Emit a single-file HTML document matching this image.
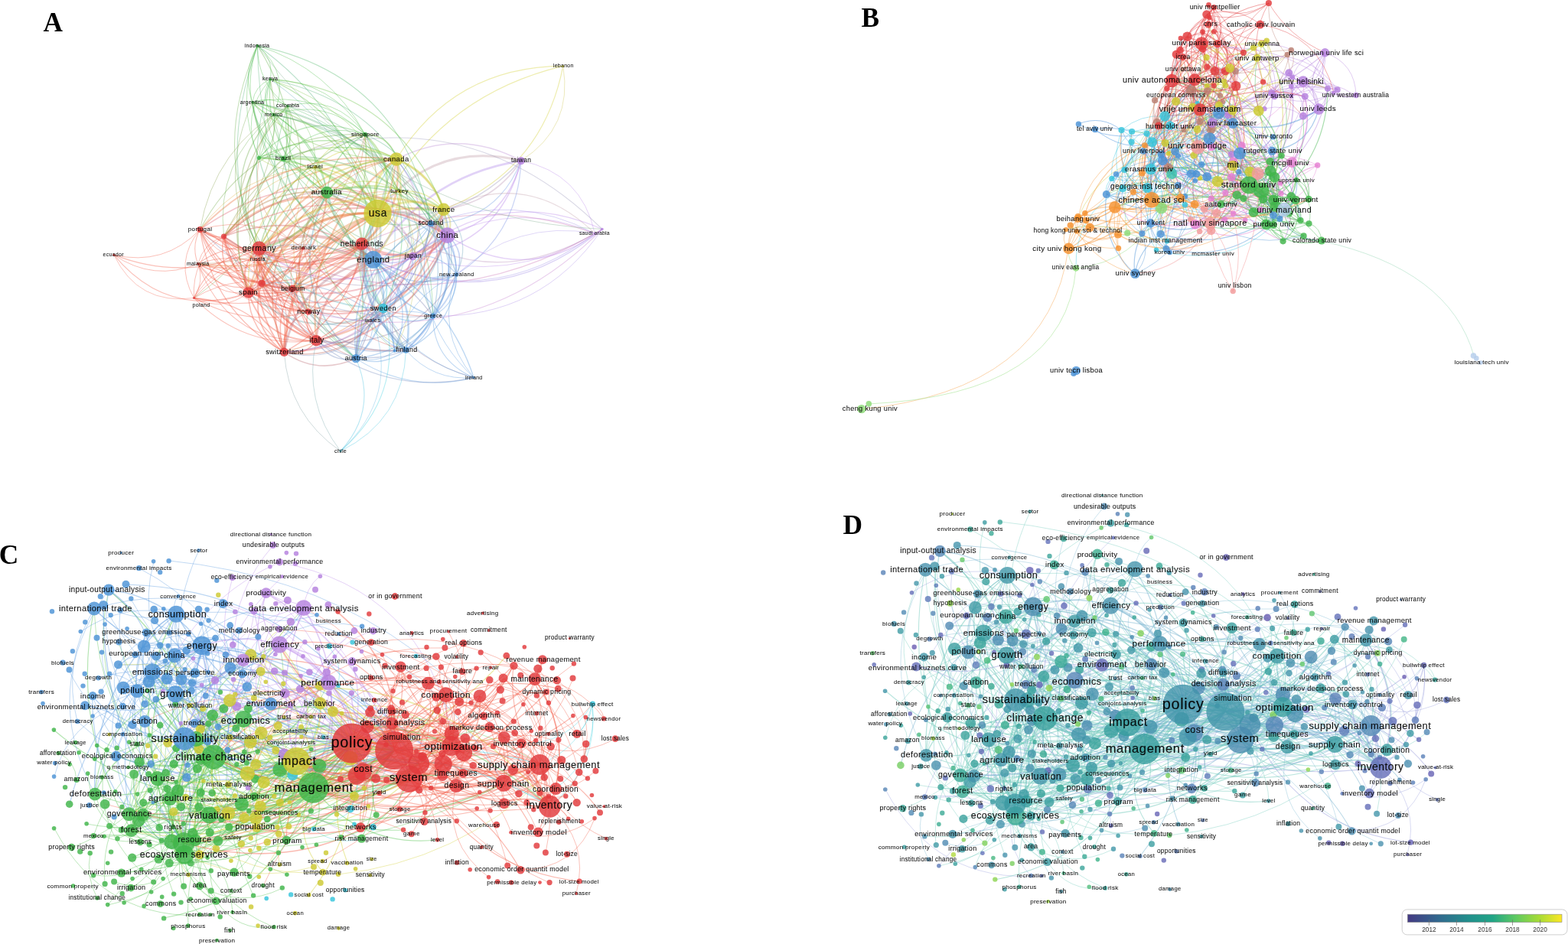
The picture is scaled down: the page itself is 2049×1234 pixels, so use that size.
<!DOCTYPE html><html><head><meta charset="utf-8"><title>Figure</title><style>html,body{margin:0;padding:0;background:#fff}body{width:2049px;height:1234px}svg{display:block}</style></head><body><svg width="2049" height="1234" viewBox="0 0 2049 1234"><rect width="2049" height="1234" fill="#fff"/><g id="pa"><g fill="none" stroke-opacity="0.38"><path d="M493.5 279Q373.6 272.9 324.6 382.5" stroke="#e6873d" stroke-width="2.9"/><path d="M338.6 324.6Q417.7 285.8 487.7 339.4" stroke="#d06968" stroke-width="3.7"/><path d="M521.9 250.3Q568.6 262.1 584.6 307.6" stroke="#cec44d" stroke-width="1.2"/><path d="M342 370.5Q360.7 408.4 402.9 407.6" stroke="#f25a45" stroke-width="1.2"/><path d="M584.6 307.6Q568.6 331.9 539.6 335" stroke="#bb88ea" stroke-width="2"/><path d="M493.5 279Q564.2 182.2 680.9 210.1" stroke="#c3a0ab" stroke-width="3"/><path d="M518 208Q529.2 277.1 472.9 318.7" stroke="#e87e3e" stroke-width="2.6"/><path d="M777.3 305.2Q622.4 250.2 472.9 318.7" stroke="#cf77ad" stroke-width="1.2"/><path d="M342 370.5Q336.1 380.6 324.6 382.5" stroke="#f25a45" stroke-width="2"/><path d="M292.5 309.1Q308.3 333.3 336.5 339.2" stroke="#f25a45" stroke-width="1"/><path d="M493.5 279Q569.7 126.1 735.8 86.4" stroke="#d2cf30" stroke-width="1.2"/><path d="M292.5 309.1Q311.6 328.6 338.6 324.6" stroke="#f25a45" stroke-width="1.3"/><path d="M411.8 218.4Q469.8 225.6 493.5 279" stroke="#d2cf30" stroke-width="2"/><path d="M584.6 307.6Q680.5 262.6 777.3 305.2" stroke="#bb88ea" stroke-width="1"/><path d="M518 208Q441.2 299.4 500.7 403" stroke="#74cf9e" stroke-width="2"/><path d="M338.4 206.4Q372.2 230.4 411.8 218.4" stroke="#a2ca39" stroke-width="1.1"/><path d="M261.4 300.1Q277.4 406.8 371.3 460.3" stroke="#f25a45" stroke-width="1.3"/><path d="M500.7 403Q532 514 444.9 589.7" stroke="#3ccfe0" stroke-width="1.1"/><path d="M477.2 175.8Q330.7 170.9 261.4 300.1" stroke="#73aa49" stroke-width="1.1"/><path d="M579.7 273.9Q575.7 287.1 562.9 292.3" stroke="#6fa4c1" stroke-width="1.6"/><path d="M402.9 407.6Q441.5 438.8 486.9 418.8" stroke="#6c93cd" stroke-width="1"/><path d="M777.3 305.2Q673.4 286.4 596.6 358.9" stroke="#a58ce8" stroke-width="0.9"/><path d="M493.5 279Q431.6 273.1 396.4 324.4" stroke="#ec7141" stroke-width="2"/><path d="M292.5 309.1Q358.2 468.8 530.5 457.7" stroke="#cb6b6d" stroke-width="1.3"/><path d="M518 208Q582.6 236.9 584.6 307.6" stroke="#cdc058" stroke-width="2.7"/><path d="M292.5 309.1Q382.1 207 518 208" stroke="#e7813e" stroke-width="1.8"/><path d="M680.9 210.1Q661.3 287 584.6 307.6" stroke="#bb88ea" stroke-width="1.6"/><path d="M500.7 403Q464.2 425.6 465.1 468.6" stroke="#56a1e0" stroke-width="2"/><path d="M292.5 309.1Q312.7 397.6 402.9 407.6" stroke="#f25a45" stroke-width="1.2"/><path d="M258.7 344.9Q298.8 452.3 413.3 445.2" stroke="#f25a45" stroke-width="1.1"/><path d="M487.7 339.4Q459.2 378.8 486.9 418.8" stroke="#5a9be0" stroke-width="1.2"/><path d="M487.7 339.4Q535.8 384.8 596.6 358.9" stroke="#5a9be0" stroke-width="1.5"/><path d="M338.4 206.4Q367.9 323.6 487.7 339.4" stroke="#52b577" stroke-width="1.4"/><path d="M487.7 339.4Q545.8 385.3 530.5 457.7" stroke="#5a9be0" stroke-width="2.4"/><path d="M777.3 305.2Q665.1 373 539.6 335" stroke="#bb88ea" stroke-width="1"/><path d="M261.4 300.1Q425.8 185.2 584.6 307.6" stroke="#e26775" stroke-width="1.6"/><path d="M342 370.5Q401.9 467.6 515.7 458.7" stroke="#768fc3" stroke-width="1.2"/><path d="M584.6 307.6Q497.6 359.2 515.7 458.7" stroke="#7496e3" stroke-width="1.4"/><path d="M579.7 273.9Q445.3 257.5 382.2 377.3" stroke="#e5883d" stroke-width="2"/><path d="M338.4 206.4Q394.1 206.9 427.4 251.6" stroke="#4fc04a" stroke-width="1.4"/><path d="M396.4 324.4Q339.8 384.2 371.3 460.3" stroke="#f25a45" stroke-width="1.2"/><path d="M579.7 273.9Q553.7 415.1 413.3 445.2" stroke="#ed6c42" stroke-width="2.4"/><path d="M493.5 279Q375.5 331.3 371.3 460.3" stroke="#ee6743" stroke-width="3.6"/><path d="M530.5 457.7Q565.6 498.3 619.1 493.6" stroke="#5a9be0" stroke-width="1"/><path d="M338.4 206.4Q291.8 291.3 324.6 382.5" stroke="#71ab49" stroke-width="1.4"/><path d="M487.7 339.4Q397 326.2 324.6 382.5" stroke="#c96c6f" stroke-width="2"/><path d="M338.4 206.4Q428.6 160.2 518 208" stroke="#5fc247" stroke-width="1.6"/><path d="M258.7 344.9Q317.7 406.4 402.9 407.6" stroke="#f25a45" stroke-width="1"/><path d="M357.4 149.9Q416.7 184 427.4 251.6" stroke="#4fc04a" stroke-width="1.4"/><path d="M539.6 335Q467.1 382.1 465.1 468.6" stroke="#a68ce8" stroke-width="1.8"/><path d="M596.6 358.9Q533.2 462 413.3 445.2" stroke="#9681a3" stroke-width="1.3"/><path d="M258.7 344.9Q290.9 388.3 342 370.5" stroke="#f25a45" stroke-width="1.1"/><path d="M596.6 358.9Q531 388.4 515.7 458.7" stroke="#5a9be0" stroke-width="1"/><path d="M518 208Q563.9 322.4 486.9 418.8" stroke="#89af9b" stroke-width="1.1"/><path d="M411.8 218.4Q387.7 379.4 530.5 457.7" stroke="#b3c25d" stroke-width="1.1"/><path d="M477.2 175.8Q476.6 226.8 521.9 250.3" stroke="#a0c93a" stroke-width="1"/><path d="M258.7 344.9Q353.9 364.6 371.3 460.3" stroke="#f25a45" stroke-width="1.1"/><path d="M579.7 273.9Q556.7 338.8 487.7 339.4" stroke="#c5c943" stroke-width="2.2"/><path d="M261.4 300.1Q287 342.6 336.5 339.2" stroke="#f25a45" stroke-width="1"/><path d="M342 370.5Q360.2 384.8 382.2 377.3" stroke="#f25a45" stroke-width="1.2"/><path d="M539.6 335Q542 381.5 500.7 403" stroke="#8da2e6" stroke-width="1.4"/><path d="M465.1 468.6Q536.7 514.7 619.1 493.6" stroke="#5a9be0" stroke-width="1.1"/><path d="M370.3 207.5Q456.5 200.9 493.5 279" stroke="#72c443" stroke-width="2.8"/><path d="M336.4 59.6Q480.4 162.6 487.7 339.4" stroke="#53b37d" stroke-width="1.2"/><path d="M411.8 218.4Q411.1 238.9 427.4 251.6" stroke="#a6ca39" stroke-width="1.3"/><path d="M584.6 307.6Q483 415.1 342 370.5" stroke="#e16878" stroke-width="2.1"/><path d="M353.2 103.7Q333 111.9 329.9 133.6" stroke="#4fc04a" stroke-width="1"/><path d="M562.9 292.3Q577.6 294.5 584.6 307.6" stroke="#6d97e2" stroke-width="2.2"/><path d="M258.7 344.9Q267.2 368.5 253.5 389.5" stroke="#f25a45" stroke-width="0.9"/><path d="M261.4 300.1Q362.6 361 472.9 318.7" stroke="#f25a45" stroke-width="1.7"/><path d="M357.4 149.9Q432.5 276.6 579.7 273.9" stroke="#77c542" stroke-width="1.3"/><path d="M353.2 103.7Q351.9 129.5 376 138.7" stroke="#4fc04a" stroke-width="0.9"/><path d="M336.4 59.6Q430.3 89.2 477.2 175.8" stroke="#4fc04a" stroke-width="1"/><path d="M370.3 207.5Q410.6 214.4 427.4 251.6" stroke="#4fc04a" stroke-width="1.4"/><path d="M261.4 300.1Q274.8 312.1 292.5 309.1" stroke="#f25a45" stroke-width="1.3"/><path d="M565.8 413.1Q558.8 443.8 530.5 457.7" stroke="#5a9be0" stroke-width="1.4"/><path d="M376 138.7Q311.2 333.2 465.1 468.6" stroke="#51ba64" stroke-width="1.1"/><path d="M376 138.7Q423 244.9 338.6 324.6" stroke="#7ba449" stroke-width="1.2"/><path d="M292.5 309.1Q321.5 364.1 382.2 377.3" stroke="#f25a45" stroke-width="1.1"/><path d="M353.2 103.7Q344.4 200.7 427.4 251.6" stroke="#4fc04a" stroke-width="1.3"/><path d="M370.3 207.5Q504.8 306.4 465.1 468.6" stroke="#51ba61" stroke-width="1.3"/><path d="M562.9 292.3Q673 250.1 777.3 305.2" stroke="#9f8ee7" stroke-width="1"/><path d="M324.6 382.5Q325.3 434.9 371.3 460.3" stroke="#f25a45" stroke-width="1.5"/><path d="M292.5 309.1Q282.8 357.1 324.6 382.5" stroke="#f25a45" stroke-width="1.6"/><path d="M472.9 318.7Q468.6 387.3 402.9 407.6" stroke="#f25a45" stroke-width="1.9"/><path d="M261.4 300.1Q226.9 342.1 253.5 389.5" stroke="#f25a45" stroke-width="1"/><path d="M735.8 86.4Q709 222.7 579.7 273.9" stroke="#d2cf30" stroke-width="1.2"/><path d="M427.4 251.6Q402.9 312.3 338.6 324.6" stroke="#64b349" stroke-width="2.6"/><path d="M353.2 103.7Q337.8 159.6 370.3 207.5" stroke="#4fc04a" stroke-width="1"/><path d="M253.5 389.5Q324.5 429 402.9 407.6" stroke="#f25a45" stroke-width="1.1"/><path d="M353.2 103.7Q286.9 323.7 465.1 468.6" stroke="#52b76f" stroke-width="1.1"/><path d="M539.6 335Q575.1 330.2 596.6 358.9" stroke="#6998e2" stroke-width="1.3"/><path d="M472.9 318.7Q486.3 324.8 487.7 339.4" stroke="#c36e75" stroke-width="2.5"/><path d="M402.9 407.6Q396.2 429.7 413.3 445.2" stroke="#f25a45" stroke-width="1.5"/><path d="M329.9 133.6Q482 160.6 562.9 292.3" stroke="#53b37e" stroke-width="1"/><path d="M539.6 335Q533.8 389.8 486.9 418.8" stroke="#6d97e2" stroke-width="1.1"/><path d="M562.9 292.3Q530.6 409.8 619.1 493.6" stroke="#5a9be0" stroke-width="1"/><path d="M382.2 377.3Q315 353.6 253.5 389.5" stroke="#f25a45" stroke-width="1"/><path d="M427.4 251.6Q556.4 281.1 565.8 413.1" stroke="#59a0cd" stroke-width="1.3"/><path d="M370.3 207.5Q607.6 122.6 786.9 299.5" stroke="#9b99bb" stroke-width="1.1"/><path d="M402.9 407.6Q453.4 440 500.7 403" stroke="#b78077" stroke-width="1.4"/><path d="M680.9 210.1Q653.1 321 539.6 335" stroke="#bb88ea" stroke-width="1.6"/><path d="M680.9 210.1Q554.6 230.5 487.7 339.4" stroke="#b08ae9" stroke-width="2.6"/><path d="M324.6 382.5Q405.6 453.3 500.7 403" stroke="#7aa7ab" stroke-width="2.2"/><path d="M565.8 413.1Q526.7 461.2 465.1 468.6" stroke="#5a9be0" stroke-width="1.5"/><path d="M338.6 324.6Q294.4 318.1 258.7 344.9" stroke="#f25a45" stroke-width="1.1"/><path d="M427.4 251.6Q367.5 373.8 465.1 468.6" stroke="#57a5b8" stroke-width="1.9"/><path d="M324.6 382.5Q354.8 395.3 382.2 377.3" stroke="#f25a45" stroke-width="1.6"/><path d="M376 138.7Q277.9 245.3 324.6 382.5" stroke="#8c9a48" stroke-width="1.3"/><path d="M336.4 59.6Q258.9 232.9 382.2 377.3" stroke="#6aaf49" stroke-width="1.1"/><path d="M338.6 324.6Q326.5 399.3 371.3 460.3" stroke="#f25a45" stroke-width="1.8"/><path d="M477.2 175.8Q465.8 308.2 336.5 339.2" stroke="#d06f46" stroke-width="1"/><path d="M500.7 403Q529.8 430 565.8 413.1" stroke="#52a9e0" stroke-width="1.2"/><path d="M472.9 318.7Q506.9 395.6 465.1 468.6" stroke="#7f8bba" stroke-width="1.6"/><path d="M329.9 133.6Q408.1 168.2 427.4 251.6" stroke="#4fc04a" stroke-width="1.2"/><path d="M562.9 292.3Q489.9 361.5 515.7 458.7" stroke="#5a9be0" stroke-width="1"/><path d="M735.8 86.4Q749.2 166.4 680.9 210.1" stroke="#cec44e" stroke-width="1"/><path d="M261.4 300.1Q334.9 279.1 396.4 324.4" stroke="#f25a45" stroke-width="1"/><path d="M427.4 251.6Q569.8 326.7 680.9 210.1" stroke="#9c98bc" stroke-width="1.5"/><path d="M253.5 389.5Q330.8 394.3 371.3 460.3" stroke="#f25a45" stroke-width="1.2"/><path d="M324.6 382.5Q345.7 446.7 413.3 445.2" stroke="#f25a45" stroke-width="2"/><path d="M530.5 457.7Q527.4 549.4 444.9 589.7" stroke="#41c6e0" stroke-width="1"/><path d="M493.5 279Q451.5 343.6 500.7 403" stroke="#54cfc3" stroke-width="2.8"/><path d="M487.7 339.4Q418.7 370 413.3 445.2" stroke="#dd635b" stroke-width="2.8"/><path d="M777.3 305.2Q642.7 408.2 487.7 339.4" stroke="#9a8ee7" stroke-width="1.1"/><path d="M486.9 418.8Q488.8 449.3 465.1 468.6" stroke="#5a9be0" stroke-width="1"/><path d="M486.9 418.8Q526.4 360.7 596.6 358.9" stroke="#5a9be0" stroke-width="0.9"/><path d="M493.5 279Q497.6 306.3 472.9 318.7" stroke="#e8803e" stroke-width="3"/><path d="M493.5 279Q478.9 234.3 518 208" stroke="#d2cf30" stroke-width="3.2"/><path d="M493.5 279Q408.9 315.7 402.9 407.6" stroke="#e6853d" stroke-width="1.8"/><path d="M584.6 307.6Q531.7 426.5 402.9 407.6" stroke="#e76467" stroke-width="2"/><path d="M411.8 218.4Q331 235.9 292.5 309.1" stroke="#dca937" stroke-width="1"/><path d="M357.4 149.9Q383 174.4 370.3 207.5" stroke="#4fc04a" stroke-width="1.1"/><path d="M786.9 299.5Q649.8 413.4 487.7 339.4" stroke="#a48de8" stroke-width="1.3"/><path d="M376 138.7Q384.5 298.2 253.5 389.5" stroke="#77a749" stroke-width="1"/><path d="M396.4 324.4Q374.4 346.8 382.2 377.3" stroke="#f25a45" stroke-width="1"/><path d="M579.7 273.9Q464.7 337.2 465.1 468.6" stroke="#86aea0" stroke-width="1.6"/><path d="M292.5 309.1Q381.8 358.7 371.3 460.3" stroke="#f25a45" stroke-width="1.1"/><path d="M680.9 210.1Q649.4 290.7 562.9 292.3" stroke="#6b98e2" stroke-width="1.2"/><path d="M336.4 59.6Q246.1 312.8 465.1 468.6" stroke="#53b47c" stroke-width="1.1"/><path d="M427.4 251.6Q471.4 270.7 472.9 318.7" stroke="#72aa49" stroke-width="2.7"/><path d="M493.5 279Q535.1 251.1 579.7 273.9" stroke="#d2cf30" stroke-width="3"/><path d="M336.4 59.6Q420.5 191.4 338.6 324.6" stroke="#64b349" stroke-width="1.2"/><path d="M370.3 207.5Q314.9 255.3 338.6 324.6" stroke="#73aa49" stroke-width="1.8"/><path d="M371.3 460.3Q377 542.7 444.9 589.7" stroke="#83a1a4" stroke-width="1"/><path d="M292.5 309.1Q265.9 317.8 258.7 344.9" stroke="#f25a45" stroke-width="1"/><path d="M786.9 299.5Q569.4 431.1 338.6 324.6" stroke="#cc7ab8" stroke-width="1.3"/><path d="M518 208Q564.9 265.4 539.6 335" stroke="#bd90d6" stroke-width="1.7"/><path d="M396.4 324.4Q422.7 432 530.5 457.7" stroke="#db645c" stroke-width="1.1"/><path d="M579.7 273.9Q528.4 339 565.8 413.1" stroke="#7daaad" stroke-width="1.5"/><path d="M396.4 324.4Q362.5 315.6 336.5 339.2" stroke="#f25a45" stroke-width="1"/><path d="M261.4 300.1Q249.6 321.8 258.7 344.9" stroke="#f25a45" stroke-width="1.1"/><path d="M427.4 251.6Q466.3 251.2 493.5 279" stroke="#78c542" stroke-width="2.8"/><path d="M292.5 309.1Q316.8 409.2 413.3 445.2" stroke="#f25a45" stroke-width="1.7"/><path d="M472.9 318.7Q486.6 455.8 619.1 493.6" stroke="#9482a5" stroke-width="1.1"/><path d="M338.6 324.6Q347 362 382.2 377.3" stroke="#f25a45" stroke-width="1.6"/><path d="M353.2 103.7Q466.9 156.5 493.5 279" stroke="#63c246" stroke-width="1.3"/><path d="M338.6 324.6Q479.3 299.2 565.8 413.1" stroke="#8489b5" stroke-width="1.5"/><path d="M338.4 206.4Q303.2 265.6 338.6 324.6" stroke="#74a949" stroke-width="1.6"/><path d="M680.9 210.1Q644.9 265.1 579.7 273.9" stroke="#c19bb8" stroke-width="1.8"/><path d="M336.4 59.6Q339.8 298 515.7 458.7" stroke="#52b674" stroke-width="1"/><path d="M258.7 344.9Q331.2 320.2 382.2 377.3" stroke="#f25a45" stroke-width="1.1"/><path d="M521.9 250.3Q400.7 263.7 342 370.5" stroke="#dab235" stroke-width="1.1"/><path d="M427.4 251.6Q353.8 288.9 342 370.5" stroke="#dd6746" stroke-width="1.8"/><path d="M148.8 333.2Q219.6 418.9 324.6 382.5" stroke="#f25a45" stroke-width="1.1"/><path d="M382.2 377.3Q345.2 375.1 336.5 339.2" stroke="#f25a45" stroke-width="1"/><path d="M411.8 218.4Q484.2 281.2 579.7 273.9" stroke="#d2cf30" stroke-width="1.4"/><path d="M579.7 273.9Q586 380.1 486.9 418.8" stroke="#6ea4c2" stroke-width="1.2"/><path d="M353.2 103.7Q519.3 219.1 486.9 418.8" stroke="#56a7b0" stroke-width="1"/><path d="M584.6 307.6Q455.5 228.6 338.6 324.6" stroke="#ea615e" stroke-width="2.1"/><path d="M477.2 175.8Q509.9 248.3 472.9 318.7" stroke="#849f48" stroke-width="1.3"/><path d="M500.7 403Q540.9 473.1 619.1 493.6" stroke="#56a1e0" stroke-width="1"/><path d="M493.5 279Q534.7 292.1 539.6 335" stroke="#bf96c6" stroke-width="2.4"/><path d="M579.7 273.9Q689.7 219.2 777.3 305.2" stroke="#c3a0aa" stroke-width="1.1"/><path d="M493.5 279Q503.4 310.5 487.7 339.4" stroke="#78a8b4" stroke-width="2.8"/><path d="M336.4 59.6Q504.6 286.7 786.9 299.5" stroke="#7aaa89" stroke-width="1"/><path d="M486.9 418.8Q515.8 428.3 515.7 458.7" stroke="#5a9be0" stroke-width="1"/><path d="M562.9 292.3Q596.8 316.9 596.6 358.9" stroke="#5a9be0" stroke-width="1.2"/><path d="M579.7 273.9Q524.5 421.9 371.3 460.3" stroke="#ea7740" stroke-width="1.4"/><path d="M539.6 335Q451.9 322.7 382.2 377.3" stroke="#df6a7f" stroke-width="1.7"/><path d="M579.7 273.9Q617.5 390.5 515.7 458.7" stroke="#6ea4c3" stroke-width="1.4"/><path d="M584.6 307.6Q564.2 374.3 500.7 403" stroke="#68b6e3" stroke-width="2.2"/><path d="M370.3 207.5Q389.9 308.3 487.7 339.4" stroke="#53b282" stroke-width="2"/><path d="M584.6 307.6Q528.9 455.1 371.3 460.3" stroke="#eb5f59" stroke-width="2.1"/><path d="M584.6 307.6Q598.7 397.5 530.5 457.7" stroke="#6b98e2" stroke-width="2.2"/><path d="M477.2 175.8Q553.7 209.3 562.9 292.3" stroke="#53b284" stroke-width="1.1"/><path d="M357.4 149.9Q468.2 169.4 493.5 279" stroke="#7dc541" stroke-width="1.4"/><path d="M518 208Q420 227.3 396.4 324.4" stroke="#ec7241" stroke-width="1.1"/><path d="M427.4 251.6Q395.7 281.1 396.4 324.4" stroke="#b58047" stroke-width="1.1"/><path d="M477.2 175.8Q431.8 342.9 258.7 344.9" stroke="#b58047" stroke-width="1"/><path d="M329.9 133.6Q414.5 116.6 477.2 175.8" stroke="#4fc04a" stroke-width="1"/><path d="M500.7 403Q455.3 475.4 371.3 460.3" stroke="#c7766a" stroke-width="1.8"/><path d="M486.9 418.8Q443.3 479.1 371.3 460.3" stroke="#7a8dbf" stroke-width="1.1"/><path d="M261.4 300.1Q387.9 425.7 565.8 413.1" stroke="#7d8cbc" stroke-width="1.2"/><path d="M329.9 133.6Q339.9 148.1 357.4 149.9" stroke="#4fc04a" stroke-width="1"/><path d="M324.6 382.5Q371.7 370.3 402.9 407.6" stroke="#f25a45" stroke-width="1.4"/><path d="M338.6 324.6Q277.5 332.7 253.5 389.5" stroke="#f25a45" stroke-width="1.2"/><path d="M486.9 418.8Q497.7 450.5 530.5 457.7" stroke="#5a9be0" stroke-width="1.1"/><path d="M584.6 307.6Q609 328.9 596.6 358.9" stroke="#7795e3" stroke-width="1.7"/><path d="M336.4 59.6Q306.7 144.3 370.3 207.5" stroke="#4fc04a" stroke-width="1.1"/><path d="M427.4 251.6Q461 205.5 518 208" stroke="#72c443" stroke-width="2"/><path d="M342 370.5Q354.9 429.6 413.3 445.2" stroke="#f25a45" stroke-width="1.7"/><path d="M292.5 309.1Q295.4 357.4 342 370.5" stroke="#f25a45" stroke-width="1.4"/><path d="M357.4 149.9Q283.1 230.3 338.6 324.6" stroke="#6fac49" stroke-width="1.4"/><path d="M530.5 457.7Q523.4 462.9 515.7 458.7" stroke="#5a9be0" stroke-width="1.1"/><path d="M411.8 218.4Q360.3 310.8 402.9 407.6" stroke="#dab235" stroke-width="1"/><path d="M477.2 175.8Q413.3 156.4 370.3 207.5" stroke="#4fc04a" stroke-width="1.1"/><path d="M342 370.5Q414.6 419.7 500.7 403" stroke="#cc7366" stroke-width="1.6"/><path d="M518 208Q394.5 214.4 338.6 324.6" stroke="#d9b535" stroke-width="2.1"/><path d="M411.8 218.4Q475.2 205.5 521.9 250.3" stroke="#d2cf30" stroke-width="1"/><path d="M579.7 273.9Q594.3 288.9 584.6 307.6" stroke="#cec44d" stroke-width="2"/><path d="M338.6 324.6Q400.8 402.7 500.7 403" stroke="#5fb8c2" stroke-width="2"/><path d="M338.4 206.4Q325.3 286.1 396.4 324.4" stroke="#c67546" stroke-width="1"/><path d="M486.9 418.8Q525.1 398.7 565.8 413.1" stroke="#5a9be0" stroke-width="1"/><path d="M253.5 389.5Q281.9 342.7 336.5 339.2" stroke="#f25a45" stroke-width="0.9"/><path d="M521.9 250.3Q567.1 355.9 515.7 458.7" stroke="#bdc64f" stroke-width="1"/><path d="M376 138.7Q362.1 213.2 427.4 251.6" stroke="#4fc04a" stroke-width="1.3"/><path d="M518 208Q537.8 281.7 487.7 339.4" stroke="#c4c944" stroke-width="2.7"/><path d="M324.6 382.5Q291.3 408.3 253.5 389.5" stroke="#f25a45" stroke-width="1"/><path d="M487.7 339.4Q509.6 394.5 565.8 413.1" stroke="#5a9be0" stroke-width="1.7"/><path d="M336.4 59.6Q358 76.6 353.2 103.7" stroke="#4fc04a" stroke-width="1"/><path d="M579.7 273.9Q572.7 313 539.6 335" stroke="#bf96c6" stroke-width="2.1"/><path d="M427.4 251.6Q369.9 322.5 402.9 407.6" stroke="#b18247" stroke-width="1.7"/><path d="M411.8 218.4Q502.3 247.5 539.6 335" stroke="#cab573" stroke-width="1.1"/><path d="M338.6 324.6Q339 407.8 413.3 445.2" stroke="#f25a45" stroke-width="2.4"/><path d="M376 138.7Q414.7 169.2 411.8 218.4" stroke="#62c246" stroke-width="0.9"/><path d="M487.7 339.4Q585.1 389.5 619.1 493.6" stroke="#5a9be0" stroke-width="1.4"/><path d="M338.6 324.6Q407.9 369.1 472.9 318.7" stroke="#f25a45" stroke-width="3.3"/><path d="M539.6 335Q456.5 343.6 402.9 407.6" stroke="#e36772" stroke-width="1.3"/><path d="M477.2 175.8Q559.9 282.1 500.7 403" stroke="#4dc25b" stroke-width="1.2"/><path d="M338.6 324.6Q435.5 399.6 539.6 335" stroke="#c381d2" stroke-width="2.2"/><path d="M477.2 175.8Q432.5 200.7 427.4 251.6" stroke="#4fc04a" stroke-width="1.5"/><path d="M472.9 318.7Q457.2 414.6 371.3 460.3" stroke="#f25a45" stroke-width="1.5"/><path d="M413.3 445.2Q431.1 475 465.1 468.6" stroke="#7a8ec0" stroke-width="1.6"/><path d="M565.8 413.1Q598.4 395.8 596.6 358.9" stroke="#5a9be0" stroke-width="1.2"/><path d="M539.6 335Q505 422.9 413.3 445.2" stroke="#ce78b2" stroke-width="1.9"/><path d="M261.4 300.1Q368.3 340.3 413.3 445.2" stroke="#f25a45" stroke-width="1.6"/><path d="M518 208Q591.3 299 565.8 413.1" stroke="#66a0ce" stroke-width="1.4"/><path d="M338.6 324.6Q341.7 388.7 402.9 407.6" stroke="#f25a45" stroke-width="1.8"/><path d="M477.2 175.8Q349.2 193.1 292.5 309.1" stroke="#8c9a48" stroke-width="1.1"/><path d="M292.5 309.1Q379.6 373.8 472.9 318.7" stroke="#f25a45" stroke-width="1.4"/><path d="M472.9 318.7Q374.4 402.2 258.7 344.9" stroke="#f25a45" stroke-width="1.2"/><path d="M518 208Q397.1 296.4 413.3 445.2" stroke="#e97c3f" stroke-width="2.4"/><path d="M427.4 251.6Q508.8 226.8 579.7 273.9" stroke="#81c640" stroke-width="2.1"/><path d="M376 138.7Q531.3 175.6 539.6 335" stroke="#74ad80" stroke-width="1.1"/><path d="M493.5 279Q626.2 391.7 777.3 305.2" stroke="#c098bf" stroke-width="1.3"/><path d="M596.6 358.9Q494.6 370.2 465.1 468.6" stroke="#5a9be0" stroke-width="1.2"/><path d="M357.4 149.9Q491.3 176.1 562.9 292.3" stroke="#52b770" stroke-width="1.1"/><path d="M493.5 279Q499.5 256.6 521.9 250.3" stroke="#d2cf30" stroke-width="1.6"/><path d="M371.3 460.3Q415.8 491.2 465.1 468.6" stroke="#be707a" stroke-width="1.6"/><path d="M329.9 133.6Q408.6 209.5 518 208" stroke="#78c542" stroke-width="1.1"/><path d="M500.7 403Q497.8 440 530.5 457.7" stroke="#53a7e0" stroke-width="1.3"/><path d="M493.5 279Q382.5 224.1 292.5 309.1" stroke="#ec6e41" stroke-width="2.9"/><path d="M565.8 413.1Q566 470.9 619.1 493.6" stroke="#5a9be0" stroke-width="1.1"/><path d="M584.6 307.6Q614.2 367.3 565.8 413.1" stroke="#6b98e2" stroke-width="1.9"/><path d="M396.4 324.4Q331.7 362.7 258.7 344.9" stroke="#f25a45" stroke-width="1"/><path d="M477.2 175.8Q550 294.6 486.9 418.8" stroke="#58a2c5" stroke-width="1"/><path d="M472.9 318.7Q461.8 369 500.7 403" stroke="#78a8ad" stroke-width="1.6"/><path d="M329.9 133.6Q360.7 166.9 338.4 206.4" stroke="#4fc04a" stroke-width="1"/><path d="M465.1 468.6Q494.4 535.7 444.9 589.7" stroke="#44c1e0" stroke-width="1.1"/><path d="M487.7 339.4Q524 412.3 465.1 468.6" stroke="#5a9be0" stroke-width="2.3"/><path d="M562.9 292.3Q550.9 371.2 486.9 418.8" stroke="#5a9be0" stroke-width="1"/><path d="M411.8 218.4Q317.6 224.1 261.4 300.1" stroke="#dcaa37" stroke-width="1"/><path d="M353.2 103.7Q312.3 150.3 338.4 206.4" stroke="#4fc04a" stroke-width="1"/><path d="M261.4 300.1Q292.7 335.1 338.6 324.6" stroke="#f25a45" stroke-width="1.4"/><path d="M493.5 279Q530.9 271.3 562.9 292.3" stroke="#89af9c" stroke-width="2"/><path d="M329.9 133.6Q357.5 275.8 487.7 339.4" stroke="#52b770" stroke-width="1.4"/><path d="M336.4 59.6Q380.9 96.9 357.4 149.9" stroke="#4fc04a" stroke-width="1"/><path d="M518 208Q501.5 333.9 382.2 377.3" stroke="#e97c3f" stroke-width="2"/><path d="M521.9 250.3Q406.2 246.8 336.5 339.2" stroke="#ed6b42" stroke-width="0.9"/><path d="M329.9 133.6Q266.4 274.7 382.2 377.3" stroke="#75a849" stroke-width="1"/><path d="M584.6 307.6Q532.8 353.6 472.9 318.7" stroke="#e96160" stroke-width="3.7"/><path d="M518 208Q600 166.3 680.9 210.1" stroke="#bd90d6" stroke-width="1.5"/><path d="M338.4 206.4Q431.4 209.7 493.5 279" stroke="#72c443" stroke-width="2.1"/><path d="M357.4 149.9Q424.9 127.5 477.2 175.8" stroke="#4fc04a" stroke-width="1"/><path d="M376 138.7Q280 191.9 261.4 300.1" stroke="#839f48" stroke-width="1"/><path d="M338.6 324.6Q245.6 370.7 148.8 333.2" stroke="#f25a45" stroke-width="1.4"/><path d="M786.9 299.5Q707.1 416.2 565.8 413.1" stroke="#ac8be8" stroke-width="1"/><path d="M562.9 292.3Q530.6 448.7 371.3 460.3" stroke="#9084a9" stroke-width="1.3"/><path d="M338.4 206.4Q489.5 189 584.6 307.6" stroke="#66b46c" stroke-width="1.7"/><path d="M427.4 251.6Q344.4 243.8 292.5 309.1" stroke="#b97e47" stroke-width="1.8"/><path d="M338.6 324.6Q323.5 348.8 342 370.5" stroke="#f25a45" stroke-width="1.8"/><path d="M329.9 133.6Q493.5 167.5 584.6 307.6" stroke="#6eb078" stroke-width="1.2"/><path d="M486.9 418.8Q522.9 518.2 444.9 589.7" stroke="#4eafe0" stroke-width="0.9"/><path d="M472.9 318.7Q410.8 369.6 336.5 339.2" stroke="#f25a45" stroke-width="1.1"/><path d="M261.4 300.1Q367.4 191.8 518 208" stroke="#eb7341" stroke-width="1.9"/><path d="M396.4 324.4Q311.1 326.5 253.5 389.5" stroke="#f25a45" stroke-width="1"/><path d="M427.4 251.6Q474.3 222.8 521.9 250.3" stroke="#b5cc36" stroke-width="1.2"/><path d="M518 208Q505.3 230.5 521.9 250.3" stroke="#d2cf30" stroke-width="1.2"/><path d="M584.6 307.6Q479.9 354.7 465.1 468.6" stroke="#7895e3" stroke-width="1.9"/><path d="M371.3 460.3Q387.5 390.1 336.5 339.2" stroke="#f25a45" stroke-width="1.1"/><path d="M427.4 251.6Q525.6 224.7 584.6 307.6" stroke="#5db95f" stroke-width="2"/><path d="M329.9 133.6Q354.2 124.8 376 138.7" stroke="#4fc04a" stroke-width="0.9"/><path d="M258.7 344.9Q277.7 388.1 324.6 382.5" stroke="#f25a45" stroke-width="1.1"/><path d="M357.4 149.9Q281.6 211.8 292.5 309.1" stroke="#69b049" stroke-width="1"/><path d="M402.9 407.6Q367.5 422.2 371.3 460.3" stroke="#f25a45" stroke-width="1.4"/><path d="M253.5 389.5Q319.5 457.1 413.3 445.2" stroke="#f25a45" stroke-width="1.2"/><path d="M376 138.7Q564.2 211.3 565.8 413.1" stroke="#51ba63" stroke-width="1"/><path d="M353.2 103.7Q377.3 222.5 292.5 309.1" stroke="#7fa249" stroke-width="1.1"/><path d="M413.3 445.2Q397.3 466.9 371.3 460.3" stroke="#f25a45" stroke-width="1.6"/><path d="M336.4 59.6Q336.1 109.3 376 138.7" stroke="#4fc04a" stroke-width="1"/><path d="M518 208Q458.7 336.1 530.5 457.7" stroke="#80aba9" stroke-width="1.6"/><path d="M493.5 279Q447.3 381.8 530.5 457.7" stroke="#6ba2c7" stroke-width="2.9"/><path d="M472.9 318.7Q412.6 324.8 382.2 377.3" stroke="#f25a45" stroke-width="1.4"/><path d="M353.2 103.7Q514.3 135.5 562.9 292.3" stroke="#53b47a" stroke-width="1.1"/><path d="M735.8 86.4Q593.3 87 518 208" stroke="#d2cf30" stroke-width="1.1"/><path d="M411.8 218.4Q422.1 280.9 472.9 318.7" stroke="#dda737" stroke-width="1.2"/><path d="M329.9 133.6Q348.5 267 472.9 318.7" stroke="#76a749" stroke-width="1"/><path d="M261.4 300.1Q301 394.8 402.9 407.6" stroke="#f25a45" stroke-width="1.3"/><path d="M292.5 309.1Q433 404.8 596.6 358.9" stroke="#9382a6" stroke-width="1.1"/><path d="M477.2 175.8Q370.5 215.4 338.6 324.6" stroke="#6dad49" stroke-width="1.6"/><path d="M465.1 468.6Q492.8 475.8 515.7 458.7" stroke="#5a9be0" stroke-width="1.1"/><path d="M342 370.5Q461.6 359.1 530.5 457.7" stroke="#7191c9" stroke-width="1.2"/><path d="M521.9 250.3Q558.6 286.8 539.6 335" stroke="#cec253" stroke-width="1"/><path d="M370.3 207.5Q441.3 307.3 562.9 292.3" stroke="#50bb5d" stroke-width="1.1"/><path d="M413.3 445.2Q395.6 524.8 444.9 589.7" stroke="#7aa7ac" stroke-width="1"/><path d="M357.4 149.9Q388.1 301.9 539.6 335" stroke="#69b370" stroke-width="1.1"/><path d="M148.8 333.2Q200.6 368.5 258.7 344.9" stroke="#f25a45" stroke-width="1"/><path d="M579.7 273.9Q619 310.2 596.6 358.9" stroke="#72a5bd" stroke-width="1.2"/><path d="M396.4 324.4Q372.9 368.8 324.6 382.5" stroke="#f25a45" stroke-width="1.2"/><path d="M493.5 279Q546.9 268.3 584.6 307.6" stroke="#c39fad" stroke-width="3.2"/><path d="M472.9 318.7Q416.7 392.4 324.6 382.5" stroke="#f25a45" stroke-width="1.9"/><path d="M338.4 206.4Q354.7 197.3 370.3 207.5" stroke="#4fc04a" stroke-width="1.1"/><path d="M477.2 175.8Q396.8 141.4 338.4 206.4" stroke="#4fc04a" stroke-width="1.1"/><path d="M427.4 251.6Q420.7 352.2 324.6 382.5" stroke="#da6946" stroke-width="2.3"/><path d="M376 138.7Q342.7 164.5 338.4 206.4" stroke="#4fc04a" stroke-width="1"/><path d="M680.9 210.1Q760.2 226.1 777.3 305.2" stroke="#bb88ea" stroke-width="1"/><path d="M261.4 300.1Q297.9 376 382.2 377.3" stroke="#f25a45" stroke-width="1.3"/><path d="M261.4 300.1Q317.2 322.7 324.6 382.5" stroke="#f25a45" stroke-width="1.3"/><path d="M382.2 377.3Q429.7 466.6 530.5 457.7" stroke="#8c86ad" stroke-width="1.5"/><path d="M396.4 324.4Q436.2 341.3 472.9 318.7" stroke="#f25a45" stroke-width="1.4"/><path d="M427.4 251.6Q439.7 307.7 487.7 339.4" stroke="#53b185" stroke-width="3.2"/><path d="M382.2 377.3Q386.3 396.7 402.9 407.6" stroke="#f25a45" stroke-width="1.3"/><path d="M336.4 59.6Q315.9 95.1 329.9 133.6" stroke="#4fc04a" stroke-width="1"/><path d="M342 370.5Q302.3 401.1 253.5 389.5" stroke="#f25a45" stroke-width="1"/><path d="M376 138.7Q387.3 174.3 370.3 207.5" stroke="#4fc04a" stroke-width="1"/><path d="M357.4 149.9Q299 256.7 342 370.5" stroke="#8b9a48" stroke-width="1"/><path d="M562.9 292.3Q605.7 386.5 530.5 457.7" stroke="#5a9be0" stroke-width="1.2"/><path d="M477.2 175.8Q509.6 176.6 518 208" stroke="#75c442" stroke-width="1.8"/><path d="M324.6 382.5Q344.6 364.7 336.5 339.2" stroke="#f25a45" stroke-width="1.1"/><path d="M579.7 273.9Q436.1 385.7 258.7 344.9" stroke="#ea7840" stroke-width="1"/><path d="M493.5 279Q412.9 299.9 382.2 377.3" stroke="#e6853d" stroke-width="2"/><path d="M413.3 445.2Q344.3 414.3 336.5 339.2" stroke="#f25a45" stroke-width="1"/><path d="M411.8 218.4Q319.6 274.6 324.6 382.5" stroke="#d5c332" stroke-width="1.3"/><path d="M472.9 318.7Q500.8 348.9 539.6 335" stroke="#c283d6" stroke-width="1.6"/><path d="M680.9 210.1Q677.3 306.3 596.6 358.9" stroke="#7c94e4" stroke-width="1.3"/><path d="M521.9 250.3Q557.3 246.1 579.7 273.9" stroke="#d2cf30" stroke-width="1.3"/><path d="M565.8 413.1Q550.4 446.4 515.7 458.7" stroke="#5a9be0" stroke-width="1.1"/><path d="M562.9 292.3Q539 337.7 487.7 339.4" stroke="#5a9be0" stroke-width="1.5"/><path d="M329.9 133.6Q451.6 161.4 493.5 279" stroke="#68c345" stroke-width="1.5"/><path d="M336.4 59.6Q307.2 133.5 338.4 206.4" stroke="#4fc04a" stroke-width="1"/><path d="M261.4 300.1Q277.7 362.8 342 370.5" stroke="#f25a45" stroke-width="1.3"/><path d="M258.7 344.9Q299.8 371.2 336.5 339.2" stroke="#f25a45" stroke-width="0.9"/><path d="M329.9 133.6Q333.5 179.6 370.3 207.5" stroke="#4fc04a" stroke-width="1.1"/><path d="M338.6 324.6Q367.6 340.8 396.4 324.4" stroke="#f25a45" stroke-width="1.3"/><path d="M342 370.5Q323.9 426.1 371.3 460.3" stroke="#f25a45" stroke-width="1.7"/><path d="M376 138.7Q439.3 122.7 477.2 175.8" stroke="#4fc04a" stroke-width="1"/><path d="M357.4 149.9Q364.6 183.8 338.4 206.4" stroke="#4fc04a" stroke-width="1"/><path d="M472.9 318.7Q490.1 404.1 413.3 445.2" stroke="#f25a45" stroke-width="1.9"/><path d="M472.9 318.7Q467 402.6 530.5 457.7" stroke="#7191c9" stroke-width="1.9"/><path d="M465.1 468.6Q373.9 430.6 336.5 339.2" stroke="#c76c70" stroke-width="1.1"/><path d="M493.5 279Q390.1 361.8 258.7 344.9" stroke="#e87d3f" stroke-width="1.8"/><path d="M487.7 339.4Q546.2 388.6 515.7 458.7" stroke="#5a9be0" stroke-width="1.2"/><path d="M382.2 377.3Q376 421.2 413.3 445.2" stroke="#f25a45" stroke-width="2"/><path d="M413.3 445.2Q468.6 482.8 530.5 457.7" stroke="#778ec2" stroke-width="1.3"/><path d="M396.4 324.4Q456.7 415.2 565.8 413.1" stroke="#dd635a" stroke-width="1.1"/><path d="M148.8 333.2Q180.6 399.5 253.5 389.5" stroke="#f25a45" stroke-width="0.9"/><path d="M413.3 445.2Q504.7 518.4 619.1 493.6" stroke="#798ec1" stroke-width="1.2"/><path d="M493.5 279Q573.1 282.8 596.6 358.9" stroke="#6ca3c5" stroke-width="1.9"/><path d="M353.2 103.7Q338.2 128.3 357.4 149.9" stroke="#4fc04a" stroke-width="1"/><path d="M465.1 468.6Q500.7 480.4 530.5 457.7" stroke="#5a9be0" stroke-width="1.3"/><path d="M486.9 418.8Q459.5 458.2 413.3 445.2" stroke="#7b8dbe" stroke-width="1.1"/><path d="M411.8 218.4Q461.3 176.3 518 208" stroke="#d2cf30" stroke-width="1.2"/><path d="M292.5 309.1Q438.2 226 584.6 307.6" stroke="#e96261" stroke-width="1.4"/><path d="M596.6 358.9Q592.1 427.4 530.5 457.7" stroke="#5a9be0" stroke-width="1.2"/><path d="M493.5 279Q386.2 272.5 342 370.5" stroke="#e97a3f" stroke-width="3.2"/><path d="M338.6 324.6Q310.2 348.4 324.6 382.5" stroke="#f25a45" stroke-width="2.4"/><path d="M584.6 307.6Q688.6 375.1 786.9 299.5" stroke="#bb88ea" stroke-width="1.3"/><path d="M342 370.5Q331 356.3 336.5 339.2" stroke="#f25a45" stroke-width="1"/><path d="M487.7 339.4Q390 361.8 371.3 460.3" stroke="#b77381" stroke-width="3"/><path d="M357.4 149.9Q507.8 175.7 584.6 307.6" stroke="#7aaa8a" stroke-width="1.5"/><path d="M396.4 324.4Q464.4 378 539.6 335" stroke="#e36671" stroke-width="1.2"/><path d="M396.4 324.4Q371.3 389.5 413.3 445.2" stroke="#f25a45" stroke-width="1.3"/><path d="M261.4 300.1Q214.5 348.5 148.8 333.2" stroke="#f25a45" stroke-width="1"/><path d="M521.9 250.3Q519.6 300.3 472.9 318.7" stroke="#d9b535" stroke-width="1.3"/><path d="M579.7 273.9Q444 227.1 338.6 324.6" stroke="#d8ba34" stroke-width="2.8"/><path d="M487.7 339.4Q423 393.3 342 370.5" stroke="#de635a" stroke-width="2.6"/><path d="M584.6 307.6Q478.9 429.5 324.6 382.5" stroke="#eb605b" stroke-width="2"/><path d="M487.7 339.4Q514.7 349.8 539.6 335" stroke="#9c8ee7" stroke-width="2"/><path d="M477.2 175.8Q433.3 179.8 411.8 218.4" stroke="#bccc34" stroke-width="1.1"/><path d="M472.9 318.7Q384.4 419.7 253.5 389.5" stroke="#f25a45" stroke-width="1.1"/><path d="M596.6 358.9Q568.1 432.9 619.1 493.6" stroke="#5a9be0" stroke-width="1"/><path d="M396.4 324.4Q381.3 367.4 402.9 407.6" stroke="#f25a45" stroke-width="1.1"/><path d="M518 208Q365.4 233.3 324.6 382.5" stroke="#e97b3f" stroke-width="2.3"/><path d="M518 208Q564.6 226.2 579.7 273.9" stroke="#d2cf30" stroke-width="2.7"/><path d="M336.4 59.6Q528.2 99.4 562.9 292.3" stroke="#51b86a" stroke-width="1.1"/><path d="M353.2 103.7Q435.1 105.6 477.2 175.8" stroke="#4fc04a" stroke-width="1"/><path d="M353.2 103.7Q467.8 142.2 521.9 250.3" stroke="#78c542" stroke-width="1"/><path d="M338.6 324.6Q381.2 421.4 486.9 418.8" stroke="#7c8dbe" stroke-width="1"/><path d="M370.3 207.5Q444.3 177.6 518 208" stroke="#72c443" stroke-width="1.6"/><path d="M427.4 251.6Q322.7 335.3 371.3 460.3" stroke="#dc6846" stroke-width="1.8"/><path d="M376 138.7Q369.4 148.8 357.4 149.9" stroke="#4fc04a" stroke-width="1"/><path d="M477.2 175.8Q488.9 304.5 382.2 377.3" stroke="#76a749" stroke-width="1.3"/><path d="M477.2 175.8Q524.6 221.2 493.5 279" stroke="#7ac541" stroke-width="2.4"/><path d="M292.5 309.1Q398.7 269 487.7 339.4" stroke="#d36764" stroke-width="1.7"/><path d="M487.7 339.4Q514.5 367 500.7 403" stroke="#44c1e0" stroke-width="1.7"/><path d="M396.4 324.4Q353.8 329.3 342 370.5" stroke="#f25a45" stroke-width="1.1"/><path d="M338.6 324.6Q333.9 331.4 336.5 339.2" stroke="#f25a45" stroke-width="1"/><path d="M382.2 377.3Q357.3 416.2 371.3 460.3" stroke="#f25a45" stroke-width="1.6"/><path d="M292.5 309.1Q421.4 199.4 562.9 292.3" stroke="#c06f78" stroke-width="1.2"/><path d="M786.9 299.5Q625.5 462.3 402.9 407.6" stroke="#c480cf" stroke-width="1.1"/><path d="M539.6 335Q497.7 454.4 371.3 460.3" stroke="#c77ec5" stroke-width="1.4"/><path d="M786.9 299.5Q652.3 240.8 539.6 335" stroke="#bb88ea" stroke-width="1.2"/><path d="M562.9 292.3Q608.7 351.6 565.8 413.1" stroke="#5a9be0" stroke-width="1.2"/><path d="M292.5 309.1Q250.2 338.2 253.5 389.5" stroke="#f25a45" stroke-width="1"/><path d="M562.9 292.3Q452.4 346.3 465.1 468.6" stroke="#5a9be0" stroke-width="1.4"/><path d="M402.9 407.6Q344.9 397.5 336.5 339.2" stroke="#f25a45" stroke-width="1"/><path d="M353.2 103.7Q520 117.6 579.7 273.9" stroke="#69c345" stroke-width="1.3"/></g><g fill-opacity="0.82"><circle cx="777.3" cy="305.2" r="1" fill="#b480de"/><circle cx="336.5" cy="339.2" r="1" fill="#e2393c"/><circle cx="735.8" cy="86.4" r="1.3" fill="#cdc931"/><circle cx="486.9" cy="418.8" r="1.3" fill="#4c93d6"/><circle cx="444.9" cy="589.7" r="1.3" fill="#35c4dc"/><circle cx="329.9" cy="133.6" r="1.6" fill="#3fb449"/><circle cx="376" cy="138.7" r="1.6" fill="#3fb449"/><circle cx="148.8" cy="333.2" r="1.6" fill="#e2393c"/><circle cx="258.7" cy="344.9" r="1.6" fill="#e2393c"/><circle cx="253.5" cy="389.5" r="1.6" fill="#e2393c"/><circle cx="619.1" cy="493.6" r="1.6" fill="#4c93d6"/><circle cx="336.4" cy="59.6" r="1.8" fill="#3fb449"/><circle cx="353.2" cy="103.7" r="1.8" fill="#3fb449"/><circle cx="786.9" cy="299.5" r="1.8" fill="#b480de"/><circle cx="357.4" cy="149.9" r="2.1" fill="#3fb449"/><circle cx="411.8" cy="218.4" r="2.1" fill="#cdc931"/><circle cx="521.9" cy="250.3" r="2.1" fill="#cdc931"/><circle cx="396.4" cy="324.4" r="2.1" fill="#e2393c"/><circle cx="515.7" cy="458.7" r="2.1" fill="#4c93d6"/><circle cx="338.4" cy="206.4" r="2.6" fill="#3fb449"/><circle cx="596.6" cy="358.9" r="2.6" fill="#4c93d6"/><circle cx="477.2" cy="175.8" r="3.1" fill="#3fb449"/><circle cx="370.3" cy="207.5" r="3.6" fill="#3fb449"/><circle cx="292.5" cy="309.1" r="3.6" fill="#e2393c"/><circle cx="565.8" cy="413.1" r="3.6" fill="#4c93d6"/><circle cx="261.4" cy="300.1" r="4.1" fill="#e2393c"/><circle cx="562.9" cy="292.3" r="4.1" fill="#4c93d6"/><circle cx="402.9" cy="407.6" r="4.1" fill="#e2393c"/><circle cx="530.5" cy="457.7" r="4.1" fill="#4c93d6"/><circle cx="342" cy="370.5" r="4.7" fill="#e2393c"/><circle cx="382.2" cy="377.3" r="4.7" fill="#e2393c"/><circle cx="680.9" cy="210.1" r="5.2" fill="#b480de"/><circle cx="539.6" cy="335" r="5.2" fill="#b480de"/><circle cx="371.3" cy="460.3" r="5.7" fill="#e2393c"/><circle cx="465.1" cy="468.6" r="5.7" fill="#4c93d6"/><circle cx="500.7" cy="403" r="6.2" fill="#35c4dc"/><circle cx="324.6" cy="382.5" r="7.3" fill="#e2393c"/><circle cx="413.3" cy="445.2" r="7.3" fill="#e2393c"/><circle cx="427.4" cy="251.6" r="7.8" fill="#3fb449"/><circle cx="579.7" cy="273.9" r="8.3" fill="#cdc931"/><circle cx="472.9" cy="318.7" r="8.3" fill="#e2393c"/><circle cx="518" cy="208" r="8.8" fill="#cdc931"/><circle cx="338.6" cy="324.6" r="9.3" fill="#e2393c"/><circle cx="584.6" cy="307.6" r="10.4" fill="#b480de"/><circle cx="487.7" cy="339.4" r="11.4" fill="#4c93d6"/><circle cx="493.5" cy="279" r="18.2" fill="#cdc931"/></g><g font-family="'Liberation Sans',sans-serif" text-anchor="middle" fill="#000" fill-opacity="0.93" stroke="#000" stroke-opacity="0.6" lengthAdjust="spacing"><text x="335.8" y="61.8" font-size="7.12" textLength="32.4" stroke-width="0.09">indonesia</text><text x="353" y="105.3" font-size="7.03" textLength="20" stroke-width="0.08">kenya</text><text x="329.4" y="135.7" font-size="7.02" textLength="31.1" stroke-width="0.08">argentina</text><text x="376" y="140.3" font-size="7.07" textLength="30.1" stroke-width="0.08">colombia</text><text x="357.4" y="151.5" font-size="6.93" textLength="23.3" stroke-width="0.08">mexico</text><text x="477.2" y="177.9" font-size="7.77" textLength="36.3" stroke-width="0.09">singapore</text><text x="370.1" y="209.3" font-size="7.85" textLength="20" stroke-width="0.09">brazil</text><text x="411.8" y="220.2" font-size="7.85" textLength="20" stroke-width="0.09">israel</text><text x="426.6" y="254" font-size="9.93" textLength="39.9" stroke-width="0.12">australia</text><text x="493.5" y="283.4" font-size="13.76" textLength="23.6" stroke-width="0.17">usa</text><text x="261.4" y="302" font-size="8.09" textLength="31.1" stroke-width="0.10">portugal</text><text x="736.1" y="88.2" font-size="6.99" textLength="26.5" stroke-width="0.08">lebanon</text><text x="517.7" y="210.6" font-size="9.51" textLength="33.2" stroke-width="0.11">canada</text><text x="680.9" y="212.1" font-size="8.43" textLength="25.9" stroke-width="0.10">taiwan</text><text x="521.9" y="252.2" font-size="8.06" textLength="23.3" stroke-width="0.10">turkey</text><text x="579.7" y="277" font-size="9.74" textLength="28.8" stroke-width="0.12">france</text><text x="562.9" y="293.7" font-size="8.31" textLength="32.9" stroke-width="0.10">scotland</text><text x="584.6" y="311.2" font-size="11.22" textLength="28.5" stroke-width="0.13">china</text><text x="776.8" y="306.8" font-size="6.85" textLength="39.7" stroke-width="0.08">saudi arabia</text><text x="338.6" y="327.8" font-size="10.59" textLength="43.8" stroke-width="0.13">germany</text><text x="396.7" y="326.2" font-size="7.83" textLength="32.4" stroke-width="0.09">denmark</text><text x="472.7" y="321.9" font-size="10.03" textLength="55.8" stroke-width="0.12">netherlands</text><text x="487.7" y="342.8" font-size="11.3" textLength="42.8" stroke-width="0.14">england</text><text x="539.8" y="336.7" font-size="8.27" textLength="21.5" stroke-width="0.10">japan</text><text x="148" y="335.3" font-size="7.02" textLength="27" stroke-width="0.08">ecuador</text><text x="258.5" y="346.9" font-size="6.92" textLength="29" stroke-width="0.08">malaysia</text><text x="336.5" y="341.2" font-size="6.85" textLength="19.5" stroke-width="0.08">russia</text><text x="324.3" y="384.6" font-size="9.69" textLength="24.6" stroke-width="0.12">spain</text><text x="382.7" y="379.5" font-size="8.35" textLength="31.1" stroke-width="0.10">belgium</text><text x="262.9" y="401.2" font-size="7.06" textLength="22.6" stroke-width="0.08">poland</text><text x="403.2" y="410" font-size="8.7" textLength="29.8" stroke-width="0.10">norway</text><text x="500.7" y="405.7" font-size="9.19" textLength="33.7" stroke-width="0.11">sweden</text><text x="486.9" y="420.7" font-size="7.34" textLength="20" stroke-width="0.09">wales</text><text x="566" y="415" font-size="7.18" textLength="23.3" stroke-width="0.09">greece</text><text x="596.6" y="360.9" font-size="7.6" textLength="45.4" stroke-width="0.09">new zealand</text><text x="413.8" y="448.3" font-size="10.14" textLength="19.2" stroke-width="0.12">italy</text><text x="371.8" y="462.8" font-size="9.26" textLength="49.3" stroke-width="0.11">switzerland</text><text x="465.1" y="470.8" font-size="9.02" textLength="28.8" stroke-width="0.11">austria</text><text x="531.3" y="459.8" font-size="8.85" textLength="27.7" stroke-width="0.11">finland</text><text x="444.9" y="591.8" font-size="7.11" textLength="15.6" stroke-width="0.09">chile</text><text x="619.1" y="495.7" font-size="6.98" textLength="22.3" stroke-width="0.08">ireland</text></g></g><g id="pb"><g fill="none" stroke-opacity="0.45"><path d="M1537 71Q1534 172 1453 233M1466 170Q1490 149 1522 152M1453 233Q1450 196 1479 172M1499 245Q1495 232 1504 221M1446 254Q1443 242 1453 233M1457 271Q1468 251 1453 233M1612 279Q1526 287 1469 222M1511 327Q1507 265 1562 236" stroke="#35c4dc" stroke-width="0.9"/><path d="M1522 152Q1513 201 1557 227M1506 186Q1581 180 1615 112M1469 222Q1489 182 1529 164M1549 268Q1525 277 1505 261" stroke="#35c4dc" stroke-width="1.2"/><path d="M1675 204Q1680 221 1665 232M1660 211Q1616 243 1563 227M1694 235Q1680 275 1638 277M1625 260Q1659 298 1711 292M1710 260Q1705 224 1675 204M1596 267Q1577 254 1577 231M1700 288Q1667 295 1638 277M1711 292Q1657 316 1612 279M1677 315Q1661 309 1655 293M1677 315Q1677 300 1664 294M1727 315Q1681 313 1666 270M1666 270Q1651 248 1660 224" stroke="#3fb449" stroke-width="0.9"/><path d="M1561 104Q1658 153 1664 261M1584 161Q1653 195 1666 270M1675 204Q1647 213 1620 201M1644 227Q1631 261 1596 267M1660 224Q1618 191 1565 192M1648 249Q1638 273 1655 293M1648 249Q1668 226 1663 197M1651 260Q1649 295 1677 315M1693 261Q1688 271 1678 274M1678 274Q1691 290 1711 292M1727 315Q1684 326 1655 293M1666 270Q1673 257 1687 257" stroke="#3fb449" stroke-width="1.2"/><path d="M1583 169Q1634 188 1632 242M1611 217Q1617 233 1632 242M1660 224Q1650 239 1632 242M1660 224Q1597 271 1531 227M1632 242Q1623 268 1596 267M1648 249Q1652 254 1651 260M1648 249Q1662 255 1666 270M1638 277Q1627 261 1632 242" stroke="#3fb449" stroke-width="1.6"/><path d="M1581 181Q1555 181 1535 198M1664 179Q1647 201 1620 201M1664 179Q1628 226 1570 215M1494 198Q1473 191 1466 170M1518 202Q1576 279 1672 286M1535 198Q1647 229 1723 143M1539 204Q1577 243 1632 242M1609 202Q1592 196 1581 181M1663 197Q1647 221 1619 225M1563 227Q1561 231 1562 236M1563 227Q1513 278 1446 254M1562 236Q1599 231 1620 201M1648 249Q1600 278 1549 257M1467 247Q1461 284 1492 305M1446 254Q1448 239 1458 228M1616 255Q1610 239 1619 225M1549 257Q1587 295 1638 277M1581 292Q1587 251 1619 225M1517 306Q1514 269 1539 242M1529 330Q1559 289 1539 242M1483 358Q1505 335 1492 305" stroke="#4c93d6" stroke-width="0.9"/><path d="M1593 148Q1620 225 1693 261M1593 148Q1551 178 1563 227M1570 215Q1610 205 1644 227M1504 221Q1524 216 1535 198M1527 220Q1543 216 1557 227M1527 220Q1521 217 1519 210M1539 242Q1515 229 1518 202M1505 261Q1504 221 1539 204M1505 261Q1526 259 1539 242M1672 286Q1662 285 1655 293M1483 358Q1489 325 1517 306" stroke="#4c93d6" stroke-width="1.2"/><path d="M1519 210Q1558 212 1581 181M1505 261Q1521 226 1494 198M1505 261Q1497 231 1519 210" stroke="#4c93d6" stroke-width="1.6"/><path d="M1461 307Q1468 310 1473 305M1473 305Q1530 325 1581 292M1473 305Q1506 302 1518 272" stroke="#8bdb76" stroke-width="0.9"/><path d="M1732 69Q1683 77 1662 122M1732 69Q1723 93 1735 116M1684 95Q1718 107 1723 143M1684 95Q1688 97 1689 101M1703 107Q1695 106 1689 101M1687 113Q1693 106 1703 107M1748 117Q1716 112 1687 126M1743 121Q1718 126 1703 107M1662 122Q1697 98 1735 116M1662 122Q1640 176 1581 181M1665 126Q1673 85 1638 62M1723 143Q1715 151 1703 152M1703 152Q1730 146 1743 121M1610 144Q1606 145 1605 150M1584 161Q1652 155 1684 95M1665 232Q1648 170 1584 161" stroke="#b480de" stroke-width="0.9"/><path d="M1643 76Q1664 96 1665 126M1732 69Q1641 147 1522 152M1703 107Q1724 119 1723 143M1662 122Q1666 174 1620 201M1723 143Q1703 103 1732 69M1605 150Q1588 139 1568 143M1514 165Q1572 156 1609 202M1584 161Q1656 101 1748 117M1611 161Q1597 169 1584 161M1583 169Q1646 149 1684 95M1583 191Q1639 96 1748 117" stroke="#b480de" stroke-width="1.2"/><path d="M1684 95Q1708 186 1632 242" stroke="#b480de" stroke-width="1.6"/><path d="M1678 274Q1690 295 1677 315M1678 274Q1660 277 1651 260" stroke="#b4cdec" stroke-width="1.2"/><path d="M1687 65Q1639 111 1577 88M1682 72Q1707 184 1616 255M1546 91Q1502 150 1527 220M1614 93Q1606 136 1568 159M1578 119Q1587 119 1594 125M1594 125Q1577 111 1557 118M1509 131Q1515 114 1531 105M1537 133Q1567 122 1598 133M1537 133Q1631 143 1687 65M1598 133Q1553 153 1509 131M1512 159Q1549 152 1583 169M1568 159Q1560 136 1578 119" stroke="#b97f71" stroke-width="0.9"/><path d="M1583 169Q1539 177 1527 220" stroke="#b97f71" stroke-width="1.2"/><path d="M1638 62Q1644 68 1643 76M1655 53Q1616 68 1600 107M1607 89Q1624 124 1611 161M1601 112Q1543 138 1527 201M1645 145Q1585 148 1560 203M1645 145Q1612 106 1561 104M1593 138Q1591 121 1600 107M1610 144Q1663 196 1666 270M1523 187Q1573 166 1623 190M1581 181Q1550 164 1523 187M1527 201Q1576 230 1633 225M1560 203Q1603 248 1660 224M1568 233Q1593 241 1596 267M1591 237Q1568 244 1561 267M1517 306Q1547 248 1523 187" stroke="#cdc931" stroke-width="0.9"/><path d="M1655 53Q1692 141 1665 232M1593 138Q1603 138 1610 144M1610 144Q1629 200 1601 252M1610 144Q1616 122 1600 107M1565 169Q1612 105 1579 32M1565 169Q1556 185 1560 203M1611 161Q1612 196 1633 225M1611 217Q1628 255 1666 270M1591 237Q1638 242 1664 281M1633 225Q1659 188 1645 145M1632 242Q1559 251 1523 187" stroke="#cdc931" stroke-width="1.2"/><path d="M1591 237Q1595 187 1568 143" stroke="#cdc931" stroke-width="1.6"/><path d="M1579 6Q1603 28 1591 57M1586 10Q1629 53 1615 112M1658 4Q1619 30 1579 6M1658 4Q1684 48 1732 69M1647 32Q1627 45 1625 69M1647 32Q1603 48 1577 88M1571 42Q1573 23 1586 10M1552 48Q1536 54 1537 71M1571 64Q1556 63 1552 48M1571 64Q1580 57 1591 57M1542 65Q1565 52 1591 57M1542 65Q1639 78 1703 152M1546 75Q1512 113 1514 165M1625 69Q1584 50 1546 75M1625 69Q1601 47 1570 57M1625 69Q1615 43 1586 41M1655 53Q1612 52 1581 23M1588 93Q1563 117 1531 105M1601 93Q1561 99 1537 133M1651 107Q1629 54 1658 4M1651 107Q1662 113 1665 126M1600 107Q1597 99 1601 93M1586 112Q1577 81 1546 75M1594 125Q1622 66 1577 19M1568 143Q1571 157 1565 169M1593 148Q1628 92 1586 41M1522 152Q1519 93 1571 64" stroke="#e2393c" stroke-width="0.9"/><path d="M1570 57Q1554 61 1546 75M1570 57Q1570 38 1581 23M1570 57Q1582 84 1561 104M1542 65Q1547 88 1531 105M1537 71Q1545 140 1611 161M1588 93Q1571 90 1561 104M1601 93Q1590 85 1577 88M1561 104Q1606 110 1625 69M1615 112Q1621 129 1610 144M1525 116Q1500 161 1519 210M1568 143Q1593 104 1591 57M1559 140Q1550 121 1561 104M1514 165Q1513 178 1523 187M1518 202Q1582 143 1591 57M1499 245Q1504 138 1601 93" stroke="#e2393c" stroke-width="1.2"/><path d="M1565 192Q1552 131 1601 93" stroke="#e2393c" stroke-width="1.6"/><path d="M1687 126Q1668 193 1609 232M1583 191Q1657 169 1703 107M1494 198Q1573 260 1674 253M1535 198Q1616 166 1688 212M1688 212Q1689 231 1673 240M1722 216Q1689 224 1674 253M1673 240Q1653 250 1632 242M1601 252Q1650 245 1663 197M1674 253Q1665 208 1620 201M1674 253Q1659 231 1633 225M1583 260Q1593 267 1590 279M1627 288Q1612 270 1590 279M1647 274Q1631 274 1625 260M1562 293Q1564 271 1583 260M1677 315Q1697 276 1673 240" stroke="#e57fd2" stroke-width="0.9"/><path d="M1688 212Q1657 265 1600 287M1644 227Q1628 242 1609 232M1655 293Q1608 323 1562 293" stroke="#e57fd2" stroke-width="1.2"/><path d="M1577 231Q1567 251 1574 273M1633 225Q1605 268 1556 287M1600 287Q1592 293 1581 292M1503 292Q1531 298 1556 287" stroke="#f29a9a" stroke-width="0.9"/><path d="M1590 279Q1631 267 1633 225M1583 302Q1561 333 1524 325" stroke="#f29a9a" stroke-width="1.2"/><path d="M1518 202Q1538 182 1565 192" stroke="#f29a9a" stroke-width="1.6"/><path d="M1492 226Q1506 200 1535 198M1563 227Q1524 283 1457 271M1481 251Q1516 283 1561 267M1561 267Q1593 260 1609 232M1583 302Q1523 344 1461 307M1408 286Q1413 296 1424 297M1424 297Q1409 307 1393 300M1407 302Q1475 283 1529 330M1461 307Q1518 304 1561 267M1461 307Q1433 322 1407 302M1517 306Q1546 241 1496 190" stroke="#f5912e" stroke-width="0.9"/><path d="M1466 170Q1455 229 1505 261M1499 245Q1489 218 1496 190M1481 251Q1490 263 1505 261M1543 259Q1537 199 1479 186M1457 271Q1487 283 1518 272M1424 297Q1495 279 1519 210" stroke="#f5912e" stroke-width="1.2"/><path d="M1505 261Q1484 280 1457 271" stroke="#f5912e" stroke-width="1.6"/><path d="M1531 227Q1575 248 1611 217" stroke="#35bfae" stroke-width="0.9"/><path d="M1644 227Q1588 200 1531 227" stroke="#35bfae" stroke-width="1.6"/><path d="M1565 135Q1507 159 1504 221M1512 159Q1563 202 1549 268M1529 164Q1498 161 1479 186M1529 164Q1518 180 1499 175M1479 172Q1473 167 1466 170M1479 172Q1472 213 1499 245M1469 222Q1478 242 1499 245M1469 222Q1497 266 1549 268M1469 222Q1516 176 1581 181M1453 233Q1505 221 1543 259M1453 233Q1506 246 1539 204M1543 259Q1491 232 1499 175M1693 261Q1625 357 1511 327M1562 293Q1550 283 1549 268M1511 327Q1522 326 1525 315" stroke="#35c4dc" stroke-width="0.9"/><path d="M1529 164Q1546 212 1591 237M1611 217Q1579 177 1529 164" stroke="#35c4dc" stroke-width="1.2"/><path d="M1593 148Q1532 165 1504 221M1504 221Q1501 183 1522 152M1518 272Q1504 262 1499 245" stroke="#35c4dc" stroke-width="1.6"/><path d="M1612 211Q1678 201 1710 260M1611 217Q1664 218 1693 261M1665 232Q1670 219 1660 211M1632 242Q1654 250 1666 270M1616 255Q1593 279 1561 267M1616 255Q1602 255 1596 267M1687 257Q1662 282 1677 315M1638 277Q1636 265 1625 260M1638 277Q1710 235 1703 152M1711 292Q1726 298 1727 315M1711 292Q1716 260 1694 235M1664 294Q1688 269 1694 235M1727 315Q1684 262 1616 255M1666 270Q1661 282 1664 294" stroke="#3fb449" stroke-width="0.9"/><path d="M1565 192Q1616 232 1675 204M1660 211Q1677 239 1666 270M1688 212Q1714 229 1710 260M1688 212Q1700 235 1687 257M1665 232Q1660 261 1685 279M1632 242Q1636 256 1651 260M1632 242Q1621 245 1616 255M1648 249Q1660 250 1664 261M1625 260Q1583 236 1565 192M1687 257Q1676 227 1644 227M1687 257Q1701 269 1700 288M1518 272Q1603 238 1685 279M1638 277Q1669 283 1693 261M1581 292Q1593 282 1596 267M1704 308Q1679 300 1678 274" stroke="#3fb449" stroke-width="1.2"/><path d="M1531 105Q1626 132 1660 224M1504 221Q1581 211 1648 249M1660 224Q1662 228 1665 232M1648 249Q1665 265 1687 257M1648 249Q1667 267 1693 261M1648 249Q1638 258 1625 260M1457 271Q1549 235 1638 277M1638 277Q1651 266 1648 249M1581 292Q1610 284 1616 255" stroke="#3fb449" stroke-width="1.6"/><path d="M1584 161Q1557 193 1577 231M1458 228Q1516 288 1600 287M1619 225Q1642 263 1685 279M1619 225Q1619 216 1612 211M1665 232Q1640 242 1619 225M1539 242Q1539 228 1527 220M1499 245Q1475 265 1446 254M1543 259Q1515 237 1518 202M1664 281Q1667 286 1672 286M1672 286Q1626 255 1574 273M1655 293Q1597 283 1562 236M1492 305Q1542 279 1563 227M1503 292Q1483 245 1519 210M1727 315Q1693 313 1672 286M1483 358Q1544 331 1561 267" stroke="#4c93d6" stroke-width="0.9"/><path d="M1643 76Q1579 109 1581 181M1723 143Q1711 190 1663 197M1611 161Q1601 179 1581 181M1535 198Q1583 238 1644 227M1620 201Q1622 232 1648 249M1620 201Q1625 213 1619 225M1557 227Q1519 164 1561 104M1563 227Q1573 178 1610 144M1446 254Q1478 277 1518 272M1687 257Q1630 349 1524 325M1678 274Q1605 331 1517 306M1672 286Q1667 229 1611 217M1672 286Q1678 281 1678 274M1524 325Q1530 244 1581 181M1483 358Q1478 320 1503 292" stroke="#4c93d6" stroke-width="1.2"/><path d="M1591 237Q1582 239 1577 231M1503 292Q1542 308 1581 292" stroke="#4c93d6" stroke-width="1.6"/><path d="M1406 351Q1483 342 1518 272" stroke="#8bdb76" stroke-width="0.9"/><path d="M1732 69Q1715 116 1665 126M1684 95Q1694 110 1687 126M1735 116Q1711 58 1648 57M1748 117Q1708 63 1643 76M1772 125Q1771 83 1732 69M1772 125Q1751 132 1735 116M1665 126Q1700 114 1723 143M1705 126Q1636 113 1584 161M1705 126Q1689 193 1620 201M1687 126Q1727 111 1732 69M1723 143Q1715 114 1689 101M1723 143Q1699 113 1662 122M1703 152Q1732 145 1735 116M1703 152Q1680 135 1652 142M1584 161Q1540 160 1506 186M1609 202Q1615 251 1664 261M1531 227Q1576 232 1609 202" stroke="#b480de" stroke-width="0.9"/><path d="M1703 107Q1685 122 1662 122M1705 126Q1721 192 1665 232M1605 150Q1663 170 1665 232M1605 150Q1582 143 1578 119M1584 161Q1564 202 1519 210" stroke="#b480de" stroke-width="1.2"/><path d="M1614 93Q1585 87 1561 104M1578 119Q1530 115 1512 159M1568 159Q1584 145 1605 150M1547 170Q1571 204 1611 217M1535 198Q1536 182 1547 170M1517 306Q1510 196 1594 125" stroke="#b97f71" stroke-width="0.9"/><path d="M1614 93Q1550 94 1522 152M1531 105Q1573 98 1598 133M1557 118Q1507 138 1496 190M1557 118Q1567 147 1547 170M1598 133Q1582 215 1638 277M1610 144Q1584 137 1568 159M1611 161Q1594 156 1583 169M1581 181Q1579 175 1583 169M1678 274Q1594 244 1568 159" stroke="#b97f71" stroke-width="1.2"/><path d="M1531 105Q1547 105 1557 118" stroke="#b97f71" stroke-width="1.6"/><path d="M1577 75Q1558 116 1568 159M1577 75Q1581 99 1601 112M1601 112Q1598 99 1607 89M1578 119Q1550 157 1560 203M1537 133Q1511 164 1527 201M1593 138Q1535 136 1506 186M1610 144Q1627 180 1611 217M1527 201Q1530 197 1535 198M1560 203Q1554 214 1557 227M1574 273Q1631 212 1593 138" stroke="#cdc931" stroke-width="0.9"/><path d="M1648 57Q1649 67 1643 76M1648 57Q1540 138 1518 272M1537 133Q1622 175 1664 261M1537 133Q1572 144 1581 181M1645 145Q1656 102 1638 62M1568 143Q1554 133 1537 133M1559 140Q1578 168 1611 161M1610 144Q1594 192 1633 225M1565 169Q1583 149 1610 144M1611 217Q1620 227 1633 225M1581 292Q1593 242 1560 203" stroke="#cdc931" stroke-width="1.2"/><path d="M1645 145Q1607 111 1557 118" stroke="#cdc931" stroke-width="1.6"/><path d="M1586 10Q1603 32 1591 57M1658 4Q1621 31 1577 19M1579 32Q1581 28 1581 23M1647 32Q1572 88 1581 181M1571 42Q1579 39 1586 41M1543 50Q1547 47 1552 48M1570 57Q1554 54 1542 65M1591 57Q1584 75 1588 93M1591 57Q1612 81 1615 112M1591 57Q1575 39 1552 48M1537 71Q1538 67 1542 65M1546 75Q1497 183 1574 273M1625 69Q1595 146 1514 165M1577 88Q1581 93 1588 93M1614 93Q1611 61 1586 41M1586 112Q1587 97 1601 93M1522 152Q1531 134 1525 116" stroke="#e2393c" stroke-width="0.9"/><path d="M1543 50Q1544 111 1593 148M1546 75Q1532 87 1531 105M1601 93Q1577 84 1561 104M1561 104Q1590 93 1615 112M1561 104Q1524 124 1514 165M1651 107Q1605 131 1561 104M1586 112Q1576 99 1561 104M1529 164Q1548 87 1625 69M1611 161Q1623 119 1588 93M1505 261Q1494 180 1568 143" stroke="#e2393c" stroke-width="1.2"/><path d="M1568 143Q1597 136 1615 112M1527 220Q1505 151 1561 104" stroke="#e2393c" stroke-width="1.6"/><path d="M1583 191Q1568 226 1583 260M1623 190Q1620 167 1605 150M1722 216Q1660 185 1609 232M1673 240Q1649 265 1616 255M1583 260Q1590 239 1609 232M1549 268Q1593 260 1627 288M1600 287Q1645 276 1673 240M1647 274Q1674 232 1722 216M1666 270Q1710 260 1722 216" stroke="#e57fd2" stroke-width="0.9"/><path d="M1570 57Q1651 157 1612 279M1705 126Q1716 173 1688 212M1612 211Q1572 243 1527 220M1612 211Q1624 204 1623 190M1633 225Q1615 198 1583 191M1562 293Q1593 283 1601 252" stroke="#e57fd2" stroke-width="1.2"/><path d="M1591 237Q1633 198 1688 212" stroke="#e57fd2" stroke-width="1.6"/><path d="M1644 227Q1596 226 1581 181M1574 273Q1607 259 1638 277M1562 293Q1572 286 1574 273M1556 287Q1556 270 1543 259M1568 302Q1564 286 1574 273M1524 325Q1551 323 1568 302" stroke="#f29a9a" stroke-width="0.9"/><path d="M1579 32Q1531 109 1565 192M1570 215Q1561 205 1565 192M1609 232Q1594 204 1565 192M1644 227Q1617 262 1574 273M1518 272Q1532 291 1556 287M1574 273Q1572 284 1581 292" stroke="#f29a9a" stroke-width="1.2"/><path d="M1633 225Q1630 275 1581 292" stroke="#f29a9a" stroke-width="1.6"/><path d="M1496 190Q1540 141 1546 75M1418 279Q1426 286 1424 297M1418 279Q1486 313 1549 268M1409 283Q1400 285 1399 295M1419 288Q1416 284 1418 279M1399 295Q1405 292 1408 286M1393 300Q1428 291 1461 307M1461 307Q1431 304 1409 283M1396 325Q1399 301 1419 288" stroke="#f5912e" stroke-width="0.9"/><path d="M1543 259Q1573 263 1591 237M1561 267Q1522 257 1504 221M1457 271Q1445 319 1396 325M1518 272Q1492 235 1496 190M1418 279Q1439 211 1506 186M1408 286Q1429 268 1457 271M1419 288Q1441 286 1457 271M1396 325Q1416 316 1424 297M1396 325Q1396 303 1408 286" stroke="#f5912e" stroke-width="1.2"/><path d="M1408 286Q1452 255 1505 261" stroke="#f5912e" stroke-width="1.6"/><path d="M1531 227Q1511 239 1505 261" stroke="#35bfae" stroke-width="1.6"/><path d="M1565 135Q1574 119 1561 104M1565 135Q1555 185 1577 231M1522 152Q1523 159 1529 164M1466 170Q1451 209 1467 247M1499 175Q1516 169 1522 152M1506 186Q1499 182 1499 175M1504 221Q1511 204 1506 186M1562 236Q1517 260 1467 247M1525 315Q1495 254 1506 186M1511 327Q1491 296 1505 261" stroke="#35c4dc" stroke-width="0.9"/><path d="M1522 152Q1525 174 1506 186M1499 175Q1517 196 1504 221M1506 186Q1563 198 1593 148" stroke="#35c4dc" stroke-width="1.2"/><path d="M1643 76Q1630 147 1675 204M1663 197Q1671 197 1675 204M1660 211Q1611 189 1560 203M1694 235Q1675 253 1648 249M1616 255Q1620 273 1638 277M1700 288Q1679 297 1664 281M1655 293Q1633 283 1625 260M1677 315Q1689 306 1704 308" stroke="#3fb449" stroke-width="0.9"/><path d="M1735 116Q1734 205 1664 261M1675 204Q1634 242 1655 293M1660 211Q1663 217 1660 224M1632 242Q1663 259 1664 294M1664 261Q1672 247 1665 232M1651 260Q1665 250 1665 232M1693 261Q1704 294 1677 315M1693 261Q1683 275 1666 270M1678 274Q1659 285 1638 277M1685 279Q1682 275 1678 274M1666 270Q1655 283 1638 277" stroke="#3fb449" stroke-width="1.2"/><path d="M1612 211Q1629 222 1632 242M1678 274Q1674 265 1664 261M1700 288Q1678 248 1632 242" stroke="#3fb449" stroke-width="1.6"/><path d="M1543 50Q1606 88 1611 161M1514 165Q1532 201 1570 215M1494 198Q1503 219 1527 220M1518 202Q1505 204 1494 198M1663 197Q1620 222 1570 215M1527 220Q1526 207 1535 198M1458 228Q1477 233 1481 251M1577 231Q1568 250 1549 257M1446 254Q1494 256 1527 220M1549 257Q1593 261 1619 225M1549 257Q1545 237 1563 227M1561 267Q1556 247 1563 227M1651 260Q1671 265 1672 286M1518 272Q1505 304 1529 330M1492 305Q1468 245 1518 202M1492 305Q1495 296 1503 292M1503 292Q1459 239 1466 170M1529 330Q1574 321 1590 279" stroke="#4c93d6" stroke-width="0.9"/><path d="M1593 138Q1617 165 1620 201M1664 179Q1622 177 1593 148M1620 201Q1580 184 1568 143M1519 210Q1547 204 1563 227M1688 212Q1707 255 1672 286M1531 227Q1528 216 1519 210M1557 227Q1582 211 1581 181M1660 224Q1668 211 1663 197M1518 272Q1507 279 1503 292M1700 288Q1684 205 1611 161M1503 292Q1501 203 1583 169M1483 358Q1437 316 1446 254" stroke="#4c93d6" stroke-width="1.2"/><path d="M1557 118Q1569 158 1611 161M1723 143Q1671 178 1611 161M1581 181Q1596 207 1591 237M1620 201Q1638 223 1665 232M1519 210Q1523 150 1561 104M1457 271Q1467 219 1519 210M1664 281Q1655 256 1632 242" stroke="#4c93d6" stroke-width="1.6"/><path d="M1473 305Q1453 184 1557 118" stroke="#8bdb76" stroke-width="0.9"/><path d="M1519 210Q1533 241 1518 272" stroke="#8bdb76" stroke-width="1.6"/><path d="M1732 69Q1733 104 1705 126M1689 101Q1631 106 1611 161M1703 107Q1690 112 1687 126M1703 107Q1740 104 1772 125M1687 113Q1644 145 1594 125M1687 113Q1712 105 1735 116M1748 117Q1671 51 1571 64M1748 117Q1706 145 1662 122M1665 126Q1599 83 1537 133M1665 126Q1664 123 1662 122M1652 142Q1612 130 1584 161M1568 143Q1599 165 1609 202M1559 140Q1614 154 1662 122M1583 169Q1608 176 1609 202M1609 202Q1565 186 1559 140" stroke="#b480de" stroke-width="0.9"/><path d="M1557 118Q1577 135 1584 161M1611 161Q1622 182 1609 202M1565 192Q1596 182 1605 150M1644 227Q1633 206 1609 202" stroke="#b480de" stroke-width="1.2"/><path d="M1586 41Q1517 117 1527 220M1687 65Q1666 154 1583 191M1687 65Q1695 81 1684 95M1682 72Q1656 43 1658 4M1614 93Q1608 97 1601 93M1557 118Q1553 141 1568 159M1557 118Q1564 113 1561 104M1509 131Q1505 149 1514 165M1509 131Q1588 70 1687 65M1509 131Q1541 112 1578 119M1559 140Q1532 141 1512 159M1547 170Q1494 185 1458 228M1547 170Q1604 237 1688 212M1494 198Q1528 136 1598 133M1504 221Q1516 170 1568 159M1527 220Q1526 156 1578 119M1664 261Q1604 233 1583 169" stroke="#b97f71" stroke-width="0.9"/><path d="M1578 119Q1588 223 1687 257M1522 152Q1557 144 1583 169M1512 159Q1512 129 1531 105M1583 169Q1592 152 1610 144M1561 267Q1551 214 1583 169" stroke="#b97f71" stroke-width="1.2"/><path d="M1577 75Q1606 116 1584 161M1577 75Q1512 113 1523 187M1638 62Q1649 62 1655 53M1638 62Q1641 56 1648 57M1655 53Q1666 101 1645 145M1643 76Q1577 100 1565 169M1682 72Q1643 98 1645 145M1607 89Q1573 122 1565 169M1607 89Q1596 105 1577 112M1601 112Q1563 102 1537 133M1593 138Q1637 170 1633 225M1593 148Q1574 152 1565 169M1479 172Q1550 182 1610 144M1523 187Q1540 169 1565 169M1527 201Q1620 171 1643 76M1568 233Q1593 229 1612 211M1568 233Q1610 271 1666 270M1562 293Q1525 254 1527 201M1408 286Q1442 207 1527 201" stroke="#cdc931" stroke-width="0.9"/><path d="M1643 76Q1636 100 1615 112M1735 116Q1663 86 1610 144M1645 145Q1628 139 1610 144M1559 140Q1545 168 1565 192M1523 187Q1515 180 1506 186M1581 181Q1604 192 1611 217M1591 237Q1623 195 1610 144" stroke="#cdc931" stroke-width="1.2"/><path d="M1579 6Q1583 52 1625 69M1581 23Q1612 37 1625 69M1581 23Q1559 27 1552 48M1552 48Q1577 59 1577 88M1591 57Q1608 72 1601 93M1588 93Q1593 103 1586 112M1588 93Q1571 73 1546 75M1601 93Q1612 52 1581 23M1607 89Q1616 36 1658 4M1561 104Q1575 102 1577 88M1615 112Q1618 62 1571 42M1525 116Q1566 118 1593 148M1743 121Q1724 45 1647 32M1581 181Q1591 119 1546 75M1565 192Q1560 148 1586 112" stroke="#e2393c" stroke-width="0.9"/><path d="M1579 32Q1581 47 1570 57M1571 42Q1633 75 1645 145M1552 48Q1600 64 1615 112M1561 104Q1583 76 1571 42M1525 116Q1541 104 1561 104M1568 143Q1633 107 1705 126M1522 152Q1532 87 1591 57" stroke="#e2393c" stroke-width="1.2"/><path d="M1531 105Q1529 72 1552 48M1561 104Q1554 126 1568 143M1568 143Q1571 159 1583 169" stroke="#e2393c" stroke-width="1.6"/><path d="M1703 107Q1710 178 1673 240M1611 161Q1591 171 1583 191M1583 191Q1603 182 1623 190M1663 197Q1689 217 1722 216M1660 211Q1642 248 1601 252M1688 212Q1643 253 1583 260M1722 216Q1662 259 1591 237M1609 232Q1640 283 1700 288M1673 240Q1686 259 1710 260M1499 245Q1525 193 1583 191M1601 252Q1547 254 1504 221M1674 253Q1651 266 1625 260M1583 260Q1634 243 1678 274M1583 260Q1571 305 1525 315M1600 287Q1626 289 1647 274M1647 274Q1599 261 1562 293M1517 306Q1569 279 1627 288" stroke="#e57fd2" stroke-width="0.9"/><path d="M1523 187Q1511 252 1562 293M1565 192Q1586 223 1583 260M1623 190Q1652 212 1688 212M1611 217Q1604 266 1562 293M1577 231Q1611 224 1623 190M1678 274Q1628 278 1609 232" stroke="#e57fd2" stroke-width="1.2"/><path d="M1688 212Q1695 245 1678 274" stroke="#e57fd2" stroke-width="1.6"/><path d="M1574 273Q1527 252 1518 202M1556 287Q1576 294 1590 279M1568 302Q1621 232 1610 144M1583 302Q1587 243 1644 227" stroke="#f29a9a" stroke-width="0.9"/><path d="M1565 192Q1579 168 1568 143M1644 227Q1642 239 1648 249M1581 292Q1579 297 1583 302" stroke="#f29a9a" stroke-width="1.2"/><path d="M1644 227Q1616 183 1565 192M1660 224Q1653 229 1644 227M1581 292Q1634 280 1644 227" stroke="#f29a9a" stroke-width="1.6"/><path d="M1571 64Q1502 108 1496 190M1496 190Q1500 223 1481 251M1527 220Q1497 225 1481 251M1492 226Q1566 290 1664 281M1492 226Q1457 269 1461 324M1492 226Q1490 247 1505 261M1557 227Q1537 192 1496 190M1499 245Q1492 254 1481 251M1457 271Q1463 239 1492 226M1518 272Q1505 252 1481 251M1409 283Q1476 248 1479 172M1408 286Q1408 284 1409 283M1399 295Q1421 328 1461 324M1407 302Q1404 294 1408 286M1461 307Q1560 355 1638 277M1525 315Q1524 285 1505 261M1396 325Q1416 306 1418 279M1461 324Q1465 346 1483 358M1461 324Q1448 272 1469 222" stroke="#f5912e" stroke-width="0.9"/><path d="M1505 261Q1534 252 1561 267M1457 271Q1550 287 1632 242M1424 297Q1422 285 1409 283M1525 315Q1478 314 1457 271M1461 324Q1441 299 1457 271" stroke="#f5912e" stroke-width="1.2"/><path d="M1710 260Q1608 310 1505 261" stroke="#f5912e" stroke-width="1.6"/><path d="M1531 227Q1538 169 1593 148" stroke="#35bfae" stroke-width="0.9"/><path d="M1648 57Q1590 78 1565 135M1568 143Q1508 177 1499 245M1529 164Q1523 181 1506 186M1466 170Q1523 205 1518 272M1479 172Q1556 154 1612 211M1479 186Q1483 206 1469 222M1479 186Q1474 179 1479 172M1453 233Q1548 167 1543 50M1467 247Q1463 214 1479 186M1467 247Q1404 279 1406 351M1549 268Q1572 282 1596 267" stroke="#35c4dc" stroke-width="0.9"/><path d="M1506 186Q1497 170 1479 172M1504 221Q1515 242 1539 242M1504 221Q1524 185 1565 192M1499 245Q1483 239 1467 247" stroke="#35c4dc" stroke-width="1.2"/><path d="M1570 57Q1558 195 1655 293M1648 57Q1696 124 1675 204M1531 105Q1637 105 1675 204M1535 198Q1597 262 1685 279M1675 204Q1660 226 1633 225M1612 211Q1614 242 1596 267M1694 235Q1711 242 1710 260M1632 242Q1641 263 1664 261M1616 255Q1648 243 1660 211M1651 260Q1662 279 1685 279M1651 260Q1653 274 1664 281M1693 261Q1689 277 1700 288M1596 267Q1525 214 1446 254M1685 279Q1658 258 1660 224M1664 294Q1660 292 1655 293M1664 294Q1675 263 1665 232M1704 308Q1686 299 1685 279" stroke="#3fb449" stroke-width="0.9"/><path d="M1660 224Q1684 258 1664 294M1632 242Q1638 251 1648 249M1625 260Q1662 313 1727 315M1664 261Q1673 287 1700 288M1664 261Q1679 271 1693 261M1687 257Q1657 261 1632 242M1710 260Q1691 276 1666 270M1678 274Q1671 275 1666 270M1590 279Q1622 309 1664 294M1685 279Q1673 280 1666 270M1655 293Q1652 278 1666 270M1664 294Q1666 268 1648 249M1562 293Q1626 309 1685 279" stroke="#3fb449" stroke-width="1.2"/><path d="M1660 224Q1661 239 1648 249M1665 232Q1683 182 1645 145M1632 242Q1613 228 1591 237M1632 242Q1658 268 1693 261M1664 261Q1646 261 1638 277" stroke="#3fb449" stroke-width="1.6"/><path d="M1593 148Q1555 162 1535 198M1539 204Q1541 227 1562 236M1539 204Q1558 201 1570 215M1519 210Q1516 206 1518 202M1458 228Q1486 208 1519 210M1557 227Q1542 239 1549 257M1557 227Q1560 228 1563 227M1563 227Q1520 227 1506 186M1577 231Q1551 227 1539 204M1562 236Q1534 227 1518 202M1619 225Q1584 297 1503 292M1543 259Q1544 240 1557 227M1664 281Q1629 222 1562 236M1664 281Q1601 271 1570 215M1704 308Q1609 333 1549 257M1524 325Q1514 283 1549 257M1529 330Q1504 319 1503 292" stroke="#4c93d6" stroke-width="0.9"/><path d="M1581 181Q1593 207 1577 231M1581 181Q1606 180 1620 201M1581 181Q1601 167 1610 144M1518 202Q1532 222 1557 227M1519 210Q1515 191 1496 190M1519 210Q1556 200 1577 231M1570 215Q1548 213 1531 227M1531 227Q1542 214 1535 198M1619 225Q1630 230 1632 242M1648 249Q1640 229 1619 225M1446 254Q1499 156 1610 144M1505 261Q1524 227 1563 227M1503 292Q1507 312 1524 325" stroke="#4c93d6" stroke-width="1.2"/><path d="M1593 148Q1625 165 1620 201M1565 192Q1569 164 1593 148" stroke="#4c93d6" stroke-width="1.6"/><path d="M1393 300Q1434 288 1473 305M1406 351Q1395 340 1396 325" stroke="#8bdb76" stroke-width="0.9"/><path d="M1732 69Q1699 70 1689 101M1689 101Q1653 84 1614 93M1772 125Q1757 129 1743 121M1662 122Q1628 124 1614 93M1703 152Q1705 128 1687 113M1703 152Q1728 115 1772 125M1605 150Q1579 127 1588 93M1663 197Q1645 160 1605 150" stroke="#b480de" stroke-width="0.9"/><path d="M1684 95Q1691 106 1703 107M1703 107Q1727 105 1748 117M1735 116Q1724 188 1665 232M1705 126Q1654 59 1570 57M1605 150Q1623 136 1645 145" stroke="#b480de" stroke-width="1.2"/><path d="M1678 274Q1619 272 1577 231" stroke="#b4cdec" stroke-width="1.2"/><path d="M1682 72Q1601 84 1568 159M1546 91Q1540 83 1546 75M1607 89Q1555 113 1547 170M1568 159Q1563 163 1565 169M1583 169Q1522 173 1492 226M1481 251Q1476 199 1512 159" stroke="#b97f71" stroke-width="0.9"/><path d="M1583 191Q1582 172 1568 159M1623 190Q1613 133 1557 118M1527 220Q1500 179 1509 131" stroke="#b97f71" stroke-width="1.2"/><path d="M1557 118Q1566 188 1504 221" stroke="#b97f71" stroke-width="1.6"/><path d="M1638 62Q1615 67 1607 89M1648 57Q1578 53 1531 105M1600 107Q1587 106 1577 112M1601 112Q1596 144 1568 159M1577 112Q1508 173 1543 259M1577 112Q1570 94 1577 75M1645 145Q1674 102 1648 57M1523 187Q1514 197 1519 210M1560 203Q1539 201 1523 187M1633 225Q1644 158 1600 107M1518 272Q1549 261 1568 233" stroke="#cdc931" stroke-width="0.9"/><path d="M1570 57Q1602 83 1638 62M1577 112Q1601 121 1610 144M1560 203Q1574 168 1611 161M1633 225Q1638 229 1644 227" stroke="#cdc931" stroke-width="1.2"/><path d="M1607 89Q1597 63 1570 57M1591 237Q1622 230 1648 249" stroke="#cdc931" stroke-width="1.6"/><path d="M1586 10Q1593 41 1571 64M1577 19Q1568 29 1571 42M1577 19Q1584 17 1586 10M1577 19Q1537 53 1531 105M1581 23Q1580 15 1586 10M1579 32Q1580 25 1577 19M1647 32Q1615 7 1577 19M1586 41Q1613 72 1615 112M1552 48Q1561 32 1579 32M1542 65Q1550 45 1571 42M1542 65Q1551 35 1581 23M1546 75Q1515 162 1577 231M1577 88Q1591 63 1571 42M1577 88Q1562 53 1577 19M1588 93Q1561 77 1552 48M1531 105Q1560 96 1586 112M1615 112Q1594 63 1543 50M1559 140Q1535 110 1537 71M1492 305Q1482 139 1586 10" stroke="#e2393c" stroke-width="0.9"/><path d="M1579 6Q1600 48 1588 93M1586 10Q1545 49 1561 104M1658 4Q1603 12 1570 57M1647 32Q1614 34 1591 57M1570 57Q1586 36 1586 10M1537 71Q1558 81 1561 104M1601 93Q1573 86 1570 57M1615 112Q1647 215 1583 302M1568 143Q1553 100 1570 57M1568 159Q1555 133 1561 104M1514 165Q1534 136 1568 143" stroke="#e2393c" stroke-width="1.2"/><path d="M1552 48Q1546 78 1561 104M1531 105Q1547 113 1561 104M1615 112Q1600 136 1611 161M1615 112Q1571 131 1531 105" stroke="#e2393c" stroke-width="1.6"/><path d="M1583 191Q1603 193 1612 211M1623 190Q1650 197 1660 224M1663 197Q1644 186 1623 190M1612 211Q1628 252 1600 287M1609 232Q1635 254 1627 288M1601 252Q1593 215 1623 190M1612 279Q1591 300 1562 293M1612 279Q1594 275 1583 260M1600 287Q1543 308 1505 261M1627 288Q1575 279 1563 227" stroke="#e57fd2" stroke-width="0.9"/><path d="M1623 190Q1613 164 1584 161M1531 227Q1559 260 1601 252M1609 232Q1625 249 1648 249M1609 232Q1619 293 1677 315M1457 271Q1505 303 1562 293M1647 274Q1652 262 1648 249" stroke="#e57fd2" stroke-width="1.2"/><path d="M1577 19Q1515 161 1583 302M1590 279Q1570 319 1525 315M1581 292Q1590 288 1590 279M1556 287Q1543 230 1494 198" stroke="#f29a9a" stroke-width="0.9"/><path d="M1565 192Q1538 159 1499 175M1644 227Q1655 222 1660 211M1632 242Q1582 253 1568 302M1590 279Q1600 229 1565 192M1590 279Q1580 281 1574 273M1483 358Q1551 352 1581 292" stroke="#f29a9a" stroke-width="1.2"/><path d="M1590 279Q1555 264 1518 272" stroke="#f29a9a" stroke-width="1.6"/><path d="M1506 186Q1487 202 1492 226M1496 190Q1425 211 1409 283M1539 242Q1541 262 1561 267M1481 251Q1455 273 1461 307M1409 283Q1506 310 1563 227M1409 283Q1451 281 1481 251M1419 288Q1457 282 1481 251M1419 288Q1420 294 1424 297M1399 295Q1426 321 1461 307M1393 300Q1386 314 1396 325M1407 302Q1434 345 1483 358M1396 325Q1409 306 1409 283" stroke="#f5912e" stroke-width="0.9"/><path d="M1496 190Q1477 229 1505 261M1457 271Q1434 276 1424 297M1562 293Q1561 271 1543 259M1583 302Q1565 288 1561 267" stroke="#f5912e" stroke-width="1.2"/><path d="M1505 261Q1462 313 1396 325" stroke="#f5912e" stroke-width="1.6"/></g><g fill="none" stroke-opacity="0.55" stroke-width="1"><path d="M1396 325Q1371 510 1126 535" stroke="#f7b36a"/><path d="M1406 351Q1392 516 1135 528" stroke="#a4e392"/><path d="M1727 315Q1894 352 1926 465" stroke="#a6dcc0"/><path d="M1611 381Q1612 330 1581 292M1611 381Q1585 340 1583 302M1611 381Q1650 300 1643 228M1611 381Q1630 320 1600 252" stroke="#f5a3a3"/><path d="M1409 162Q1440 150 1465 170M1409 162Q1450 185 1498 175M1431 169Q1455 165 1479 172M1431 169Q1470 200 1505 186" stroke="#5a9be0"/><path d="M1407 484Q1403 488 1403 491" stroke="#5a9be0"/></g><g fill-opacity="0.82"><circle cx="1742.8" cy="121.1" r="2.8" fill="#b480de"/><circle cx="1687.3" cy="125.7" r="2.8" fill="#b480de"/><circle cx="1935" cy="474" r="2.8" fill="#b4cdec"/><circle cx="1580.6" cy="22.9" r="3.2" fill="#e2393c"/><circle cx="1542.8" cy="50" r="3.2" fill="#e2393c"/><circle cx="1545.6" cy="90.6" r="3.2" fill="#b97f71"/><circle cx="1689.1" cy="100.9" r="3.2" fill="#b480de"/><circle cx="1652.4" cy="142.2" r="3.2" fill="#b480de"/><circle cx="1564.6" cy="135.3" r="3.2" fill="#35c4dc"/><circle cx="1597.8" cy="133" r="3.2" fill="#b97f71"/><circle cx="1526.8" cy="200.6" r="3.2" fill="#cdc931"/><circle cx="1561.8" cy="236.2" r="3.2" fill="#4c93d6"/><circle cx="1568" cy="232.7" r="3.2" fill="#cdc931"/><circle cx="1694.1" cy="235" r="3.2" fill="#3fb449"/><circle cx="1673.1" cy="239.6" r="3.2" fill="#e57fd2"/><circle cx="1627.3" cy="287.8" r="3.2" fill="#e57fd2"/><circle cx="1392.9" cy="300.1" r="3.2" fill="#f5912e"/><circle cx="1407.1" cy="302.4" r="3.2" fill="#f5912e"/><circle cx="1525.2" cy="315.3" r="3.2" fill="#35c4dc"/><circle cx="1528.7" cy="330" r="3.2" fill="#4c93d6"/><circle cx="1511" cy="326.7" r="3.2" fill="#35c4dc"/><circle cx="1929.3" cy="468.4" r="3.3" fill="#b4cdec"/><circle cx="1579.5" cy="6.4" r="3.4" fill="#e2393c"/><circle cx="1571.5" cy="41.7" r="3.4" fill="#e2393c"/><circle cx="1586.4" cy="41.3" r="3.4" fill="#e2393c"/><circle cx="1586.4" cy="111.9" r="3.4" fill="#e2393c"/><circle cx="1577.2" cy="112.4" r="3.4" fill="#cdc931"/><circle cx="1687.3" cy="112.8" r="3.4" fill="#b480de"/><circle cx="1586.4" cy="9.6" r="3.7" fill="#e2393c"/><circle cx="1655.2" cy="53.2" r="3.7" fill="#cdc931"/><circle cx="1687.3" cy="65.4" r="3.7" fill="#b97f71"/><circle cx="1682.2" cy="71.5" r="3.7" fill="#b97f71"/><circle cx="1650.6" cy="107.1" r="3.7" fill="#e2393c"/><circle cx="1599.7" cy="106.6" r="3.7" fill="#cdc931"/><circle cx="1601.3" cy="111.9" r="3.7" fill="#cdc931"/><circle cx="1524.9" cy="115.8" r="3.7" fill="#e2393c"/><circle cx="1594.4" cy="125" r="3.7" fill="#b97f71"/><circle cx="1772.1" cy="124.5" r="3.7" fill="#b480de"/><circle cx="1546.9" cy="169.7" r="3.7" fill="#b97f71"/><circle cx="1409.4" cy="162.3" r="3.7" fill="#4c93d6"/><circle cx="1495.8" cy="189.9" r="3.7" fill="#f5912e"/><circle cx="1663.7" cy="178.9" r="3.7" fill="#4c93d6"/><circle cx="1539.4" cy="203.6" r="3.7" fill="#4c93d6"/><circle cx="1721.7" cy="216" r="3.7" fill="#e57fd2"/><circle cx="1458.4" cy="227.7" r="3.7" fill="#4c93d6"/><circle cx="1452.9" cy="233.4" r="3.7" fill="#35c4dc"/><circle cx="1618.9" cy="224.7" r="3.7" fill="#4c93d6"/><circle cx="1674" cy="252.9" r="3.7" fill="#e57fd2"/><circle cx="1548.5" cy="256.8" r="3.7" fill="#4c93d6"/><circle cx="1548.5" cy="267.8" r="3.7" fill="#35c4dc"/><circle cx="1611.6" cy="279.3" r="3.7" fill="#e57fd2"/><circle cx="1417.8" cy="278.6" r="3.7" fill="#f5912e"/><circle cx="1646.8" cy="274.5" r="3.7" fill="#e57fd2"/><circle cx="1567.6" cy="302.4" r="3.7" fill="#f29a9a"/><circle cx="1461.5" cy="324.5" r="3.7" fill="#f5912e"/><circle cx="1611.2" cy="380.6" r="3.7" fill="#f29a9a"/><circle cx="1135.3" cy="527.9" r="3.8" fill="#8bdb76"/><circle cx="1403" cy="488.2" r="3.8" fill="#4c93d6"/><circle cx="1925.5" cy="465" r="3.8" fill="#b4cdec"/><circle cx="1657.9" cy="4.1" r="4.1" fill="#e2393c"/><circle cx="1624.9" cy="68.8" r="4.1" fill="#e2393c"/><circle cx="1576.7" cy="75.2" r="4.1" fill="#cdc931"/><circle cx="1638" cy="62.4" r="4.1" fill="#cdc931"/><circle cx="1577.2" cy="87.6" r="4.1" fill="#e2393c"/><circle cx="1509.1" cy="131.2" r="4.1" fill="#b97f71"/><circle cx="1735" cy="115.8" r="4.1" fill="#b480de"/><circle cx="1747.6" cy="117.4" r="4.1" fill="#b480de"/><circle cx="1430.9" cy="169.2" r="4.1" fill="#4c93d6"/><circle cx="1465.5" cy="170.1" r="4.1" fill="#35c4dc"/><circle cx="1479.1" cy="172" r="4.1" fill="#35c4dc"/><circle cx="1498.6" cy="174.7" r="4.1" fill="#35c4dc"/><circle cx="1478.6" cy="185.7" r="4.1" fill="#35c4dc"/><circle cx="1494" cy="197.7" r="4.1" fill="#4c93d6"/><circle cx="1674.7" cy="203.6" r="4.1" fill="#3fb449"/><circle cx="1570.3" cy="215.1" r="4.1" fill="#4c93d6"/><circle cx="1469.4" cy="222" r="4.1" fill="#35c4dc"/><circle cx="1539.4" cy="241.9" r="4.1" fill="#4c93d6"/><circle cx="1480.9" cy="251.1" r="4.1" fill="#f5912e"/><circle cx="1601.3" cy="252.2" r="4.1" fill="#e57fd2"/><circle cx="1582.9" cy="259.6" r="4.1" fill="#e57fd2"/><circle cx="1408.7" cy="283.2" r="4.1" fill="#f5912e"/><circle cx="1600.2" cy="287.1" r="4.1" fill="#e57fd2"/><circle cx="1672.4" cy="285.9" r="4.1" fill="#4c93d6"/><circle cx="1699.5" cy="288.2" r="4.1" fill="#3fb449"/><circle cx="1710.5" cy="292.3" r="4.1" fill="#3fb449"/><circle cx="1556.2" cy="287.1" r="4.1" fill="#f29a9a"/><circle cx="1419.1" cy="288.2" r="4.1" fill="#f5912e"/><circle cx="1398.7" cy="294.6" r="4.1" fill="#f5912e"/><circle cx="1473.2" cy="304.7" r="4.1" fill="#8bdb76"/><circle cx="1492.4" cy="305.4" r="4.1" fill="#4c93d6"/><circle cx="1676.6" cy="315.3" r="4.1" fill="#3fb449"/><circle cx="1703.6" cy="308.4" r="4.1" fill="#3fb449"/><circle cx="1406" cy="350.6" r="4.1" fill="#8bdb76"/><circle cx="1579" cy="32.1" r="4.6" fill="#e2393c"/><circle cx="1571.5" cy="64.2" r="4.6" fill="#e2393c"/><circle cx="1542.3" cy="65.4" r="4.6" fill="#e2393c"/><circle cx="1545.6" cy="74.5" r="4.6" fill="#e2393c"/><circle cx="1648.3" cy="57.3" r="4.6" fill="#cdc931"/><circle cx="1614.3" cy="92.9" r="4.6" fill="#b97f71"/><circle cx="1661.6" cy="121.5" r="4.6" fill="#b480de"/><circle cx="1665.5" cy="125.7" r="4.6" fill="#b480de"/><circle cx="1705.2" cy="126.1" r="4.6" fill="#b480de"/><circle cx="1511.9" cy="159.4" r="4.6" fill="#b97f71"/><circle cx="1568" cy="158.9" r="4.6" fill="#b97f71"/><circle cx="1560" cy="202.9" r="4.6" fill="#cdc931"/><circle cx="1609.3" cy="201.8" r="4.6" fill="#b480de"/><circle cx="1492.4" cy="225.9" r="4.6" fill="#f5912e"/><circle cx="1624.9" cy="259.6" r="4.6" fill="#3fb449"/><circle cx="1710.2" cy="260.3" r="4.6" fill="#3fb449"/><circle cx="1684.6" cy="279" r="4.6" fill="#3fb449"/><circle cx="1524.1" cy="325.4" r="4.6" fill="#4c93d6"/><circle cx="1591" cy="57.3" r="5" fill="#e2393c"/><circle cx="1642.6" cy="75.7" r="5" fill="#cdc931"/><circle cx="1577.7" cy="119.2" r="5" fill="#b97f71"/><circle cx="1684.3" cy="95.2" r="5" fill="#b480de"/><circle cx="1702.9" cy="151.8" r="5" fill="#b480de"/><circle cx="1592.8" cy="137.6" r="5" fill="#cdc931"/><circle cx="1604.7" cy="150.2" r="5" fill="#b480de"/><circle cx="1514.1" cy="164.6" r="5" fill="#e2393c"/><circle cx="1564.6" cy="169.2" r="5" fill="#cdc931"/><circle cx="1522.6" cy="186.9" r="5" fill="#cdc931"/><circle cx="1622.6" cy="190.3" r="5" fill="#e57fd2"/><circle cx="1517.6" cy="201.8" r="5" fill="#4c93d6"/><circle cx="1659.8" cy="211" r="5" fill="#3fb449"/><circle cx="1563.4" cy="227.5" r="5" fill="#4c93d6"/><circle cx="1467.1" cy="246.5" r="5" fill="#35c4dc"/><circle cx="1445.8" cy="254.1" r="5" fill="#4c93d6"/><circle cx="1595.5" cy="267.1" r="5" fill="#3fb449"/><circle cx="1573.8" cy="272.9" r="5" fill="#f29a9a"/><circle cx="1664" cy="281.3" r="5" fill="#4c93d6"/><circle cx="1664" cy="294" r="5" fill="#3fb449"/><circle cx="1408.3" cy="285.9" r="5" fill="#f5912e"/><circle cx="1461" cy="306.6" r="5" fill="#f5912e"/><circle cx="1516.7" cy="305.9" r="5" fill="#4c93d6"/><circle cx="1727" cy="314.6" r="5" fill="#3fb449"/><circle cx="1576.7" cy="18.8" r="5.5" fill="#e2393c"/><circle cx="1646.7" cy="32.1" r="5.5" fill="#e2393c"/><circle cx="1537.1" cy="71.1" r="5.5" fill="#e2393c"/><circle cx="1601.3" cy="92.9" r="5.5" fill="#e2393c"/><circle cx="1536.6" cy="132.5" r="5.5" fill="#cdc931"/><circle cx="1558.9" cy="139.9" r="5.5" fill="#cdc931"/><circle cx="1535.5" cy="197.7" r="5.5" fill="#4c93d6"/><circle cx="1609.3" cy="231.6" r="5.5" fill="#e57fd2"/><circle cx="1542.8" cy="258.7" r="5.5" fill="#f5912e"/><circle cx="1561.2" cy="267.1" r="5.5" fill="#f5912e"/><circle cx="1125.9" cy="534.6" r="5.7" fill="#8bdb76"/><circle cx="1406.3" cy="484.4" r="5.7" fill="#4c93d6"/><circle cx="1731.5" cy="68.8" r="5.7" fill="#b480de"/><circle cx="1529" cy="164" r="5.7" fill="#35c4dc"/><circle cx="1582.9" cy="169.2" r="5.7" fill="#b97f71"/><circle cx="1582.9" cy="191.5" r="5.7" fill="#e57fd2"/><circle cx="1662.5" cy="197.2" r="5.7" fill="#4c93d6"/><circle cx="1611.6" cy="211" r="5.7" fill="#e57fd2"/><circle cx="1556.6" cy="227" r="5.7" fill="#4c93d6"/><circle cx="1616.2" cy="255" r="5.7" fill="#3fb449"/><circle cx="1650.6" cy="260.3" r="5.7" fill="#3fb449"/><circle cx="1687.3" cy="256.8" r="5.7" fill="#3fb449"/><circle cx="1693" cy="261.4" r="5.7" fill="#3fb449"/><circle cx="1589.8" cy="278.6" r="5.7" fill="#f29a9a"/><circle cx="1582.6" cy="301.5" r="5.7" fill="#f29a9a"/><circle cx="1424.3" cy="297.4" r="5.7" fill="#f5912e"/><circle cx="1503.4" cy="291.7" r="5.7" fill="#4c93d6"/><circle cx="1587.5" cy="92.9" r="6" fill="#e2393c"/><circle cx="1607" cy="89" r="6" fill="#cdc931"/><circle cx="1577.2" cy="231.1" r="6" fill="#4c93d6"/><circle cx="1551.5" cy="47.7" r="6.2" fill="#e2393c"/><circle cx="1615" cy="112.4" r="6.4" fill="#e2393c"/><circle cx="1610.5" cy="144" r="6.4" fill="#cdc931"/><circle cx="1584.1" cy="160.5" r="6.4" fill="#b480de"/><circle cx="1505.7" cy="185.7" r="6.4" fill="#35c4dc"/><circle cx="1519.2" cy="209.8" r="6.4" fill="#4c93d6"/><circle cx="1526.8" cy="220.1" r="6.4" fill="#b97f71"/><circle cx="1499.2" cy="245.4" r="6.4" fill="#35c4dc"/><circle cx="1638" cy="277.5" r="6.4" fill="#3fb449"/><circle cx="1561.9" cy="293.3" r="6.4" fill="#e57fd2"/><circle cx="1483.3" cy="357.7" r="6.4" fill="#4c93d6"/><circle cx="1556.6" cy="118.1" r="6.9" fill="#b97f71"/><circle cx="1644.8" cy="144.9" r="6.9" fill="#cdc931"/><circle cx="1522.2" cy="151.8" r="6.9" fill="#35c4dc"/><circle cx="1611.1" cy="161" r="6.9" fill="#4c93d6"/><circle cx="1610.9" cy="216.7" r="6.9" fill="#cdc931"/><circle cx="1688.4" cy="212.1" r="6.9" fill="#e57fd2"/><circle cx="1531.3" cy="227" r="6.9" fill="#35bfae"/><circle cx="1633.4" cy="224.7" r="6.9" fill="#cdc931"/><circle cx="1665.5" cy="231.6" r="6.9" fill="#3fb449"/><circle cx="1664.3" cy="261.4" r="6.9" fill="#3fb449"/><circle cx="1654.8" cy="293.3" r="6.9" fill="#3fb449"/><circle cx="1666.3" cy="269.9" r="6.9" fill="#3fb449"/><circle cx="1702.9" cy="106.6" r="7.3" fill="#b480de"/><circle cx="1723.3" cy="142.6" r="7.3" fill="#b480de"/><circle cx="1503.8" cy="221.3" r="7.3" fill="#35c4dc"/><circle cx="1591" cy="237.3" r="7.3" fill="#cdc931"/><circle cx="1660.2" cy="223.6" r="7.3" fill="#3fb449"/><circle cx="1396.4" cy="324.9" r="7.3" fill="#f5912e"/><circle cx="1592.8" cy="147.9" r="7.8" fill="#4c93d6"/><circle cx="1456.8" cy="271" r="7.8" fill="#f5912e"/><circle cx="1517.6" cy="271.7" r="7.8" fill="#8bdb76"/><circle cx="1561.2" cy="104.3" r="8" fill="#e2393c"/><circle cx="1580.6" cy="181.2" r="8" fill="#4c93d6"/><circle cx="1620.1" cy="200.6" r="8" fill="#4c93d6"/><circle cx="1643.7" cy="227" r="8" fill="#f29a9a"/><circle cx="1581.4" cy="291.7" r="8" fill="#f29a9a"/><circle cx="1568" cy="143.3" r="8.3" fill="#e2393c"/><circle cx="1570.3" cy="56.9" r="8.7" fill="#e2393c"/><circle cx="1531.3" cy="105.5" r="8.7" fill="#e2393c"/><circle cx="1565.3" cy="192.2" r="9.2" fill="#f29a9a"/><circle cx="1678.1" cy="274" r="9.2" fill="#b4cdec"/><circle cx="1648.3" cy="248.8" r="10.3" fill="#3fb449"/><circle cx="1505" cy="261.4" r="10.3" fill="#f5912e"/><circle cx="1632.2" cy="241.9" r="11.5" fill="#3fb449"/></g><g font-family="'Liberation Sans',sans-serif" text-anchor="middle" fill="#000" fill-opacity="0.93" stroke="#000" stroke-opacity="0.6" lengthAdjust="spacing"><text x="1587.5" y="12.3" font-size="8.8" textLength="65.6" stroke-width="0.11">univ montpellier</text><text x="1581.8" y="34.4" font-size="9.13" textLength="18.3" stroke-width="0.11">cnrs</text><text x="1647.6" y="34.5" font-size="9.39" textLength="89.4" stroke-width="0.11">catholic univ louvain</text><text x="1569.9" y="59.1" font-size="9.77" textLength="76.8" stroke-width="0.12">univ paris saclay</text><text x="1649.2" y="59.6" font-size="8.44" textLength="45.4" stroke-width="0.10">univ vienna</text><text x="1733.1" y="71.6" font-size="9.36" textLength="97.5" stroke-width="0.11">norwegian univ life sci</text><text x="1546" y="77" font-size="8.15" textLength="18.8" stroke-width="0.10">icrea</text><text x="1642.6" y="78.5" font-size="9.5" textLength="57.3" stroke-width="0.11">univ antwerp</text><text x="1546" y="93.2" font-size="8.61" textLength="46.3" stroke-width="0.10">univ ottawa</text><text x="1531.8" y="108.3" font-size="10.84" textLength="129.6" stroke-width="0.13">univ autonoma barcelona</text><text x="1700.6" y="109.6" font-size="10.01" textLength="58" stroke-width="0.12">univ helsinki</text><text x="1536.6" y="127.1" font-size="8.6" textLength="77.3" stroke-width="0.10">european commiss</text><text x="1665" y="127.9" font-size="9.03" textLength="50.2" stroke-width="0.11">univ sussex</text><text x="1771.4" y="127.1" font-size="8.47" textLength="87.1" stroke-width="0.10">univ western australia</text><text x="1568" y="145.9" font-size="10.86" textLength="106.6" stroke-width="0.13">vrije univ amsterdam</text><text x="1722.1" y="145.1" font-size="9.81" textLength="47" stroke-width="0.12">univ leeds</text><text x="1609.8" y="163.9" font-size="9.78" textLength="64.2" stroke-width="0.12">univ lancaster</text><text x="1529" y="167.5" font-size="9.69" textLength="64.2" stroke-width="0.12">humboldt univ</text><text x="1430.4" y="170.6" font-size="8.42" textLength="46.8" stroke-width="0.10">tel aviv univ</text><text x="1664.3" y="180.6" font-size="8.91" textLength="49.5" stroke-width="0.11">univ toronto</text><text x="1564.6" y="194.2" font-size="10.65" textLength="76.8" stroke-width="0.13">univ cambridge</text><text x="1494.4" y="199.8" font-size="8.79" textLength="54.6" stroke-width="0.11">univ liverpool</text><text x="1663.2" y="200" font-size="9.39" textLength="76.6" stroke-width="0.11">rutgers state univ</text><text x="1686.1" y="215.5" font-size="9.93" textLength="49.3" stroke-width="0.12">mcgill univ</text><text x="1611.1" y="219.3" font-size="10.83" textLength="15.4" stroke-width="0.13">mit</text><text x="1501.5" y="223.6" font-size="9.93" textLength="62.8" stroke-width="0.12">erasmus univ</text><text x="1694.1" y="237.6" font-size="7.87" textLength="47" stroke-width="0.09">uppsala univ</text><text x="1631.5" y="245" font-size="11.71" textLength="71.3" stroke-width="0.14">stanford univ</text><text x="1497.2" y="246.7" font-size="9.99" textLength="92.2" stroke-width="0.12">georgia inst technol</text><text x="1504.5" y="264.7" font-size="10.93" textLength="86" stroke-width="0.13">chinese acad sci</text><text x="1693" y="263.8" font-size="9.6" textLength="58.5" stroke-width="0.12">univ vermont</text><text x="1595.5" y="270.2" font-size="9.31" textLength="42.4" stroke-width="0.11">aalto univ</text><text x="1678.1" y="277.9" font-size="10.73" textLength="71.1" stroke-width="0.13">univ maryland</text><text x="1408.7" y="289.2" font-size="9.39" textLength="56.6" stroke-width="0.11">beihang univ</text><text x="1503.7" y="294.2" font-size="8.51" textLength="36.2" stroke-width="0.10">univ kent</text><text x="1581.2" y="294.9" font-size="10.73" textLength="95.8" stroke-width="0.13">natl univ singapore</text><text x="1664.4" y="295.7" font-size="9.69" textLength="53.9" stroke-width="0.12">purdue univ</text><text x="1408.3" y="304.1" font-size="8.55" textLength="115.8" stroke-width="0.10">hong kong univ sci &amp; technol</text><text x="1522.9" y="317.1" font-size="8.53" textLength="96.3" stroke-width="0.10">indian inst management</text><text x="1727.5" y="316.5" font-size="8.6" textLength="76.8" stroke-width="0.10">colorado state univ</text><text x="1394.3" y="328.3" font-size="9.87" textLength="89.9" stroke-width="0.12">city univ hong kong</text><text x="1528.4" y="331.9" font-size="8.04" textLength="39.4" stroke-width="0.10">korea univ</text><text x="1585.1" y="334.2" font-size="8.02" textLength="55.5" stroke-width="0.10">mcmaster univ</text><text x="1405.3" y="352.2" font-size="8.31" textLength="61.5" stroke-width="0.10">univ east anglia</text><text x="1483.5" y="359.8" font-size="9.27" textLength="52.1" stroke-width="0.11">univ sydney</text><text x="1613.5" y="375.7" font-size="8.67" textLength="43.6" stroke-width="0.10">univ lisbon</text><text x="1136.7" y="537.3" font-size="9.28" textLength="71.9" stroke-width="0.11">cheng kung univ</text><text x="1406.3" y="486.8" font-size="9.35" textLength="68.6" stroke-width="0.11">univ tecn lisboa</text><text x="1936" y="476" font-size="8.1" textLength="70.9" stroke-width="0.10">louisiana tech univ</text></g></g><g id="pc"><g fill="none" stroke-opacity="0.42"><path d="M387 995Q391 1006 382 1013" stroke="#3ccfe0" stroke-width="1.6"/><path d="M397 795Q236 960 331 1171M256 966Q258 945 278 935M179 973Q117 880 142 771M279 990Q186 940 155 840M182 996Q188 1045 159 1085M366 1006Q321 979 324 926M217 1010Q173 1013 160 1055M409 1030Q335 1022 308 952M219 1031Q219 1074 255 1098M332 1041Q382 1036 417 1001M316 1051Q255 1048 224 1100M316 1051Q303 1052 298 1063M240 1077Q383 1095 460 971M226 1081Q203 1000 229 920M159 1085Q132 1068 124 1038M172 1086Q162 1019 195 961M274 1088Q250 1011 278 935M240 1102Q207 997 292 926M241 1117Q228 1070 262 1036M173 1121Q269 1118 340 1054M249 1128Q308 1112 316 1051M326 1146Q386 1009 535 1018M304 1192Q298 1114 226 1081" stroke="#4fc04a" stroke-width="0.9"/><path d="M123 796Q92 950 172 1086M318 863Q201 932 169 1064M583 908Q462 1095 240 1102M278 935Q277 987 323 1011M256 966Q181 1002 172 1086M327 970Q293 950 256 966M279 990Q263 1085 173 1121M279 990Q251 1017 260 1055M279 990Q199 1020 127 974M409 1030Q337 1097 240 1077M409 1030Q268 1092 124 1038M409 1030Q472 1108 572 1098M409 1030Q220 1081 70 954M232 1034Q213 1051 187 1049M273 1065Q347 1057 387 995M181 1073Q177 1065 169 1064M299 1081Q271 1039 279 990M240 1102Q237 1154 283 1178M241 1117Q396 1113 460 971" stroke="#4fc04a" stroke-width="1.2"/><path d="M230 803Q173 905 206 1018M279 990Q245 859 142 771M279 990Q239 1047 241 1117M366 1006Q420 1009 460 971M333 1018Q375 1000 409 1030M316 1051Q270 1020 256 966M240 1102Q196 1034 241 966M241 1117Q245 1084 273 1065M221 1128Q406 1131 515 981M460 971Q386 1116 224 1100M515 981Q431 893 318 940" stroke="#4fc04a" stroke-width="1.6"/><path d="M260 719Q201 847 271 969M291 789Q250 876 155 869M260 797Q291 928 222 1044M188 845Q237 855 281 834M228 857Q248 830 281 834M155 869Q177 851 204 858M199 878Q195 1014 319 1069M161 899Q138 942 152 988M161 899Q210 972 297 980M132 904Q169 836 246 829M260 979Q303 911 281 834M409 1030Q300 997 229 907M232 1034Q312 923 260 797M149 1068Q211 994 179 903M460 971Q330 991 229 907" stroke="#5a9be0" stroke-width="0.9"/><path d="M202 811Q305 933 460 971M264 844Q262 884 229 907M323 898Q275 888 229 907M121 910Q168 966 241 966M173 947Q180 941 189 943M271 969Q257 961 241 966M371 986Q310 950 241 966M206 1018Q247 959 237 888M91 1051Q126 905 264 844" stroke="#5a9be0" stroke-width="1.2"/><path d="M135 791Q133 965 240 1102M229 907Q218 940 241 966" stroke="#5a9be0" stroke-width="1.6"/><path d="M397 795Q310 807 281 889M397 795Q309 829 309 923M427 879Q340 985 206 1018M281 889Q264 870 264 844M418 919Q397 886 359 877M236 946Q233 1012 273 1065" stroke="#bb88ea" stroke-width="0.9"/><path d="M365 843Q257 950 240 1102M318 863Q274 843 228 857M515 981Q435 937 416 848M606 984Q501 970 429 892" stroke="#bb88ea" stroke-width="1.2"/><path d="M348 775Q470 847 515 981M397 795Q356 893 387 995M429 892Q463 925 460 971" stroke="#bb88ea" stroke-width="1.6"/><path d="M418 897Q428 954 387 995M300 916Q278 1017 187 1065M300 916Q201 974 172 1086M265 926Q224 904 228 857M341 958Q293 1006 319 1069M279 990Q269 1055 315 1103M387 995Q333 1009 300 964M323 1011Q324 982 341 958M307 1040Q266 1064 222 1044M366 1049Q293 1082 222 1044M298 1063Q233 1031 169 1064M298 1063Q318 1051 340 1054M515 981Q426 1036 323 1011M658 1024Q563 939 435 930" stroke="#d2cf30" stroke-width="0.9"/><path d="M590 975Q527 902 435 930M515 981Q432 939 341 958M466 1014Q385 1028 327 970" stroke="#d2cf30" stroke-width="1.2"/><path d="M300 916Q210 989 240 1102M241 966Q310 988 340 1054M409 1030Q352 1065 298 1026M409 1030Q441 1020 458 991M409 1030Q410 923 328 856" stroke="#d2cf30" stroke-width="1.6"/><path d="M354 920Q519 843 671 943M662 857Q725 893 754 959M524 872Q635 928 659 1050M570 911Q643 944 699 888M526 918Q552 969 606 984M511 926Q501 946 480 950M387 995Q572 1030 671 870M378 1049Q415 958 512 946M512 930Q486 836 397 795M530 934Q438 943 409 1030M632 936Q600 880 535 885M659 964Q698 998 688 1049M766 972Q603 1099 409 1030M590 975Q606 969 621 978M579 999Q638 914 586 826M705 999Q566 980 499 856M658 1024Q591 1018 555 1074M726 1031Q746 1031 754 1049M563 1030Q503 998 512 930M718 1054Q725 1029 751 1024M556 1062Q599 1035 606 984M777 1070Q752 1137 680 1137M668 1088Q727 1104 777 1070" stroke="#f25a45" stroke-width="0.9"/><path d="M524 872Q535 953 474 1009M560 893Q474 1111 241 1117M583 908Q579 951 606 984M627 910Q594 981 515 981M387 995Q433 1034 491 1018M409 1030Q512 1043 590 975M240 1102Q398 1087 515 981M749 936Q615 1037 460 971M512 946Q539 977 535 1018M590 959Q557 984 515 981M659 964Q605 967 578 1014M608 965Q544 938 524 872M460 971Q485 990 515 981M460 971Q474 965 480 950M460 971Q584 960 671 870M460 971Q626 910 768 1018M590 975Q564 930 511 926M515 981Q523 955 512 930M515 981Q568 973 605 1011M515 981Q622 966 671 870M547 998Q486 1046 409 1030M579 999Q563 1008 547 998M705 999Q726 1044 703 1088M705 999Q663 941 671 870M466 1014Q349 955 219 971M445 1019Q493 992 547 998M658 1024Q669 994 659 964M718 1054Q543 1079 387 995M471 1082Q487 1024 460 971" stroke="#f25a45" stroke-width="1.2"/><path d="M524 872Q499 925 515 981M279 990Q490 1091 705 999M409 1030Q475 1057 535 1018M409 1030Q435 1011 466 1014M681 972Q683 1020 718 1054M460 971Q454 994 466 1014M460 971Q367 952 279 990M547 998Q548 946 583 908M474 1009Q419 1040 366 1006M578 1014Q498 1064 409 1030M535 1018Q584 1010 608 965" stroke="#f25a45" stroke-width="1.6"/><path d="M515 981Q489 1060 410 1084M774 920Q772 944 754 959M774 920Q782 989 726 1031" stroke="#3ccfe0" stroke-width="0.9"/><path d="M382 1013Q303 1032 256 966" stroke="#3ccfe0" stroke-width="1.2"/><path d="M460 971Q412 976 382 1013M458 1058Q477 1015 460 971" stroke="#3ccfe0" stroke-width="1.6"/><path d="M123 796Q128 931 219 1031M292 926Q238 981 260 1055M318 940Q171 953 122 1093M241 966Q250 1099 375 1143M76 984Q99 995 100 1020M409 1030Q383 1026 366 1006M332 1041Q286 1034 262 993M334 1069Q344 1114 306 1140M181 1073Q216 1043 227 999M208 1082Q176 1111 136 1093M122 1093Q206 1099 262 1036M285 1099Q290 1068 316 1051M211 1099Q191 1092 181 1073M224 1100Q238 1142 276 1165M240 1102Q259 1107 271 1121M93 1108Q165 1082 206 1018M241 1117Q213 1163 162 1180M276 1138Q216 1128 172 1086M306 1140Q323 1108 299 1081M159 1141Q232 1104 306 1140M149 1153Q175 1162 201 1153M261 1158Q258 1076 332 1041" stroke="#4fc04a" stroke-width="0.9"/><path d="M418 897Q379 989 279 990M241 966Q236 1011 196 1033M241 966Q254 1010 222 1044M279 990Q255 985 241 966M206 1018Q209 1066 252 1089M409 1030Q345 1097 252 1089M409 1030Q412 1074 374 1098M222 1044Q215 1085 241 1117M240 1102Q232 1106 224 1100M240 1102Q226 1065 187 1065M460 971Q344 1083 187 1049M492 1065Q475 1015 515 981" stroke="#4fc04a" stroke-width="1.2"/><path d="M387 995Q401 1005 417 1001M366 1006Q291 1024 241 966M222 1044Q238 1004 279 990M460 971Q361 964 316 1051M460 971Q346 1106 172 1086" stroke="#4fc04a" stroke-width="1.6"/><path d="M221 733Q552 766 718 1054M165 764Q156 774 142 771M142 771Q50 899 124 1038M135 791Q230 959 417 1001M123 796Q81 865 101 943M201 797Q236 792 263 815M230 803Q163 786 105 826M312 824Q242 882 271 969M337 833Q224 852 142 771M244 850Q314 774 414 804M295 856Q282 844 264 844M90 876Q135 971 241 966M242 875Q232 868 228 857M251 893Q282 875 317 881M323 898Q230 979 240 1102M161 899Q171 896 179 903M204 914Q209 965 245 1000M161 923Q141 898 155 869M101 943Q177 1015 279 990M318 940Q240 854 128 886M189 943Q135 914 133 853M271 969Q231 983 206 1018M153 978Q171 921 229 907M152 988Q142 905 216 864M152 988Q165 924 229 907M262 993Q213 927 220 844M387 995Q302 931 312 824M197 999Q320 960 337 833M244 1017Q264 944 323 898M124 1038Q150 923 244 850" stroke="#5a9be0" stroke-width="0.9"/><path d="M230 803Q144 920 169 1064M230 803Q223 847 255 880M301 873Q252 909 199 878M179 903Q170 835 230 803M354 920Q299 912 254 946M354 920Q332 923 318 940M318 940Q252 945 218 887M254 946Q373 1048 515 981" stroke="#5a9be0" stroke-width="1.2"/><path d="M264 844Q242 920 279 990M264 844Q448 868 579 999M188 845Q179 921 241 966M279 990Q305 943 354 920M241 1117Q273 992 179 903M547 998Q442 853 264 844" stroke="#5a9be0" stroke-width="1.6"/><path d="M357 713Q308 769 304 843M365 735Q554 771 590 959M369 754Q265 849 279 990M291 789Q382 812 429 892M228 857Q261 863 281 889M228 857Q277 774 365 735M281 889Q327 855 332 799M372 906Q329 905 301 873M309 923Q276 999 319 1069M488 825Q443 836 427 879" stroke="#bb88ea" stroke-width="0.9"/><path d="M397 795Q390 825 365 843M359 877Q426 940 409 1030M372 906Q317 849 348 775M256 966Q287 898 359 877" stroke="#bb88ea" stroke-width="1.2"/><path d="M409 1030Q446 965 429 892M535 1018Q508 874 365 843" stroke="#bb88ea" stroke-width="1.6"/><path d="M199 878Q255 945 341 958M189 943Q232 1044 340 1054M262 953Q367 936 458 991M363 949Q412 1055 338 1146M393 950Q322 958 298 1026M406 937Q345 952 323 1011M327 970Q362 1055 302 1125M279 990Q319 991 341 958M283 1058Q384 1073 476 1030M227 1061Q230 1097 261 1117M298 1063Q259 952 328 856M255 1098Q289 1069 298 1026M338 1109Q306 1022 363 949M261 1117Q253 1044 203 989M261 1117Q278 1094 273 1065M458 991Q334 861 155 869M458 991Q441 964 447 932M463 1041Q385 987 298 1026M442 1143Q599 1126 711 1016" stroke="#d2cf30" stroke-width="0.9"/><path d="M341 958Q388 1015 458 991M341 958Q331 991 345 1023M241 966Q281 1050 364 1090M387 995Q455 1024 515 981M387 995Q356 994 345 1023M387 995Q555 986 662 857M340 1054Q369 1039 366 1006M319 1069Q280 1039 279 990M334 1069Q333 1060 340 1054M335 1082Q328 1051 345 1023M435 930Q467 969 515 981M458 991Q426 1043 366 1049M515 981Q489 998 458 991M535 1018Q431 1117 298 1063" stroke="#d2cf30" stroke-width="1.2"/><path d="M387 995Q431 1006 460 971M387 995Q357 986 341 958M387 995Q406 1007 409 1030M387 995Q423 965 418 919M206 1018Q300 1034 387 995M409 1030Q439 1021 463 1041M458 991Q505 964 547 998M460 971Q368 1057 243 1042M463 1041Q502 1041 535 1018M718 1054Q555 848 300 916" stroke="#d2cf30" stroke-width="1.6"/><path d="M628 853Q744 960 713 1115M503 870Q536 904 583 908M557 873Q565 883 560 893M671 870Q615 860 583 908M604 878Q536 832 460 865M137 1051Q321 1103 460 971M169 1064Q494 1070 750 868M421 1126Q597 1037 606 841M435 930Q570 829 728 889M480 950Q408 911 341 958M480 950Q510 957 530 934M673 958Q588 1006 512 946M754 959Q673 879 560 893M460 971Q333 871 189 943M590 975Q554 990 515 981M606 984Q614 958 640 950M734 993Q672 1038 596 1027M547 998Q510 1002 496 1037M705 999Q578 827 365 823M618 1001Q598 995 590 975M757 1010Q733 919 662 857M658 1024Q726 970 699 888M726 1031Q740 1033 751 1024M548 1033Q519 1072 471 1082M678 1038Q587 1006 570 911M718 1054Q714 956 627 910M597 1073Q548 1051 547 998M471 1082Q489 1046 474 1009M703 1088Q719 1075 718 1054M792 1096Q727 1067 705 999M774 920Q752 950 717 959" stroke="#f25a45" stroke-width="0.9"/><path d="M318 863Q492 848 579 999M658 887Q640 937 590 959M583 908Q575 894 560 893M241 966Q399 861 583 908M273 1065Q422 1067 483 931M590 959Q495 1012 387 995M590 959Q606 966 606 984M460 971Q542 977 600 917M460 971Q608 1020 714 905M515 981Q595 869 729 900M515 981Q526 998 547 998M515 981Q583 987 640 950M515 981Q508 922 560 893M515 981Q637 972 694 1081M552 989Q532 992 515 981M705 999Q607 1025 515 981M705 999Q592 1056 474 1009M474 1009Q472 995 458 991M466 1014Q500 1027 535 1018M491 1018Q541 1034 579 999M578 1014Q417 988 273 1065M658 1024Q678 1059 718 1054M718 1054Q762 1025 766 972M718 1054Q691 975 608 965M718 1054Q683 985 606 984M680 1137Q610 1012 466 1014" stroke="#f25a45" stroke-width="1.2"/><path d="M600 917Q537 921 515 981M334 1069Q414 1042 460 971M460 971Q529 966 578 1014M515 981Q553 968 579 999M579 999Q631 970 627 910M705 999Q689 1025 658 1024M705 999Q588 1050 466 1014M535 1018Q550 1008 552 989M535 1018Q457 1030 387 995M718 1054Q644 992 547 998" stroke="#f25a45" stroke-width="1.6"/><path d="M430 845Q448 868 442 896M410 1084Q438 1106 472 1096" stroke="#3ccfe0" stroke-width="0.9"/><path d="M382 1013Q542 952 705 999" stroke="#3ccfe0" stroke-width="1.2"/><path d="M229 907Q261 1020 207 1123M418 919Q353 964 332 1041M209 948Q219 1025 172 1086M279 990Q201 937 220 844M175 1012Q170 1065 211 1099M333 1018Q392 983 418 919M277 1037Q254 1050 232 1034M187 1049Q181 1060 169 1064M316 1051Q260 1159 141 1183M169 1064Q200 1041 237 1055M273 1065Q382 1129 492 1065M181 1073Q214 1079 237 1055M71 1083Q136 1206 275 1196M285 1099Q310 1093 319 1069M224 1100Q186 1114 159 1085M705 999Q526 884 337 982M201 1153Q240 1087 206 1018M246 1210Q237 1068 366 1006M358 1212Q310 1218 283 1178" stroke="#4fc04a" stroke-width="0.9"/><path d="M199 878Q165 950 206 1018M278 935Q293 965 327 970M318 940Q275 951 262 993M241 966Q193 1015 208 1082M279 990Q212 1047 124 1038M279 990Q383 1090 527 1085M387 995Q296 1086 169 1064M227 999Q376 1082 535 1018M417 1001Q349 1088 240 1102M409 1030Q296 1094 169 1064M409 1030Q425 1057 410 1084M222 1044Q267 1072 319 1069M187 1065Q174 1072 172 1086M172 1086Q292 1102 366 1006M255 1098Q258 1078 273 1065M221 1128Q225 1111 240 1102M474 1009Q332 1093 169 1064M466 1014Q444 999 417 1001" stroke="#4fc04a" stroke-width="1.2"/><path d="M228 857Q163 983 240 1102M278 935Q296 962 279 990M279 990Q320 1012 366 1006M279 990Q520 880 718 1054M182 996Q232 1008 279 990M232 1034Q249 963 318 940M240 1102Q251 1079 273 1065M255 1098Q351 1105 409 1030M460 971Q340 1066 187 1065M515 981Q369 1076 206 1018M658 1024Q492 1104 316 1051" stroke="#4fc04a" stroke-width="1.6"/><path d="M182 743Q281 794 323 898M233 779Q224 790 230 803M230 803Q228 829 244 850M271 797Q253 874 179 903M301 818Q308 879 354 920M204 858Q268 832 317 881M218 887Q180 900 155 869M218 887Q187 880 161 899M179 903Q215 879 250 903M250 903Q281 898 301 873M229 907Q232 854 281 834M473 819Q374 798 317 881M189 943Q191 998 244 1017M155 949Q177 891 228 857M241 966Q216 914 161 899M241 966Q257 975 262 993M224 1100Q156 1065 152 988" stroke="#5a9be0" stroke-width="0.9"/><path d="M142 771Q199 810 199 878M230 803Q294 802 328 856M264 844Q286 899 262 953M199 878Q206 888 218 887M111 922Q206 941 232 1034M241 966Q275 1002 323 1011M241 966Q213 897 264 844M240 1102Q171 1065 152 988M240 1102Q145 977 191 827M241 1117Q118 1050 121 910M460 971Q359 1030 244 1017M460 971Q369 976 323 898" stroke="#5a9be0" stroke-width="1.2"/><path d="M264 844Q263 873 237 888M317 881Q451 862 515 981M195 891Q194 884 199 878M161 899Q197 888 229 907M124 1038Q119 894 230 803M460 971Q377 922 285 950" stroke="#5a9be0" stroke-width="1.6"/><path d="M304 755Q264 892 371 986M348 775Q411 818 429 892M429 892Q347 946 264 895M323 1011Q318 945 372 906M472 1096Q324 1042 281 889" stroke="#bb88ea" stroke-width="0.9"/><path d="M392 901Q366 947 387 995M387 995Q377 931 429 892M240 1102Q225 989 281 889" stroke="#bb88ea" stroke-width="1.2"/><path d="M365 843Q407 855 429 892M429 892Q363 813 264 844M387 995Q377 994 371 986" stroke="#bb88ea" stroke-width="1.6"/><path d="M365 823Q345 835 344 858M327 970Q321 987 334 999M193 975Q169 1022 181 1073M260 979Q265 938 300 916M227 1061Q218 1107 246 1144M349 1101Q359 1085 377 1080M410 1133Q323 1157 241 1117M435 930Q541 984 659 964" stroke="#d2cf30" stroke-width="0.9"/><path d="M365 843Q426 912 387 995M583 908Q539 978 458 991M318 940Q293 960 262 953M219 971Q248 927 300 916M360 981Q369 997 387 995M345 1023Q421 967 515 981M409 1030Q378 1089 422 1140M590 975Q527 1005 458 991" stroke="#d2cf30" stroke-width="1.2"/><path d="M328 856Q415 889 460 971M353 964Q437 945 515 981M458 991Q476 932 429 892" stroke="#d2cf30" stroke-width="1.6"/><path d="M703 874Q721 893 717 919M535 885Q474 883 435 930M728 889Q780 929 763 992M560 893Q596 967 548 1033M560 893Q480 969 371 986M570 911Q687 921 726 1031M701 909Q724 953 705 999M571 929Q649 905 700 968M598 931Q617 955 606 984M640 950Q660 1017 718 1054M590 959Q668 1005 703 1088M804 966Q736 1001 673 958M460 971Q487 901 557 873M590 975Q646 987 694 955M720 976Q708 994 711 1016M515 981Q628 983 668 1088M763 992Q718 952 659 964M547 998Q623 1031 681 972M579 999Q607 970 598 931M579 999Q550 962 504 973M579 999Q599 961 571 929M466 1014Q608 998 671 870M605 1011Q539 1030 474 1009M535 1018Q577 1049 627 1036M535 1018Q671 1023 729 900M535 1018Q520 1035 522 1058M751 1024Q711 964 640 950M659 1050Q657 1005 621 978M718 1054Q700 1007 730 967M718 1054Q689 1009 694 955M555 1074Q556 1042 535 1018M663 1132Q633 1002 512 946M753 1168Q771 1100 718 1054M774 920Q787 926 789 939" stroke="#f25a45" stroke-width="0.9"/><path d="M709 862Q669 993 535 1018M460 865Q543 919 535 1018M627 910Q667 960 658 1024M409 1030Q471 934 583 908M483 931Q524 966 535 1018M512 946Q416 1076 255 1098M512 946Q588 932 659 964M681 972Q680 1002 658 1024M460 971Q516 881 623 874M460 971Q526 936 590 975M460 971Q477 941 512 946M460 971Q510 963 547 998M590 975Q681 971 718 1054M515 981Q529 991 544 982M515 981Q500 1003 474 1009M515 981Q527 953 511 926M515 981Q522 963 512 946M515 981Q607 974 640 889M515 981Q595 954 623 874M515 981Q433 884 307 908M606 984Q441 876 279 990M552 989Q632 942 705 999M547 998Q608 1135 757 1152M547 998Q620 994 678 1038M579 999Q596 998 606 984M705 999Q626 1066 535 1018M605 1011Q588 1013 579 999M596 1027Q605 982 640 950M726 1031Q744 953 699 888M659 1050Q690 1037 718 1054M718 1054Q694 1031 705 999" stroke="#f25a45" stroke-width="1.2"/><path d="M699 888Q598 982 460 971M583 908Q567 961 515 981M279 990Q395 870 560 893M387 995Q482 1057 579 999M187 1065Q372 1106 515 981M273 1065Q445 1129 596 1027M590 959Q582 1007 535 1018M460 971Q512 971 535 1018M460 971Q460 943 435 930M670 1006Q559 1026 460 971M535 1018Q633 991 726 1031" stroke="#f25a45" stroke-width="1.6"/><path d="M418 919Q416 972 382 1013M341 958Q348 996 382 1013M774 920Q743 973 681 972M774 920Q760 978 705 999" stroke="#3ccfe0" stroke-width="0.9"/><path d="M382 1013Q560 957 718 1054" stroke="#3ccfe0" stroke-width="1.6"/><path d="M264 844Q189 907 168 1003M230 978Q265 937 318 940M124 992Q220 972 255 880M387 995Q296 1058 194 1012M309 999Q341 928 418 919M258 1005Q246 1030 260 1055M115 1011Q119 1079 183 1101M206 1018Q199 1017 194 1012M206 1018Q182 1036 187 1065M345 1023Q308 1116 207 1123M232 1034Q285 1096 364 1115M262 1036Q275 993 319 983M325 1060Q269 1010 194 1012M169 1064Q187 1026 230 1022M113 1077Q246 1102 334 999M274 1088Q390 1088 474 1009M252 1089Q364 1033 472 1096M252 1089Q273 1178 358 1212M252 1089Q252 1139 283 1178M255 1098Q210 1080 196 1033M241 1117Q202 1141 188 1184M241 1117Q186 1085 122 1093M640 950Q477 999 324 926M590 959Q484 1078 325 1060M547 998Q419 1023 318 940M535 1018Q436 1071 325 1060M171 1161Q195 1147 207 1123M227 1169Q188 1073 230 978M283 1178Q261 1124 299 1081M141 1183Q171 1141 221 1128" stroke="#4fc04a" stroke-width="0.9"/><path d="M324 926Q347 993 417 1001M318 940Q243 939 199 878M308 952Q221 981 187 1065M241 966Q284 1041 241 1117M256 966Q343 957 417 1001M256 966Q278 876 365 843M279 990Q399 1038 515 981M279 990Q223 980 175 1012M409 1030Q362 1173 214 1200M409 1030Q287 1007 204 914M232 1034Q240 996 279 990M222 1044Q184 1049 172 1086M260 1055Q269 1056 273 1065M169 1064Q175 1074 172 1086M240 1102Q240 1065 262 1036M240 1102Q332 1046 318 940M240 1102Q238 1110 241 1117M240 1102Q221 1076 222 1044M241 1117Q223 1112 207 1123M460 971Q509 1029 472 1096M515 981Q393 952 316 1051" stroke="#4fc04a" stroke-width="1.2"/><path d="M219 971Q243 1001 279 990M279 990Q253 1026 273 1065M387 995Q350 1043 374 1098M387 995Q338 1085 241 1117M409 1030Q476 1036 515 981M222 1044Q378 1058 515 981M172 1086Q242 1046 241 966M460 971Q370 1071 240 1102M460 971Q325 957 222 1044M535 1018Q400 1066 279 990" stroke="#4fc04a" stroke-width="1.6"/><path d="M171 783Q265 954 460 971M123 796Q216 766 307 800M414 804Q349 824 291 789M191 827Q177 860 195 891M246 829Q187 817 155 869M264 844Q222 837 214 796M188 845Q195 872 218 887M204 858Q255 847 301 873M255 880Q211 884 188 845M218 887Q213 876 216 864M218 887Q194 895 189 920M195 891Q286 871 372 906M189 920Q180 885 143 881M121 936Q168 894 229 907M189 943Q217 971 256 966M285 950Q293 971 279 990M256 966Q233 931 251 893M297 980Q294 919 341 878M366 1006Q280 985 250 903" stroke="#5a9be0" stroke-width="0.9"/><path d="M365 843Q341 874 301 873M199 878Q205 902 229 907M317 881Q279 966 316 1051M237 888Q214 847 230 803M241 966Q289 979 318 940M241 966Q375 1036 515 981M515 981Q402 771 165 764" stroke="#5a9be0" stroke-width="1.2"/><path d="M264 844Q274 961 387 995M264 844Q219 780 142 771M228 857Q369 864 460 971M460 971Q349 1027 241 966M460 971Q371 851 230 803M515 981Q432 880 301 873" stroke="#5a9be0" stroke-width="1.6"/><path d="M376 785Q317 863 341 958M397 795Q380 781 360 789M397 795Q399 769 418 753M398 839Q380 860 393 884M365 843Q342 879 354 920M341 878Q343 835 380 813M307 908Q325 873 360 855M371 986Q418 980 445 1019M417 1001Q392 1001 371 986M334 1069Q313 978 372 906" stroke="#bb88ea" stroke-width="0.9"/><path d="M393 884Q411 940 387 995M372 906Q455 921 515 981M463 825Q381 890 387 995M460 971Q476 918 460 865" stroke="#bb88ea" stroke-width="1.2"/><path d="M417 1001Q458 893 397 795M515 981Q421 921 309 923" stroke="#bb88ea" stroke-width="1.6"/><path d="M380 813Q325 876 341 958M229 907Q259 975 323 1011M418 919Q482 965 463 1041M262 953Q250 973 262 993M334 999Q236 962 228 857M364 1090Q305 1076 261 1117M365 1130Q355 1059 387 995M447 932Q390 902 365 843M515 981Q491 943 447 932" stroke="#d2cf30" stroke-width="0.9"/><path d="M300 916Q320 982 387 995M345 1023Q285 1009 262 953M345 1023Q403 981 466 1014M298 1063Q272 1032 232 1034M273 1065Q321 1064 345 1023M334 1069Q256 1106 172 1086M460 971Q473 1082 404 1170" stroke="#d2cf30" stroke-width="1.2"/><path d="M327 970Q352 996 387 995M279 990Q268 1032 298 1063M323 1011Q385 970 460 971" stroke="#d2cf30" stroke-width="1.6"/><path d="M485 840Q602 820 699 888M709 862Q702 917 650 932M576 872Q572 886 560 893M699 888Q756 893 789 939M729 900Q765 939 763 992M654 902Q631 924 600 917M627 910Q589 919 560 893M657 916Q658 908 654 902M334 999Q379 890 485 840M409 1030Q511 1058 605 1011M224 1100Q378 1016 538 1090M480 950Q518 866 606 841M730 967Q717 1028 659 1050M700 968Q687 1016 718 1054M590 975Q684 994 743 1070M621 978Q494 1076 334 1069M515 981Q396 1037 344 1158M578 985Q532 1025 474 1009M579 999Q572 1024 548 1033M778 1008Q724 1056 658 1024M491 1018Q438 947 354 920M732 1018Q685 975 621 978M705 1037Q726 947 658 887M754 1049Q721 990 659 964M555 1074Q567 999 512 946M538 1090Q591 1007 583 908M572 1098Q570 1050 535 1018M639 1147Q577 1101 596 1027" stroke="#f25a45" stroke-width="0.9"/><path d="M560 893Q569 948 547 998M583 908Q541 979 460 971M409 1030Q530 1093 659 1050M374 1098Q376 1007 460 971M224 1100Q436 1103 590 959M483 931Q464 947 460 971M579 943Q506 820 365 843M512 946Q483 971 474 1009M608 965Q451 1075 279 990M460 971Q473 988 474 1009M460 971Q588 940 705 999M460 971Q514 936 524 872M734 993Q673 946 606 984M547 998Q604 904 714 905M705 999Q720 927 658 887M474 1009Q607 975 718 1054M711 1016Q657 1059 596 1027M535 1018Q582 1037 618 1001M535 1018Q586 976 570 911M535 1018Q598 965 681 972M535 1018Q590 1061 659 1050M535 1018Q567 1064 623 1057M659 1050Q575 970 460 971M718 1054Q678 956 583 908M784 1062Q755 1018 705 999" stroke="#f25a45" stroke-width="1.2"/><path d="M365 843Q438 978 590 959M658 887Q560 1004 409 1030M699 888Q751 966 718 1054M240 1102Q459 1160 590 975M590 959Q521 926 460 971M460 971Q525 959 570 911M460 971Q392 986 366 1049M515 981Q536 994 535 1018M515 981Q603 1055 718 1054M515 981Q546 996 578 985M579 999Q610 1038 658 1024M705 999Q642 973 579 999M535 1018Q563 1037 596 1027M535 1018Q598 979 627 910M535 1018Q564 1024 579 999M535 1018Q430 973 323 1011M658 1024Q583 954 480 950M596 1027Q542 966 460 971" stroke="#f25a45" stroke-width="1.6"/><path d="M429 892Q437 890 442 896M774 920Q783 1003 718 1054" stroke="#3ccfe0" stroke-width="0.9"/><path d="M429 892Q383 1007 262 1036M292 926Q248 1003 274 1088M278 935Q276 1030 211 1099M272 946Q284 998 333 1018M341 958Q319 971 322 997M337 982Q384 919 365 843M140 980Q114 1086 201 1153M227 999Q272 929 354 920M366 1006Q283 984 222 1044M175 1012Q173 1040 187 1065M206 1018Q210 1034 222 1044M243 1042Q190 1022 169 970M187 1065Q241 1096 240 1159M187 1065Q242 989 337 982M273 1065Q237 1058 230 1022M154 1096Q308 1039 341 878M224 1100Q186 1152 122 1144M240 1102Q222 1155 261 1195M118 1115Q112 1146 127 1174M241 1117Q192 1101 187 1049M207 1123Q224 1097 255 1098M460 971Q391 999 319 983M474 1009Q353 1094 219 1031M658 1024Q412 1154 143 1080M137 1155Q132 1101 160 1055M369 1161Q314 1188 261 1158M288 1198Q226 1096 279 990" stroke="#4fc04a" stroke-width="0.9"/><path d="M179 903Q279 971 252 1089M229 907Q132 937 124 1038M279 990Q262 970 272 946M262 993Q403 1089 547 998M334 999Q288 1018 273 1065M417 1001Q345 1039 279 990M323 1011Q362 1040 409 1030M206 1018Q209 1028 219 1031M409 1030Q449 1013 460 971M222 1044Q319 1081 409 1030M237 1055Q409 1118 547 998M169 1064Q186 1098 224 1100M241 1117Q236 1082 260 1055M460 971Q389 920 308 952M460 971Q350 1129 159 1141M535 1018Q510 1080 446 1094" stroke="#4fc04a" stroke-width="1.2"/><path d="M241 966Q241 989 258 1005M256 966Q317 1004 387 995M279 990Q208 957 199 878M409 1030Q408 1014 417 1001M409 1030Q367 1061 316 1051M124 1038Q157 961 241 966M169 1064Q329 968 515 981M224 1100Q223 1031 279 990M578 1014Q395 1005 240 1102" stroke="#4fc04a" stroke-width="1.6"/><path d="M142 771Q125 868 189 943M230 803Q180 816 135 791M230 803Q516 774 658 1024M157 798Q150 865 189 920M281 834Q190 866 123 796M328 856Q278 837 242 875M301 873Q302 823 260 797M199 878Q268 930 354 920M255 880Q213 886 189 920M237 888Q177 821 201 734M121 910Q149 996 232 1034M241 966Q225 873 301 818M71 1015Q89 943 161 923" stroke="#5a9be0" stroke-width="0.9"/><path d="M123 796Q290 950 515 981M230 803Q214 805 201 797M264 844Q223 845 199 878M188 845Q201 816 230 803M188 845Q256 833 318 863M209 844Q259 965 387 995M301 873Q253 908 241 966M237 888Q260 964 323 1011M195 891Q329 912 397 795M300 916Q246 909 228 857M111 922Q231 949 318 863M173 947Q172 885 228 857M387 995Q298 915 179 903" stroke="#5a9be0" stroke-width="1.2"/><path d="M264 844Q234 858 218 887M264 844Q250 862 228 857M199 878Q175 879 161 899M199 878Q297 1016 460 971M199 878Q218 873 228 857M179 903Q334 879 460 971M229 907Q282 932 279 990M152 988Q268 1035 387 995M547 998Q338 983 230 803" stroke="#5a9be0" stroke-width="1.6"/><path d="M348 775Q455 819 483 931M437 858Q324 935 199 878M318 863Q398 952 515 981M429 892Q425 873 437 858M429 892Q349 899 300 964M429 892Q410 895 393 884M309 923Q296 891 318 863M371 986Q336 1043 273 1065M371 986Q367 915 318 863M319 1069Q417 1017 430 906" stroke="#bb88ea" stroke-width="0.9"/><path d="M332 799Q365 972 535 1018M365 843Q334 815 348 775M241 966Q257 897 318 863M460 971Q411 888 318 863M474 1009Q417 1022 371 986M474 1009Q444 937 372 906" stroke="#bb88ea" stroke-width="1.2"/><path d="M365 843Q451 879 460 971M241 966Q262 923 309 923M460 971Q446 917 392 901M515 981Q461 963 459 906M515 981Q445 1022 371 986" stroke="#bb88ea" stroke-width="1.6"/><path d="M328 856Q280 863 269 910M229 907Q310 962 340 1054M318 940Q234 1011 261 1117M417 1001Q443 1028 440 1065M298 1063Q307 1072 319 1069M390 1065Q407 1029 387 995M422 1140Q327 1148 252 1089" stroke="#d2cf30" stroke-width="0.9"/><path d="M300 964Q298 984 279 990M366 1006Q346 986 341 958M323 1011Q325 1036 340 1054M340 1054Q380 1058 409 1030M362 1081Q382 1000 460 971M240 1102Q336 1079 387 995M460 971Q424 1049 454 1128M515 981Q449 977 418 919" stroke="#d2cf30" stroke-width="1.2"/><path d="M409 1030Q375 1041 345 1023M515 981Q450 892 341 878" stroke="#d2cf30" stroke-width="1.6"/><path d="M606 841Q558 895 590 959M581 847Q397 842 323 1011M570 858Q477 905 474 1009M640 889Q674 909 714 905M699 888Q703 882 703 874M749 887Q693 1022 548 1033M583 908Q571 892 576 872M600 917Q654 925 681 972M530 934Q568 925 590 959M480 950Q554 957 605 1011M590 975Q599 930 574 892M606 984Q550 973 512 930M547 998Q524 960 480 950M705 999Q627 880 485 886M670 1006Q706 1020 734 993M739 1041Q591 1061 458 991M718 1054Q702 1062 688 1049M743 1070Q735 1055 718 1054M718 1154Q606 1105 547 998" stroke="#f25a45" stroke-width="0.9"/><path d="M387 995Q444 994 480 950M387 995Q494 1037 605 1011M409 1030Q566 1100 705 999M340 1054Q374 975 460 971M512 930Q511 978 474 1009M659 964Q626 941 590 959M659 964Q648 1016 596 1027M460 971Q503 969 530 934M460 971Q532 961 560 893M590 975Q603 913 570 858M515 981Q467 1020 471 1082M515 981Q513 947 483 931M535 1018Q513 1031 491 1018M535 1018Q569 988 579 943" stroke="#f25a45" stroke-width="1.2"/><path d="M429 791Q526 861 515 981M409 1030Q535 1083 658 1024M458 991Q580 1039 705 999M460 971Q564 928 673 958M460 971Q493 960 512 930M460 971Q514 1010 579 999M515 981Q561 963 606 984M515 981Q563 991 596 1027M474 1009Q534 962 606 984M474 1009Q428 1017 387 995M466 1014Q420 1031 387 995" stroke="#f25a45" stroke-width="1.6"/></g><g fill-opacity="0.82"><circle cx="354.3" cy="698.4" r="1.6" fill="#b480de"/><circle cx="158.1" cy="722.6" r="1.6" fill="#4c93d6"/><circle cx="744.3" cy="834.6" r="1.6" fill="#e2393c"/><circle cx="753.2" cy="1168" r="2" fill="#e2393c"/><circle cx="630.8" cy="801.5" r="2" fill="#e2393c"/><circle cx="586.2" cy="825.5" r="2" fill="#e2393c"/><circle cx="638.8" cy="824.1" r="2" fill="#e2393c"/><circle cx="596.8" cy="858.8" r="2" fill="#e2393c"/><circle cx="641.2" cy="872.6" r="2" fill="#e2393c"/><circle cx="789.4" cy="1054.2" r="2" fill="#e2393c"/><circle cx="302.1" cy="1164.4" r="2.4" fill="#3fb449"/><circle cx="303.5" cy="1192.4" r="2.4" fill="#3fb449"/><circle cx="275.1" cy="1195.6" r="2.4" fill="#3fb449"/><circle cx="300.5" cy="1216.1" r="2.4" fill="#3fb449"/><circle cx="283.5" cy="1229.1" r="2.4" fill="#3fb449"/><circle cx="705.5" cy="1153.6" r="2.4" fill="#e2393c"/><circle cx="442.6" cy="1213.5" r="2.4" fill="#cdc931"/><circle cx="259.6" cy="719.4" r="2.4" fill="#4c93d6"/><circle cx="368.7" cy="753.7" r="2.4" fill="#b480de"/><circle cx="232.8" cy="779.5" r="2.4" fill="#4c93d6"/><circle cx="442.6" cy="828.7" r="2.4" fill="#4c93d6"/><circle cx="538.1" cy="827.5" r="2.4" fill="#e2393c"/><circle cx="371.3" cy="937.4" r="2.4" fill="#cdc931"/><circle cx="142.7" cy="960.1" r="2.4" fill="#cdc931"/><circle cx="167.7" cy="1003.1" r="2.4" fill="#3fb449"/><circle cx="199.8" cy="1049.1" r="2.4" fill="#4c93d6"/><circle cx="716.9" cy="959.5" r="2.4" fill="#e2393c"/><circle cx="667.6" cy="1088.2" r="2.4" fill="#e2393c"/><circle cx="792" cy="1096.2" r="2.4" fill="#e2393c"/><circle cx="629.2" cy="1107.6" r="2.4" fill="#e2393c"/><circle cx="485.7" cy="1123.2" r="2.4" fill="#cdc931"/><circle cx="483.7" cy="1144.2" r="2.4" fill="#cdc931"/><circle cx="173.1" cy="1148.6" r="2.8" fill="#3fb449"/><circle cx="213.1" cy="1148.6" r="2.8" fill="#3fb449"/><circle cx="95.6" cy="1158" r="2.8" fill="#3fb449"/><circle cx="343.8" cy="1157.6" r="2.8" fill="#3fb449"/><circle cx="197.7" cy="1166" r="2.8" fill="#3fb449"/><circle cx="403.8" cy="1170" r="2.8" fill="#cdc931"/><circle cx="211.7" cy="1172.4" r="2.8" fill="#3fb449"/><circle cx="127" cy="1174" r="2.8" fill="#3fb449"/><circle cx="348.2" cy="1174.4" r="2.8" fill="#35c4dc"/><circle cx="249.1" cy="1175" r="2.8" fill="#3fb449"/><circle cx="162.1" cy="1180" r="2.8" fill="#3fb449"/><circle cx="140.7" cy="1182.6" r="2.8" fill="#3fb449"/><circle cx="188.1" cy="1184.4" r="2.8" fill="#3fb449"/><circle cx="385.6" cy="1193.6" r="2.8" fill="#cdc931"/><circle cx="261.1" cy="1195.4" r="2.8" fill="#3fb449"/><circle cx="337.1" cy="1210.1" r="2.8" fill="#cdc931"/><circle cx="245.7" cy="1210.1" r="2.8" fill="#3fb449"/><circle cx="358.2" cy="1211.7" r="2.8" fill="#3fb449"/><circle cx="226.7" cy="1213.5" r="2.8" fill="#3fb449"/><circle cx="451" cy="1163.6" r="2.8" fill="#35c4dc"/><circle cx="374.3" cy="722.6" r="2.8" fill="#b480de"/><circle cx="200.6" cy="733.7" r="2.8" fill="#4c93d6"/><circle cx="352.9" cy="740.7" r="2.8" fill="#b480de"/><circle cx="418.4" cy="753.3" r="2.8" fill="#b480de"/><circle cx="327.9" cy="789.7" r="2.8" fill="#b480de"/><circle cx="213.8" cy="795.7" r="2.8" fill="#4c93d6"/><circle cx="414" cy="803.7" r="2.8" fill="#4c93d6"/><circle cx="262.6" cy="815.3" r="2.8" fill="#4c93d6"/><circle cx="137.1" cy="816.1" r="2.8" fill="#4c93d6"/><circle cx="166.1" cy="821.7" r="2.8" fill="#4c93d6"/><circle cx="105.3" cy="825.5" r="2.8" fill="#4c93d6"/><circle cx="416" cy="847.8" r="2.8" fill="#b480de"/><circle cx="359.9" cy="855.2" r="2.8" fill="#b480de"/><circle cx="396" cy="857.8" r="2.8" fill="#b480de"/><circle cx="437.4" cy="858.2" r="2.8" fill="#b480de"/><circle cx="252.6" cy="860.8" r="2.8" fill="#b480de"/><circle cx="272.2" cy="878.6" r="2.8" fill="#4c93d6"/><circle cx="393" cy="883.6" r="2.8" fill="#b480de"/><circle cx="347.3" cy="891.2" r="2.8" fill="#cdc931"/><circle cx="263.6" cy="895.2" r="2.8" fill="#b480de"/><circle cx="212.8" cy="903.2" r="2.8" fill="#b480de"/><circle cx="192.8" cy="902.8" r="2.8" fill="#3fb449"/><circle cx="54" cy="904.6" r="2.8" fill="#4c93d6"/><circle cx="56" cy="919.6" r="2.8" fill="#4c93d6"/><circle cx="578.8" cy="835.6" r="2.8" fill="#e2393c"/><circle cx="685.3" cy="845.8" r="2.8" fill="#e2393c"/><circle cx="472.5" cy="851.6" r="2.8" fill="#b480de"/><circle cx="499.5" cy="855.8" r="2.8" fill="#e2393c"/><circle cx="543.5" cy="857.6" r="2.8" fill="#35c4dc"/><circle cx="594.8" cy="884.6" r="2.8" fill="#e2393c"/><circle cx="683.9" cy="920.8" r="2.8" fill="#e2393c"/><circle cx="442" cy="896.2" r="2.8" fill="#35c4dc"/><circle cx="121.1" cy="936" r="2.8" fill="#4c93d6"/><circle cx="70.4" cy="954.1" r="2.8" fill="#3fb449"/><circle cx="236.2" cy="945.6" r="2.8" fill="#b480de"/><circle cx="406.4" cy="937" r="2.8" fill="#cdc931"/><circle cx="160.5" cy="959.7" r="2.8" fill="#4c93d6"/><circle cx="195.2" cy="961.1" r="2.8" fill="#3fb449"/><circle cx="394" cy="963.1" r="2.8" fill="#cdc931"/><circle cx="422.4" cy="963.7" r="2.8" fill="#35c4dc"/><circle cx="98.7" cy="970.5" r="2.8" fill="#3fb449"/><circle cx="126.7" cy="974.5" r="2.8" fill="#3fb449"/><circle cx="168.7" cy="970.1" r="2.8" fill="#3fb449"/><circle cx="406.8" cy="979.5" r="2.8" fill="#3fb449"/><circle cx="76.4" cy="984.5" r="2.8" fill="#3fb449"/><circle cx="103.1" cy="983.7" r="2.8" fill="#3fb449"/><circle cx="123.7" cy="992.1" r="2.8" fill="#3fb449"/><circle cx="71.6" cy="997.5" r="2.8" fill="#4c93d6"/><circle cx="91.1" cy="999.1" r="2.8" fill="#3fb449"/><circle cx="70.6" cy="1015.1" r="2.8" fill="#4c93d6"/><circle cx="114.7" cy="1011.1" r="2.8" fill="#3fb449"/><circle cx="133.1" cy="1016.1" r="2.8" fill="#3fb449"/><circle cx="230.2" cy="1022.1" r="2.8" fill="#3fb449"/><circle cx="265.8" cy="1020.7" r="2.8" fill="#cdc931"/><circle cx="150.7" cy="1034.7" r="2.8" fill="#3fb449"/><circle cx="135.7" cy="1036.1" r="2.8" fill="#4c93d6"/><circle cx="179.7" cy="1038.1" r="2.8" fill="#3fb449"/><circle cx="378.3" cy="1048.7" r="2.8" fill="#cdc931"/><circle cx="390.4" cy="1065.2" r="2.8" fill="#cdc931"/><circle cx="113.1" cy="1076.8" r="2.8" fill="#3fb449"/><circle cx="70.6" cy="1082.8" r="2.8" fill="#3fb449"/><circle cx="226.2" cy="1081.2" r="2.8" fill="#3fb449"/><circle cx="136.1" cy="1093.2" r="2.8" fill="#3fb449"/><circle cx="326.9" cy="1111.6" r="2.8" fill="#cdc931"/><circle cx="395" cy="1107.6" r="2.8" fill="#3fb449"/><circle cx="413.4" cy="1104.2" r="2.8" fill="#3fb449"/><circle cx="271.2" cy="1121.2" r="2.8" fill="#3fb449"/><circle cx="301.9" cy="1125.2" r="2.8" fill="#cdc931"/><circle cx="140.7" cy="1128.2" r="2.8" fill="#3fb449"/><circle cx="365.3" cy="1130.2" r="2.8" fill="#cdc931"/><circle cx="421.4" cy="1125.6" r="2.8" fill="#cdc931"/><circle cx="353.3" cy="1136.2" r="2.8" fill="#3fb449"/><circle cx="184.8" cy="1136.2" r="2.8" fill="#3fb449"/><circle cx="374.9" cy="1143.2" r="2.8" fill="#3fb449"/><circle cx="246.2" cy="1143.6" r="2.8" fill="#cdc931"/><circle cx="338.3" cy="1146.2" r="2.8" fill="#cdc931"/><circle cx="446.6" cy="932.4" r="2.8" fill="#cdc931"/><circle cx="701.3" cy="932.4" r="2.8" fill="#e2393c"/><circle cx="748.9" cy="935.6" r="2.8" fill="#e2393c"/><circle cx="765.3" cy="937.6" r="2.8" fill="#e2393c"/><circle cx="694.3" cy="955.5" r="2.8" fill="#e2393c"/><circle cx="690.3" cy="1009.1" r="2.8" fill="#e2393c"/><circle cx="626.8" cy="1035.5" r="2.8" fill="#e2393c"/><circle cx="773.4" cy="1039.5" r="2.8" fill="#e2393c"/><circle cx="481.5" cy="1053.8" r="2.8" fill="#cdc931"/><circle cx="623.2" cy="1056.8" r="2.8" fill="#e2393c"/><circle cx="777" cy="1069.6" r="2.8" fill="#e2393c"/><circle cx="742.7" cy="1070.2" r="2.8" fill="#e2393c"/><circle cx="760.3" cy="1073.8" r="2.8" fill="#e2393c"/><circle cx="463" cy="1077.2" r="2.8" fill="#35c4dc"/><circle cx="571.6" cy="1097.8" r="2.8" fill="#e2393c"/><circle cx="453.6" cy="1128.2" r="2.8" fill="#cdc931"/><circle cx="464.6" cy="1135.8" r="2.8" fill="#cdc931"/><circle cx="614.2" cy="1136.8" r="2.8" fill="#e2393c"/><circle cx="638.6" cy="1146.6" r="2.8" fill="#e2393c"/><circle cx="368.8" cy="1160.6" r="3.2" fill="#3fb449"/><circle cx="159.7" cy="1168" r="3.2" fill="#3fb449"/><circle cx="227.1" cy="1168.6" r="3.2" fill="#3fb449"/><circle cx="380.2" cy="1169.4" r="3.2" fill="#35c4dc"/><circle cx="331.1" cy="1170.6" r="3.2" fill="#3fb449"/><circle cx="434.6" cy="1175.4" r="3.2" fill="#35c4dc"/><circle cx="236.5" cy="1179.6" r="3.2" fill="#3fb449"/><circle cx="328.1" cy="1185.4" r="3.2" fill="#cdc931"/><circle cx="287.7" cy="1198.4" r="3.2" fill="#3fb449"/><circle cx="214.1" cy="1200.4" r="3.2" fill="#3fb449"/><circle cx="650.1" cy="1152.4" r="3.2" fill="#e2393c"/><circle cx="668.1" cy="1153.6" r="3.2" fill="#e2393c"/><circle cx="387" cy="723.6" r="3.2" fill="#b480de"/><circle cx="220.6" cy="733.3" r="3.2" fill="#4c93d6"/><circle cx="386" cy="736.7" r="3.2" fill="#b480de"/><circle cx="209.2" cy="748.1" r="3.2" fill="#4c93d6"/><circle cx="283.3" cy="758.7" r="3.2" fill="#4c93d6"/><circle cx="285.3" cy="777.7" r="3.2" fill="#cdc931"/><circle cx="171.3" cy="782.5" r="3.2" fill="#4c93d6"/><circle cx="360.3" cy="789.1" r="3.2" fill="#b480de"/><circle cx="68" cy="799.3" r="3.2" fill="#4c93d6"/><circle cx="270.6" cy="796.7" r="3.2" fill="#4c93d6"/><circle cx="307.3" cy="799.7" r="3.2" fill="#b480de"/><circle cx="144.7" cy="804.1" r="3.2" fill="#4c93d6"/><circle cx="272.6" cy="811.1" r="3.2" fill="#4c93d6"/><circle cx="111.3" cy="813.3" r="3.2" fill="#4c93d6"/><circle cx="246.2" cy="829.1" r="3.2" fill="#4c93d6"/><circle cx="398.4" cy="839.2" r="3.2" fill="#b480de"/><circle cx="219.8" cy="844.2" r="3.2" fill="#4c93d6"/><circle cx="94.9" cy="851.2" r="3.2" fill="#4c93d6"/><circle cx="133.1" cy="852.6" r="3.2" fill="#4c93d6"/><circle cx="271.2" cy="854.2" r="3.2" fill="#4c93d6"/><circle cx="344.3" cy="858.2" r="3.2" fill="#cdc931"/><circle cx="215.8" cy="864.2" r="3.2" fill="#4c93d6"/><circle cx="241.6" cy="875.2" r="3.2" fill="#4c93d6"/><circle cx="110.7" cy="880.8" r="3.2" fill="#4c93d6"/><circle cx="143.1" cy="880.8" r="3.2" fill="#4c93d6"/><circle cx="128.5" cy="886.2" r="3.2" fill="#4c93d6"/><circle cx="305.1" cy="888.2" r="3.2" fill="#b480de"/><circle cx="370.3" cy="893.8" r="3.2" fill="#cdc931"/><circle cx="108.5" cy="896.6" r="3.2" fill="#4c93d6"/><circle cx="287.9" cy="904.8" r="3.2" fill="#3fb449"/><circle cx="307.3" cy="907.8" r="3.2" fill="#cdc931"/><circle cx="248.2" cy="922.2" r="3.2" fill="#cdc931"/><circle cx="441.6" cy="799.5" r="3.2" fill="#e2393c"/><circle cx="482.3" cy="802.5" r="3.2" fill="#e2393c"/><circle cx="473.1" cy="818.7" r="3.2" fill="#4c93d6"/><circle cx="460.6" cy="839.6" r="3.2" fill="#35c4dc"/><circle cx="557.5" cy="846" r="3.2" fill="#e2393c"/><circle cx="749.9" cy="867.6" r="3.2" fill="#e2393c"/><circle cx="622.6" cy="873.6" r="3.2" fill="#e2393c"/><circle cx="721.7" cy="873.2" r="3.2" fill="#e2393c"/><circle cx="464.4" cy="874.8" r="3.2" fill="#b480de"/><circle cx="535.1" cy="884.8" r="3.2" fill="#e2393c"/><circle cx="574.2" cy="891.6" r="3.2" fill="#e2393c"/><circle cx="513.5" cy="903.2" r="3.2" fill="#e2393c"/><circle cx="489.1" cy="915.2" r="3.2" fill="#e2393c"/><circle cx="615.6" cy="918.8" r="3.2" fill="#e2393c"/><circle cx="716.9" cy="918.8" r="3.2" fill="#e2393c"/><circle cx="101.1" cy="943" r="3.2" fill="#4c93d6"/><circle cx="393.4" cy="950.1" r="3.2" fill="#cdc931"/><circle cx="179.1" cy="972.7" r="3.2" fill="#3fb449"/><circle cx="193.2" cy="974.7" r="3.2" fill="#cdc931"/><circle cx="319.3" cy="982.7" r="3.2" fill="#3fb449"/><circle cx="336.7" cy="982.5" r="3.2" fill="#3fb449"/><circle cx="139.5" cy="980.1" r="3.2" fill="#3fb449"/><circle cx="152.7" cy="977.7" r="3.2" fill="#3fb449"/><circle cx="203.2" cy="988.7" r="3.2" fill="#cdc931"/><circle cx="309.3" cy="999.1" r="3.2" fill="#3fb449"/><circle cx="85.1" cy="1029.1" r="3.2" fill="#3fb449"/><circle cx="306.9" cy="1040.1" r="3.2" fill="#cdc931"/><circle cx="358.3" cy="1040.7" r="3.2" fill="#cdc931"/><circle cx="159.5" cy="1054.8" r="3.2" fill="#3fb449"/><circle cx="325.3" cy="1060.2" r="3.2" fill="#3fb449"/><circle cx="239.6" cy="1076.8" r="3.2" fill="#3fb449"/><circle cx="362.3" cy="1081.2" r="3.2" fill="#cdc931"/><circle cx="409.8" cy="1083.6" r="3.2" fill="#35c4dc"/><circle cx="153.5" cy="1096.2" r="3.2" fill="#3fb449"/><circle cx="327.7" cy="1095.6" r="3.2" fill="#cdc931"/><circle cx="338.3" cy="1108.8" r="3.2" fill="#cdc931"/><circle cx="117.7" cy="1115.2" r="3.2" fill="#3fb449"/><circle cx="145.1" cy="1113.6" r="3.2" fill="#3fb449"/><circle cx="363.9" cy="1114.8" r="3.2" fill="#3fb449"/><circle cx="426" cy="1114.8" r="3.2" fill="#cdc931"/><circle cx="275.8" cy="1138.2" r="3.2" fill="#3fb449"/><circle cx="122.1" cy="1144.2" r="3.2" fill="#3fb449"/><circle cx="326.3" cy="1145.8" r="3.2" fill="#3fb449"/><circle cx="649.8" cy="931.6" r="3.2" fill="#e2393c"/><circle cx="789" cy="939.4" r="3.2" fill="#e2393c"/><circle cx="706.3" cy="951.7" r="3.2" fill="#e2393c"/><circle cx="568.1" cy="956.1" r="3.2" fill="#e2393c"/><circle cx="700.3" cy="968.1" r="3.2" fill="#e2393c"/><circle cx="504.5" cy="973.5" r="3.2" fill="#e2393c"/><circle cx="544.1" cy="982.1" r="3.2" fill="#e2393c"/><circle cx="767.9" cy="1017.5" r="3.2" fill="#e2393c"/><circle cx="563.1" cy="1030.1" r="3.2" fill="#e2393c"/><circle cx="476.1" cy="1030.1" r="3.2" fill="#cdc931"/><circle cx="495.7" cy="1036.7" r="3.2" fill="#e2393c"/><circle cx="739.3" cy="1040.7" r="3.2" fill="#e2393c"/><circle cx="716.9" cy="1040.7" r="3.2" fill="#e2393c"/><circle cx="640.6" cy="1059.6" r="3.2" fill="#e2393c"/><circle cx="697.3" cy="1058.2" r="3.2" fill="#e2393c"/><circle cx="555.5" cy="1062.2" r="3.2" fill="#e2393c"/><circle cx="440" cy="1064.6" r="3.2" fill="#cdc931"/><circle cx="596.8" cy="1073.2" r="3.2" fill="#e2393c"/><circle cx="730.3" cy="1074.8" r="3.2" fill="#e2393c"/><circle cx="527.1" cy="1084.8" r="3.2" fill="#e2393c"/><circle cx="445.6" cy="1094.2" r="3.2" fill="#3fb449"/><circle cx="597.2" cy="1127.6" r="3.2" fill="#e2393c"/><circle cx="442" cy="1142.8" r="3.2" fill="#cdc931"/><circle cx="200.7" cy="1153" r="3.6" fill="#3fb449"/><circle cx="137.1" cy="1155.4" r="3.6" fill="#3fb449"/><circle cx="718.1" cy="1153.6" r="3.6" fill="#e2393c"/><circle cx="757.2" cy="1152" r="3.6" fill="#e2393c"/><circle cx="181.6" cy="742.7" r="3.6" fill="#4c93d6"/><circle cx="131.3" cy="779.7" r="3.6" fill="#4c93d6"/><circle cx="157.3" cy="797.7" r="3.6" fill="#4c93d6"/><circle cx="221.2" cy="827.1" r="3.6" fill="#4c93d6"/><circle cx="430.4" cy="844.6" r="3.6" fill="#35c4dc"/><circle cx="82.1" cy="866.2" r="3.6" fill="#4c93d6"/><circle cx="132.1" cy="904.2" r="3.6" fill="#4c93d6"/><circle cx="429.8" cy="906.2" r="3.6" fill="#b480de"/><circle cx="229.2" cy="920.2" r="3.6" fill="#3fb449"/><circle cx="379.3" cy="922.2" r="3.6" fill="#b480de"/><circle cx="628.2" cy="852.8" r="3.6" fill="#e2393c"/><circle cx="503.1" cy="870.2" r="3.6" fill="#e2393c"/><circle cx="557.1" cy="873.4" r="3.6" fill="#e2393c"/><circle cx="576.4" cy="872.2" r="3.6" fill="#e2393c"/><circle cx="484.7" cy="886.2" r="3.6" fill="#e2393c"/><circle cx="459.4" cy="905.8" r="3.6" fill="#b480de"/><circle cx="701.3" cy="909.2" r="3.6" fill="#e2393c"/><circle cx="525.5" cy="918.2" r="3.6" fill="#e2393c"/><circle cx="774.4" cy="920.2" r="3.6" fill="#35c4dc"/><circle cx="352.7" cy="964.1" r="3.6" fill="#cdc931"/><circle cx="245.2" cy="1000.1" r="3.6" fill="#4c93d6"/><circle cx="322.3" cy="997.1" r="3.6" fill="#3fb449"/><circle cx="100.1" cy="1019.5" r="3.6" fill="#3fb449"/><circle cx="324.3" cy="1029.7" r="3.6" fill="#b480de"/><circle cx="196.2" cy="1033.1" r="3.6" fill="#3fb449"/><circle cx="116.7" cy="1052.6" r="3.6" fill="#4c93d6"/><circle cx="406.4" cy="1060.2" r="3.6" fill="#3fb449"/><circle cx="149.1" cy="1067.8" r="3.6" fill="#4c93d6"/><circle cx="122.1" cy="1092.6" r="3.6" fill="#3fb449"/><circle cx="211.2" cy="1098.8" r="3.6" fill="#3fb449"/><circle cx="195.2" cy="1104.2" r="3.6" fill="#3fb449"/><circle cx="104.7" cy="1113.2" r="3.6" fill="#3fb449"/><circle cx="671.3" cy="943" r="3.6" fill="#e2393c"/><circle cx="729.9" cy="967.1" r="3.6" fill="#e2393c"/><circle cx="644.6" cy="975.7" r="3.6" fill="#e2393c"/><circle cx="751.3" cy="1024.1" r="3.6" fill="#e2393c"/><circle cx="522.1" cy="1057.8" r="3.6" fill="#e2393c"/><circle cx="149.1" cy="1152.6" r="4" fill="#3fb449"/><circle cx="240.1" cy="1158.6" r="4" fill="#3fb449"/><circle cx="418.8" cy="1154" r="4" fill="#cdc931"/><circle cx="275.7" cy="1164.6" r="4" fill="#3fb449"/><circle cx="303.7" cy="755.1" r="4" fill="#b480de"/><circle cx="412" cy="770.7" r="4" fill="#b480de"/><circle cx="337.3" cy="832.6" r="4" fill="#4c93d6"/><circle cx="126.5" cy="833.8" r="4" fill="#4c93d6"/><circle cx="155.3" cy="839.6" r="4" fill="#4c93d6"/><circle cx="371.9" cy="879.6" r="4" fill="#b480de"/><circle cx="90.5" cy="875.6" r="4" fill="#4c93d6"/><circle cx="268.8" cy="909.6" r="4" fill="#4c93d6"/><circle cx="331.9" cy="912.6" r="4" fill="#cdc931"/><circle cx="265.2" cy="926.2" r="4" fill="#cdc931"/><circle cx="581.4" cy="846.8" r="4" fill="#e2393c"/><circle cx="680.3" cy="882.8" r="4" fill="#e2393c"/><circle cx="748.5" cy="886.6" r="4" fill="#e2393c"/><circle cx="713.9" cy="904.6" r="4" fill="#e2393c"/><circle cx="656.6" cy="916.2" r="4" fill="#e2393c"/><circle cx="484.1" cy="926.2" r="4" fill="#e2393c"/><circle cx="154.5" cy="948.6" r="4" fill="#4c93d6"/><circle cx="300.3" cy="964.1" r="4" fill="#cdc931"/><circle cx="297.3" cy="980.5" r="4" fill="#4c93d6"/><circle cx="194.2" cy="1012.1" r="4" fill="#3fb449"/><circle cx="289.3" cy="1071.2" r="4" fill="#3fb449"/><circle cx="143.1" cy="1079.8" r="4" fill="#3fb449"/><circle cx="377.3" cy="1080.2" r="4" fill="#cdc931"/><circle cx="158.7" cy="1084.8" r="4" fill="#3fb449"/><circle cx="410" cy="1133.2" r="4" fill="#cdc931"/><circle cx="778.4" cy="1007.7" r="4" fill="#e2393c"/><circle cx="505.1" cy="1019.5" r="4" fill="#e2393c"/><circle cx="445" cy="1018.5" r="4" fill="#e2393c"/><circle cx="732.3" cy="1018.1" r="4" fill="#e2393c"/><circle cx="705.3" cy="1036.7" r="4" fill="#e2393c"/><circle cx="688.3" cy="1049.1" r="4" fill="#e2393c"/><circle cx="784" cy="1062.2" r="4" fill="#e2393c"/><circle cx="491.7" cy="1065.2" r="4" fill="#3fb449"/><circle cx="693.7" cy="1081.2" r="4" fill="#e2393c"/><circle cx="537.7" cy="1090.2" r="4" fill="#e2393c"/><circle cx="701.3" cy="1105.6" r="4" fill="#e2393c"/><circle cx="712.9" cy="1114.6" r="4" fill="#e2393c"/><circle cx="740.9" cy="1116.8" r="4" fill="#e2393c"/><circle cx="663.2" cy="1131.6" r="4" fill="#e2393c"/><circle cx="209.5" cy="1181.6" r="4.4" fill="#3fb449"/><circle cx="356.7" cy="712.6" r="4.4" fill="#b480de"/><circle cx="428.8" cy="790.7" r="4.4" fill="#b480de"/><circle cx="300.7" cy="817.5" r="4.4" fill="#4c93d6"/><circle cx="312.3" cy="824.1" r="4.4" fill="#4c93d6"/><circle cx="364.7" cy="822.5" r="4.4" fill="#b480de"/><circle cx="281.5" cy="834.2" r="4.4" fill="#4c93d6"/><circle cx="209.2" cy="843.6" r="4.4" fill="#4c93d6"/><circle cx="304.3" cy="842.8" r="4.4" fill="#b480de"/><circle cx="294.9" cy="855.8" r="4.4" fill="#4c93d6"/><circle cx="176.7" cy="855.8" r="4.4" fill="#4c93d6"/><circle cx="404.4" cy="878.6" r="4.4" fill="#b480de"/><circle cx="203.8" cy="914.2" r="4.4" fill="#4c93d6"/><circle cx="160.5" cy="923.2" r="4.4" fill="#4c93d6"/><circle cx="516.1" cy="779.5" r="4.4" fill="#e2393c"/><circle cx="463" cy="824.5" r="4.4" fill="#b480de"/><circle cx="485.1" cy="839.6" r="4.4" fill="#e2393c"/><circle cx="661.8" cy="857.2" r="4.4" fill="#e2393c"/><circle cx="604.2" cy="877.8" r="4.4" fill="#e2393c"/><circle cx="729.3" cy="900.2" r="4.4" fill="#e2393c"/><circle cx="209.2" cy="948" r="4.4" fill="#3fb449"/><circle cx="272.2" cy="946" r="4.4" fill="#3fb449"/><circle cx="284.9" cy="950.1" r="4.4" fill="#4c93d6"/><circle cx="298.3" cy="1025.7" r="4.4" fill="#cdc931"/><circle cx="242.8" cy="1042.1" r="4.4" fill="#cdc931"/><circle cx="283.3" cy="1058.2" r="4.4" fill="#cdc931"/><circle cx="349.3" cy="1070.8" r="4.4" fill="#3fb449"/><circle cx="364.3" cy="1090.2" r="4.4" fill="#cdc931"/><circle cx="183.2" cy="1100.8" r="4.4" fill="#3fb449"/><circle cx="249.2" cy="1128.2" r="4.4" fill="#3fb449"/><circle cx="598.2" cy="930.6" r="4.4" fill="#e2393c"/><circle cx="578.8" cy="943" r="4.4" fill="#e2393c"/><circle cx="672.7" cy="958.1" r="4.4" fill="#e2393c"/><circle cx="804" cy="965.7" r="4.4" fill="#e2393c"/><circle cx="620.8" cy="978.1" r="4.4" fill="#e2393c"/><circle cx="648.8" cy="1078.2" r="4.4" fill="#e2393c"/><circle cx="487.5" cy="1081.2" r="4.4" fill="#35c4dc"/><circle cx="422" cy="1140.2" r="4.4" fill="#cdc931"/><circle cx="171.1" cy="1160.6" r="4.8" fill="#3fb449"/><circle cx="365.3" cy="734.7" r="4.8" fill="#b480de"/><circle cx="201.2" cy="796.5" r="4.8" fill="#4c93d6"/><circle cx="259.6" cy="796.5" r="4.8" fill="#4c93d6"/><circle cx="331.9" cy="798.7" r="4.8" fill="#b480de"/><circle cx="358.7" cy="877.2" r="4.8" fill="#b480de"/><circle cx="250.2" cy="902.8" r="4.8" fill="#4c93d6"/><circle cx="189.2" cy="920.2" r="4.8" fill="#4c93d6"/><circle cx="487.7" cy="824.7" r="4.8" fill="#b480de"/><circle cx="605.6" cy="840.8" r="4.8" fill="#e2393c"/><circle cx="569.9" cy="858.2" r="4.8" fill="#e2393c"/><circle cx="639.8" cy="888.8" r="4.8" fill="#e2393c"/><circle cx="197.2" cy="998.7" r="4.8" fill="#4c93d6"/><circle cx="277.2" cy="1036.7" r="4.8" fill="#3fb449"/><circle cx="90.7" cy="1051.2" r="4.8" fill="#3fb449"/><circle cx="208.2" cy="1081.8" r="4.8" fill="#3fb449"/><circle cx="349.3" cy="1100.8" r="4.8" fill="#cdc931"/><circle cx="315.3" cy="1103.2" r="4.8" fill="#cdc931"/><circle cx="93.5" cy="1107.6" r="4.8" fill="#3fb449"/><circle cx="282.3" cy="1109.2" r="4.8" fill="#cdc931"/><circle cx="571.2" cy="928.6" r="4.8" fill="#e2393c"/><circle cx="765.7" cy="972.5" r="4.8" fill="#e2393c"/><circle cx="577.8" cy="985.1" r="4.8" fill="#e2393c"/><circle cx="763.3" cy="992.1" r="4.8" fill="#e2393c"/><circle cx="618.2" cy="1000.7" r="4.8" fill="#e2393c"/><circle cx="756.7" cy="1009.5" r="4.8" fill="#e2393c"/><circle cx="711.3" cy="1016.1" r="4.8" fill="#e2393c"/><circle cx="547.7" cy="1032.7" r="4.8" fill="#e2393c"/><circle cx="677.9" cy="1037.5" r="4.8" fill="#e2393c"/><circle cx="458" cy="1057.6" r="4.8" fill="#35c4dc"/><circle cx="164.5" cy="763.7" r="5" fill="#4c93d6"/><circle cx="375.9" cy="784.7" r="5" fill="#b480de"/><circle cx="202.2" cy="811.1" r="5" fill="#4c93d6"/><circle cx="511.1" cy="926.2" r="5" fill="#e2393c"/><circle cx="308.3" cy="952.1" r="5" fill="#3fb449"/><circle cx="230.2" cy="978.1" r="5" fill="#3fb449"/><circle cx="360.3" cy="981.1" r="5" fill="#cdc931"/><circle cx="261.1" cy="1158" r="5.2" fill="#3fb449"/><circle cx="282.5" cy="1177.6" r="5.2" fill="#3fb449"/><circle cx="379.9" cy="812.7" r="5.2" fill="#b480de"/><circle cx="243.6" cy="850.2" r="5.2" fill="#4c93d6"/><circle cx="426.8" cy="878.8" r="5.2" fill="#b480de"/><circle cx="280.9" cy="889.2" r="5.2" fill="#b480de"/><circle cx="251" cy="892.8" r="5.2" fill="#4c93d6"/><circle cx="392" cy="900.6" r="5.2" fill="#b480de"/><circle cx="671.5" cy="870.2" r="5.2" fill="#e2393c"/><circle cx="727.9" cy="889.2" r="5.2" fill="#e2393c"/><circle cx="653.8" cy="901.6" r="5.2" fill="#e2393c"/><circle cx="271.2" cy="969.1" r="5.2" fill="#4c93d6"/><circle cx="216.8" cy="1010.1" r="5.2" fill="#3fb449"/><circle cx="218.6" cy="1031.1" r="5.2" fill="#3fb449"/><circle cx="365.9" cy="1049.1" r="5.2" fill="#cdc931"/><circle cx="187.2" cy="1049.1" r="5.2" fill="#3fb449"/><circle cx="299.3" cy="1081.2" r="5.2" fill="#3fb449"/><circle cx="529.7" cy="934.4" r="5.2" fill="#e2393c"/><circle cx="632.2" cy="936" r="5.2" fill="#e2393c"/><circle cx="719.7" cy="975.7" r="5.2" fill="#e2393c"/><circle cx="753.7" cy="1049.1" r="5.2" fill="#e2393c"/><circle cx="554.5" cy="1073.8" r="5.2" fill="#e2393c"/><circle cx="680.3" cy="1137.2" r="5.2" fill="#e2393c"/><circle cx="191.2" cy="827.1" r="5.6" fill="#4c93d6"/><circle cx="154.5" cy="868.8" r="5.6" fill="#4c93d6"/><circle cx="316.7" cy="880.8" r="5.6" fill="#4c93d6"/><circle cx="121.1" cy="909.6" r="5.6" fill="#4c93d6"/><circle cx="324.3" cy="926.2" r="5.6" fill="#3fb449"/><circle cx="460" cy="864.6" r="5.6" fill="#b480de"/><circle cx="702.9" cy="874.2" r="5.6" fill="#e2393c"/><circle cx="570.2" cy="911.2" r="5.6" fill="#e2393c"/><circle cx="173.1" cy="947.4" r="5.6" fill="#4c93d6"/><circle cx="363.3" cy="948.6" r="5.6" fill="#cdc931"/><circle cx="227.2" cy="998.7" r="5.6" fill="#3fb449"/><circle cx="243.8" cy="1016.5" r="5.6" fill="#4c93d6"/><circle cx="333.3" cy="1018.1" r="5.6" fill="#3fb449"/><circle cx="262.2" cy="1036.1" r="5.6" fill="#3fb449"/><circle cx="332.3" cy="1041.1" r="5.6" fill="#3fb449"/><circle cx="236.6" cy="1054.8" r="5.6" fill="#3fb449"/><circle cx="259.8" cy="1054.8" r="5.6" fill="#3fb449"/><circle cx="226.6" cy="1061.2" r="5.6" fill="#cdc931"/><circle cx="335.3" cy="1082.2" r="5.6" fill="#cdc931"/><circle cx="274.2" cy="1088.2" r="5.6" fill="#3fb449"/><circle cx="374.3" cy="1098.2" r="5.6" fill="#3fb449"/><circle cx="172.7" cy="1121.2" r="5.6" fill="#3fb449"/><circle cx="207.2" cy="1123.2" r="5.6" fill="#3fb449"/><circle cx="221.2" cy="1128.2" r="5.6" fill="#3fb449"/><circle cx="305.9" cy="1140.2" r="5.6" fill="#3fb449"/><circle cx="158.7" cy="1141.2" r="5.6" fill="#3fb449"/><circle cx="512.1" cy="930" r="5.6" fill="#e2393c"/><circle cx="753.9" cy="959.3" r="5.6" fill="#e2393c"/><circle cx="733.7" cy="993.5" r="5.6" fill="#e2393c"/><circle cx="472.5" cy="1096.2" r="5.6" fill="#3fb449"/><circle cx="291.5" cy="789.1" r="6" fill="#4c93d6"/><circle cx="135.3" cy="791.1" r="6" fill="#4c93d6"/><circle cx="204.2" cy="857.8" r="6" fill="#4c93d6"/><circle cx="340.7" cy="877.8" r="6" fill="#cdc931"/><circle cx="417.8" cy="896.6" r="6" fill="#cdc931"/><circle cx="111.1" cy="922.2" r="6" fill="#4c93d6"/><circle cx="309.3" cy="923.2" r="6" fill="#b480de"/><circle cx="292.3" cy="926.2" r="6" fill="#3fb449"/><circle cx="708.9" cy="862.2" r="6" fill="#e2393c"/><circle cx="657.6" cy="886.6" r="6" fill="#e2393c"/><circle cx="600.2" cy="917.2" r="6" fill="#e2393c"/><circle cx="254.2" cy="945.6" r="6" fill="#4c93d6"/><circle cx="261.8" cy="953.1" r="6" fill="#cdc931"/><circle cx="219.2" cy="971.1" r="6" fill="#cdc931"/><circle cx="257.8" cy="1004.7" r="6" fill="#3fb449"/><circle cx="175.1" cy="1012.1" r="6" fill="#3fb449"/><circle cx="260.8" cy="1117.2" r="6" fill="#cdc931"/><circle cx="552.1" cy="989.1" r="6" fill="#e2393c"/><circle cx="491.1" cy="1017.7" r="6" fill="#e2393c"/><circle cx="605.2" cy="1010.7" r="6" fill="#e2393c"/><circle cx="463" cy="1040.7" r="6" fill="#cdc931"/><circle cx="254.8" cy="879.6" r="6.4" fill="#4c93d6"/><circle cx="322.9" cy="897.8" r="6.4" fill="#4c93d6"/><circle cx="372.3" cy="906.2" r="6.4" fill="#b480de"/><circle cx="259.8" cy="979.1" r="6.4" fill="#cdc931"/><circle cx="137.1" cy="1051.2" r="6.4" fill="#3fb449"/><circle cx="284.9" cy="1099.2" r="6.4" fill="#3fb449"/><circle cx="483.5" cy="931" r="6.4" fill="#e2393c"/><circle cx="639.8" cy="950.5" r="6.4" fill="#e2393c"/><circle cx="607.8" cy="965.1" r="6.4" fill="#e2393c"/><circle cx="681.3" cy="971.7" r="6.4" fill="#e2393c"/><circle cx="471.1" cy="1081.6" r="6.4" fill="#e2393c"/><circle cx="703.3" cy="1087.8" r="6.4" fill="#e2393c"/><circle cx="347.7" cy="775.1" r="6.8" fill="#b480de"/><circle cx="151.7" cy="988.5" r="6.8" fill="#4c93d6"/><circle cx="262.2" cy="993.1" r="6.8" fill="#3fb449"/><circle cx="182.2" cy="996.1" r="6.8" fill="#3fb449"/><circle cx="319.3" cy="1069.2" r="6.8" fill="#cdc931"/><circle cx="251.8" cy="1089.2" r="6.8" fill="#3fb449"/><circle cx="670.3" cy="1006.1" r="6.8" fill="#e2393c"/><circle cx="578.2" cy="1014.1" r="6.8" fill="#e2393c"/><circle cx="334.3" cy="999.1" r="7" fill="#cdc931"/><circle cx="382.4" cy="1013.1" r="7" fill="#35c4dc"/><circle cx="435" cy="930" r="7" fill="#cdc931"/><circle cx="658.8" cy="1050.2" r="7" fill="#e2393c"/><circle cx="523.5" cy="871.6" r="7.2" fill="#e2393c"/><circle cx="142.1" cy="771.1" r="7.6" fill="#4c93d6"/><circle cx="327.7" cy="855.8" r="7.6" fill="#cdc931"/><circle cx="300.9" cy="872.8" r="7.6" fill="#4c93d6"/><circle cx="218.2" cy="887.2" r="7.6" fill="#4c93d6"/><circle cx="237" cy="888.2" r="7.6" fill="#4c93d6"/><circle cx="277.6" cy="935" r="7.6" fill="#3fb449"/><circle cx="371.3" cy="986.1" r="7.6" fill="#b480de"/><circle cx="340.3" cy="1054.2" r="7.6" fill="#cdc931"/><circle cx="194.6" cy="891.2" r="8" fill="#4c93d6"/><circle cx="418.4" cy="919.2" r="8" fill="#cdc931"/><circle cx="189.2" cy="943" r="8" fill="#4c93d6"/><circle cx="344.7" cy="1022.7" r="8" fill="#cdc931"/><circle cx="181.2" cy="1073.2" r="8" fill="#3fb449"/><circle cx="255.2" cy="1098.2" r="8" fill="#3fb449"/><circle cx="512.1" cy="945.6" r="8" fill="#e2393c"/><circle cx="658.8" cy="964.1" r="8" fill="#e2393c"/><circle cx="726.3" cy="1031.1" r="8" fill="#e2393c"/><circle cx="188.2" cy="845.2" r="8.4" fill="#4c93d6"/><circle cx="317.9" cy="862.8" r="8.4" fill="#b480de"/><circle cx="161.1" cy="899.2" r="8.4" fill="#4c93d6"/><circle cx="300.3" cy="915.6" r="8.4" fill="#cdc931"/><circle cx="353.9" cy="920.2" r="8.4" fill="#4c93d6"/><circle cx="698.9" cy="887.6" r="8.4" fill="#e2393c"/><circle cx="559.5" cy="893.2" r="8.4" fill="#e2393c"/><circle cx="627" cy="909.8" r="8.4" fill="#e2393c"/><circle cx="341.3" cy="958.1" r="8.4" fill="#cdc931"/><circle cx="327.3" cy="970.1" r="8.4" fill="#cdc931"/><circle cx="232.2" cy="1034.1" r="8.4" fill="#3fb449"/><circle cx="124.1" cy="1038.1" r="8.4" fill="#3fb449"/><circle cx="186.8" cy="1065.2" r="8.4" fill="#3fb449"/><circle cx="334.3" cy="1069.2" r="8.4" fill="#cdc931"/><circle cx="171.7" cy="1085.6" r="8.4" fill="#3fb449"/><circle cx="480.1" cy="950.1" r="8.4" fill="#e2393c"/><circle cx="123.1" cy="795.5" r="9" fill="#4c93d6"/><circle cx="179.1" cy="903.2" r="9" fill="#4c93d6"/><circle cx="417.4" cy="1001.1" r="9" fill="#3fb449"/><circle cx="222.2" cy="1044.1" r="9" fill="#3fb449"/><circle cx="315.9" cy="1051.2" r="9" fill="#3fb449"/><circle cx="298.3" cy="1063.2" r="9" fill="#cdc931"/><circle cx="168.5" cy="1064.2" r="9" fill="#3fb449"/><circle cx="596.2" cy="1027.1" r="9" fill="#e2393c"/><circle cx="228.2" cy="856.8" r="9.6" fill="#4c93d6"/><circle cx="365.9" cy="1006.1" r="9.6" fill="#3fb449"/><circle cx="323.3" cy="1011.1" r="9.6" fill="#cdc931"/><circle cx="205.8" cy="1017.7" r="9.6" fill="#3fb449"/><circle cx="590.2" cy="958.7" r="9.6" fill="#e2393c"/><circle cx="458" cy="991.1" r="9.6" fill="#cdc931"/><circle cx="582.8" cy="908.2" r="10" fill="#e2393c"/><circle cx="256.2" cy="966.1" r="10" fill="#3fb449"/><circle cx="224.2" cy="1100.2" r="10" fill="#3fb449"/><circle cx="396.8" cy="794.7" r="10.4" fill="#b480de"/><circle cx="429.4" cy="892.2" r="10.4" fill="#b480de"/><circle cx="230.2" cy="802.7" r="11" fill="#4c93d6"/><circle cx="365.1" cy="842.6" r="11" fill="#b480de"/><circle cx="199.2" cy="878.2" r="11" fill="#4c93d6"/><circle cx="229.2" cy="907.2" r="11" fill="#4c93d6"/><circle cx="318.3" cy="940" r="11" fill="#3fb449"/><circle cx="273.2" cy="1065.2" r="11" fill="#3fb449"/><circle cx="606.2" cy="984.1" r="11" fill="#e2393c"/><circle cx="658.2" cy="1023.7" r="11" fill="#e2393c"/><circle cx="579.2" cy="998.7" r="11.6" fill="#e2393c"/><circle cx="474.1" cy="1009.1" r="11.6" fill="#e2393c"/><circle cx="466" cy="1014.1" r="11.6" fill="#e2393c"/><circle cx="263.8" cy="843.8" r="12.4" fill="#4c93d6"/><circle cx="241.2" cy="1117.2" r="12.4" fill="#3fb449"/><circle cx="590.2" cy="975.1" r="13" fill="#e2393c"/><circle cx="705.3" cy="999.5" r="13.6" fill="#e2393c"/><circle cx="240.2" cy="1102.2" r="14" fill="#3fb449"/><circle cx="547.1" cy="998.1" r="14" fill="#e2393c"/><circle cx="718.3" cy="1054.2" r="14.4" fill="#e2393c"/><circle cx="241.2" cy="965.7" r="15" fill="#4c93d6"/><circle cx="279.2" cy="989.7" r="16" fill="#3fb449"/><circle cx="534.5" cy="1018.1" r="17.6" fill="#e2393c"/><circle cx="387.4" cy="995.1" r="18" fill="#cdc931"/><circle cx="409.4" cy="1029.7" r="20" fill="#3fb449"/><circle cx="515.1" cy="981.1" r="25" fill="#e2393c"/><circle cx="459.6" cy="971.5" r="26" fill="#e2393c"/></g><g font-family="'Liberation Sans',sans-serif" text-anchor="middle" fill="#000" fill-opacity="0.93" stroke="#000" stroke-opacity="0.6" lengthAdjust="spacing"><text x="353.9" y="700.8" font-size="8.08" textLength="106.1" stroke-width="0.10">directional distance function</text><text x="357.3" y="715.3" font-size="8.73" textLength="81.1" stroke-width="0.10">undesirable outputs</text><text x="158.1" y="724.8" font-size="8.01" textLength="33.6" stroke-width="0.10">producer</text><text x="259.8" y="721.8" font-size="7.74" textLength="22.4" stroke-width="0.09">sector</text><text x="365.3" y="737.1" font-size="8.78" textLength="113.7" stroke-width="0.11">environmental performance</text><text x="181.4" y="745.1" font-size="8.05" textLength="85.7" stroke-width="0.10">environmental impacts</text><text x="302.9" y="757.2" font-size="8.4" textLength="54.5" stroke-width="0.10">eco-efficiency</text><text x="368.3" y="755.8" font-size="7.84" textLength="69.1" stroke-width="0.09">empirical evidence</text><text x="139.7" y="773.7" font-size="10.2" textLength="99.5" stroke-width="0.12">input-output analysis</text><text x="232.6" y="781.8" font-size="7.66" textLength="46.6" stroke-width="0.09">convergence</text><text x="347.7" y="778.4" font-size="9.75" textLength="52.5" stroke-width="0.12">productivity</text><text x="291.9" y="792" font-size="9.6" textLength="24.4" stroke-width="0.12">index</text><text x="124.7" y="798.7" font-size="11.21" textLength="95.5" stroke-width="0.13">international trade</text><text x="231.6" y="806.9" font-size="12.61" textLength="76.1" stroke-width="0.15">consumption</text><text x="191.6" y="828.9" font-size="9.18" textLength="116.7" stroke-width="0.11">greenhouse-gas emissions</text><text x="312.9" y="826.6" font-size="8.81" textLength="53.7" stroke-width="0.11">methodology</text><text x="364.7" y="823.9" font-size="8.44" textLength="47.4" stroke-width="0.10">aggregation</text><text x="155.3" y="841.3" font-size="8.58" textLength="43.6" stroke-width="0.10">hypothesis</text><text x="263.8" y="847.8" font-size="12.12" textLength="39.4" stroke-width="0.15">energy</text><text x="365.5" y="846.2" font-size="11.43" textLength="50.5" stroke-width="0.14">efficiency</text><text x="177.7" y="857.3" font-size="9.61" textLength="71.1" stroke-width="0.12">european union</text><text x="227.8" y="860" font-size="10.63" textLength="27" stroke-width="0.13">china</text><text x="318.3" y="865.9" font-size="11.06" textLength="53.7" stroke-width="0.13">innovation</text><text x="81.7" y="868.6" font-size="8.08" textLength="29.6" stroke-width="0.10">biofuels</text><text x="199.2" y="881.8" font-size="11.22" textLength="53.1" stroke-width="0.13">emissions</text><text x="255" y="882.4" font-size="9.31" textLength="50.7" stroke-width="0.11">perspective</text><text x="316.9" y="883.2" font-size="8.67" textLength="37.4" stroke-width="0.10">economy</text><text x="128.5" y="888" font-size="8.01" textLength="35" stroke-width="0.10">degrowth</text><text x="179.7" y="906.2" font-size="11.37" textLength="45" stroke-width="0.14">pollution</text><text x="229.6" y="911.2" font-size="12.73" textLength="40.6" stroke-width="0.15">growth</text><text x="351.7" y="908.7" font-size="9.48" textLength="42" stroke-width="0.11">electricity</text><text x="54" y="907" font-size="8.08" textLength="33.4" stroke-width="0.10">transfers</text><text x="121.3" y="912.9" font-size="9.46" textLength="32.4" stroke-width="0.11">income</text><text x="353.9" y="923.1" font-size="11.01" textLength="64.5" stroke-width="0.13">environment</text><text x="417.4" y="922.7" font-size="10.06" textLength="41" stroke-width="0.12">behavior</text><text x="248.6" y="924.5" font-size="8.32" textLength="57.1" stroke-width="0.10">water pollution</text><text x="112.7" y="926.5" font-size="9.46" textLength="128.1" stroke-width="0.11">environmental kuznets curve</text><text x="396.6" y="798.7" font-size="11.41" textLength="143.7" stroke-width="0.14">data envelopment analysis</text><text x="429.2" y="813.9" font-size="7.82" textLength="32.8" stroke-width="0.09">business</text><text x="442.6" y="831.2" font-size="8.14" textLength="35.6" stroke-width="0.10">reduction</text><text x="488.1" y="827.4" font-size="8.87" textLength="33" stroke-width="0.11">industry</text><text x="485.1" y="842.2" font-size="8.68" textLength="43.6" stroke-width="0.10">generation</text><text x="430" y="847.2" font-size="8.03" textLength="37" stroke-width="0.10">prediction</text><text x="516.3" y="781.7" font-size="8.78" textLength="70.1" stroke-width="0.11">or in government</text><text x="630.6" y="803.5" font-size="7.98" textLength="41" stroke-width="0.10">advertising</text><text x="537.9" y="829.7" font-size="7.74" textLength="32" stroke-width="0.09">analytics</text><text x="585.8" y="827.4" font-size="8.11" textLength="48.4" stroke-width="0.10">procurement</text><text x="638.6" y="826.2" font-size="8.19" textLength="47.4" stroke-width="0.10">commitment</text><text x="744.3" y="836.4" font-size="8.14" textLength="64.5" stroke-width="0.10">product warranty</text><text x="605.8" y="842.6" font-size="8.74" textLength="48" stroke-width="0.10">real options</text><text x="543.1" y="859.9" font-size="7.89" textLength="41" stroke-width="0.09">forecasting</text><text x="596.2" y="860.7" font-size="8.31" textLength="31.4" stroke-width="0.10">volatility</text><text x="460" y="867.1" font-size="9.13" textLength="74.5" stroke-width="0.11">system dynamics</text><text x="709.9" y="865.2" font-size="9.34" textLength="96.7" stroke-width="0.11">revenue management</text><text x="523.7" y="874.7" font-size="9.53" textLength="49" stroke-width="0.11">investment</text><text x="641.2" y="874.6" font-size="7.95" textLength="21.6" stroke-width="0.10">repair</text><text x="604.2" y="880.4" font-size="8.77" textLength="25.4" stroke-width="0.11">failure</text><text x="485.1" y="888.3" font-size="8.87" textLength="30.4" stroke-width="0.11">options</text><text x="698.3" y="890.6" font-size="10.09" textLength="61.5" stroke-width="0.12">maintenance</text><text x="574.4" y="893.4" font-size="7.98" textLength="113.7" stroke-width="0.10">robustness and sensitivity ana</text><text x="428.2" y="895.7" font-size="11.67" textLength="69.7" stroke-width="0.14">performance</text><text x="714.3" y="907.2" font-size="8.61" textLength="63.7" stroke-width="0.10">dynamic pricing</text><text x="582.4" y="912.2" font-size="11.78" textLength="64.1" stroke-width="0.14">competition</text><text x="489.1" y="917" font-size="7.87" textLength="34.4" stroke-width="0.09">inference</text><text x="774" y="922.7" font-size="8.1" textLength="54.5" stroke-width="0.10">bullwhip effect</text><text x="101.5" y="945.1" font-size="7.62" textLength="39.6" stroke-width="0.09">democracy</text><text x="189.2" y="946.1" font-size="10.15" textLength="33" stroke-width="0.12">carbon</text><text x="253.8" y="948.1" font-size="9.48" textLength="28" stroke-width="0.11">trends</text><text x="320.7" y="946" font-size="12.6" textLength="64.1" stroke-width="0.15">economics</text><text x="371.3" y="939.6" font-size="8.52" textLength="17.6" stroke-width="0.10">trust</text><text x="406.8" y="938.8" font-size="7.86" textLength="39" stroke-width="0.09">carbon tax</text><text x="159.7" y="961.8" font-size="7.92" textLength="52.5" stroke-width="0.10">compensation</text><text x="379.3" y="958.4" font-size="7.87" textLength="46" stroke-width="0.09">acceptability</text><text x="241.6" y="969.8" font-size="14.46" textLength="88.1" stroke-width="0.17">sustainability</text><text x="313.3" y="965.8" font-size="8.3" textLength="50.1" stroke-width="0.10">classification</text><text x="422.4" y="965.8" font-size="7.69" textLength="15" stroke-width="0.09">bias</text><text x="98.5" y="972.5" font-size="7.52" textLength="28" stroke-width="0.09">leakage</text><text x="179.1" y="974.7" font-size="8.25" textLength="19" stroke-width="0.10">state</text><text x="380.4" y="972.9" font-size="8.02" textLength="63.1" stroke-width="0.10">conjoint-analysis</text><text x="75.6" y="986.5" font-size="8.13" textLength="47.4" stroke-width="0.10">afforestation</text><text x="153.1" y="991.4" font-size="9.15" textLength="92.5" stroke-width="0.11">ecological economics</text><text x="279.2" y="993.5" font-size="13.99" textLength="100.1" stroke-width="0.17">climate change</text><text x="388" y="999.5" font-size="15.97" textLength="50.1" stroke-width="0.19">impact</text><text x="70.4" y="999.1" font-size="7.91" textLength="44.4" stroke-width="0.09">water policy</text><text x="167.1" y="1004.9" font-size="7.89" textLength="55.1" stroke-width="0.09">q methodology</text><text x="99.5" y="1020.6" font-size="8.36" textLength="31.6" stroke-width="0.10">amazon</text><text x="133.1" y="1018.2" font-size="7.68" textLength="30.4" stroke-width="0.09">biomass</text><text x="205.8" y="1020.9" font-size="11.35" textLength="45.6" stroke-width="0.14">land use</text><text x="299.3" y="1027.8" font-size="9.06" textLength="59.5" stroke-width="0.11">meta-analysis</text><text x="124.9" y="1040.9" font-size="11.07" textLength="68.1" stroke-width="0.13">deforestation</text><text x="331.9" y="1043.8" font-size="9.66" textLength="39.4" stroke-width="0.12">adoption</text><text x="222.8" y="1047.3" font-size="11.69" textLength="58.1" stroke-width="0.14">agriculture</text><text x="286.3" y="1048.1" font-size="7.9" textLength="47.6" stroke-width="0.09">stakeholders</text><text x="117.1" y="1054.7" font-size="7.97" textLength="24" stroke-width="0.10">justice</text><text x="169.1" y="1066.9" font-size="10.51" textLength="58.5" stroke-width="0.13">governance</text><text x="360.7" y="1064.6" font-size="8.26" textLength="56.7" stroke-width="0.10">consequences</text><text x="273.8" y="1069.7" font-size="12.6" textLength="53.7" stroke-width="0.15">valuation</text><text x="225.8" y="1084.4" font-size="8.85" textLength="23" stroke-width="0.11">rights</text><text x="333.3" y="1083.7" font-size="10.48" textLength="51.5" stroke-width="0.13">population</text><text x="410" y="1085.5" font-size="7.77" textLength="29.4" stroke-width="0.09">big data</text><text x="171.5" y="1088.2" font-size="10.16" textLength="27" stroke-width="0.12">forest</text><text x="122.1" y="1094.5" font-size="7.72" textLength="26" stroke-width="0.09">mexico</text><text x="304.3" y="1097.1" font-size="7.76" textLength="22" stroke-width="0.09">safety</text><text x="254.2" y="1100.8" font-size="10.54" textLength="43.6" stroke-width="0.13">resource</text><text x="375.3" y="1101.7" font-size="9.6" textLength="38" stroke-width="0.12">program</text><text x="183.2" y="1102.6" font-size="8.16" textLength="29.4" stroke-width="0.10">lessons</text><text x="93.5" y="1109.5" font-size="8.89" textLength="60.5" stroke-width="0.11">property rights</text><text x="240.2" y="1120.9" font-size="12.4" textLength="115.1" stroke-width="0.15">ecosystem services</text><text x="365.3" y="1131.7" font-size="8.33" textLength="31" stroke-width="0.10">altruism</text><text x="414.8" y="1127.5" font-size="7.69" textLength="25" stroke-width="0.09">spread</text><text x="160.1" y="1143.3" font-size="9.38" textLength="102.1" stroke-width="0.11">environmental services</text><text x="245.8" y="1145.4" font-size="7.81" textLength="46.6" stroke-width="0.09">mechanisms</text><text x="305.3" y="1145" font-size="9.25" textLength="42.6" stroke-width="0.11">payments</text><text x="409.8" y="1034.7" font-size="16.54" textLength="102.7" stroke-width="0.20">management</text><text x="512.1" y="932.6" font-size="9.75" textLength="38.4" stroke-width="0.12">diffusion</text><text x="632.8" y="938.3" font-size="9.7" textLength="42.4" stroke-width="0.12">algorithm</text><text x="701.3" y="934.5" font-size="8.35" textLength="29.6" stroke-width="0.10">internet</text><text x="788.8" y="941.8" font-size="7.75" textLength="44.4" stroke-width="0.09">newsvendor</text><text x="512.7" y="948" font-size="10.51" textLength="84.5" stroke-width="0.13">decision analysis</text><text x="641.2" y="954.2" font-size="9.23" textLength="108.1" stroke-width="0.11">markov decision process</text><text x="717.3" y="961.5" font-size="8.24" textLength="37" stroke-width="0.10">optimality</text><text x="754.3" y="962.1" font-size="9.55" textLength="22" stroke-width="0.11">retail</text><text x="803.8" y="967.5" font-size="8.13" textLength="36" stroke-width="0.10">lost sales</text><text x="524.9" y="966.5" font-size="10.24" textLength="49" stroke-width="0.12">simulation</text><text x="459.6" y="977.4" font-size="19.87" textLength="54.1" stroke-width="0.24">policy</text><text x="682.7" y="975" font-size="9.7" textLength="75.7" stroke-width="0.12">inventory control</text><text x="592.4" y="979.5" font-size="13.33" textLength="75.7" stroke-width="0.16">optimization</text><text x="703.9" y="1003.9" font-size="12.82" textLength="159.2" stroke-width="0.15">supply chain management</text><text x="474.5" y="1008.9" font-size="12.52" textLength="24.4" stroke-width="0.15">cost</text><text x="595.6" y="1013.5" font-size="10.12" textLength="55.7" stroke-width="0.12">timequeues</text><text x="533.7" y="1021.1" font-size="14.74" textLength="49.6" stroke-width="0.18">system</text><text x="596.8" y="1029.6" font-size="10.35" textLength="32.4" stroke-width="0.12">design</text><text x="657.6" y="1028" font-size="11.44" textLength="67.7" stroke-width="0.14">supply chain</text><text x="725.9" y="1034.6" font-size="10.29" textLength="59.7" stroke-width="0.12">coordination</text><text x="495.5" y="1038.2" font-size="8.05" textLength="17.6" stroke-width="0.10">yield</text><text x="659.2" y="1052.9" font-size="9.1" textLength="34.4" stroke-width="0.11">logistics</text><text x="717.7" y="1057.3" font-size="13.91" textLength="60.1" stroke-width="0.17">inventory</text><text x="789.8" y="1056.1" font-size="7.95" textLength="46" stroke-width="0.10">value-at-risk</text><text x="457.6" y="1059.4" font-size="8.87" textLength="44" stroke-width="0.11">integration</text><text x="522.5" y="1059.5" font-size="7.73" textLength="27.4" stroke-width="0.09">storage</text><text x="553.7" y="1076.3" font-size="8.28" textLength="72.5" stroke-width="0.10">sensitivity analysis</text><text x="730.9" y="1076.2" font-size="8.15" textLength="54.5" stroke-width="0.10">replenishment</text><text x="632.6" y="1081.1" font-size="7.89" textLength="41" stroke-width="0.09">warehouse</text><text x="471.5" y="1084.2" font-size="9.41" textLength="40" stroke-width="0.11">networks</text><text x="704.3" y="1090.7" font-size="9.65" textLength="72.5" stroke-width="0.12">inventory model</text><text x="537.7" y="1092" font-size="8.12" textLength="21.6" stroke-width="0.10">game</text><text x="472.3" y="1098.6" font-size="8.51" textLength="69.5" stroke-width="0.10">risk management</text><text x="571.6" y="1099.5" font-size="7.78" textLength="17" stroke-width="0.09">level</text><text x="791.8" y="1097.9" font-size="7.78" textLength="21.6" stroke-width="0.09">single</text><text x="629.2" y="1109.7" font-size="8.33" textLength="31" stroke-width="0.10">quantity</text><text x="740.5" y="1118.7" font-size="8.32" textLength="28" stroke-width="0.10">lot-size</text><text x="485.5" y="1125" font-size="7.2" textLength="13.6" stroke-width="0.09">size</text><text x="453.6" y="1130.4" font-size="7.9" textLength="42" stroke-width="0.09">vaccination</text><text x="597.2" y="1129.8" font-size="8.46" textLength="31" stroke-width="0.10">inflation</text><text x="681.7" y="1139.3" font-size="8.79" textLength="123.1" stroke-width="0.11">economic order quantit model</text><text x="421.2" y="1143.4" font-size="8.66" textLength="49.6" stroke-width="0.10">temperature</text><text x="483.7" y="1146.3" font-size="8.25" textLength="38" stroke-width="0.10">sensitivity</text><text x="95" y="1160.5" font-size="8.1" textLength="67" stroke-width="0.10">common property</text><text x="171.5" y="1163.2" font-size="9.07" textLength="37" stroke-width="0.11">irrigation</text><text x="260.7" y="1160.2" font-size="8.46" textLength="18" stroke-width="0.10">area</text><text x="343.6" y="1160.3" font-size="8.32" textLength="30" stroke-width="0.10">drought</text><text x="302.1" y="1166.9" font-size="8.17" textLength="28" stroke-width="0.10">context</text><text x="126.6" y="1176.3" font-size="8.17" textLength="74.4" stroke-width="0.10">institutional change</text><text x="403.6" y="1171.9" font-size="7.65" textLength="38" stroke-width="0.09">social cost</text><text x="210.1" y="1184" font-size="8.68" textLength="40" stroke-width="0.10">commons</text><text x="283.1" y="1179.6" font-size="8.61" textLength="78.4" stroke-width="0.10">economic valuation</text><text x="261.5" y="1197.8" font-size="7.95" textLength="37.6" stroke-width="0.10">recreation</text><text x="303.1" y="1194.9" font-size="8.07" textLength="39.6" stroke-width="0.10">river basin</text><text x="385.6" y="1196.1" font-size="7.59" textLength="22" stroke-width="0.09">ocean</text><text x="245.7" y="1213.1" font-size="8.1" textLength="45" stroke-width="0.10">phosphorus</text><text x="357.8" y="1213.5" font-size="8.08" textLength="34.4" stroke-width="0.10">flood risk</text><text x="300.1" y="1218.8" font-size="8.46" textLength="14" stroke-width="0.10">fish</text><text x="283.5" y="1231.9" font-size="8.03" textLength="47" stroke-width="0.10">preservation</text><text x="668.7" y="1156" font-size="7.91" textLength="65" stroke-width="0.09">permissible delay</text><text x="756.6" y="1154.6" font-size="7.87" textLength="51.6" stroke-width="0.09">lot-size model</text><text x="753.2" y="1169.8" font-size="7.82" textLength="37" stroke-width="0.09">purchaser</text><text x="451" y="1166.1" font-size="8.28" textLength="50.4" stroke-width="0.10">opportunities</text><text x="442.4" y="1215.1" font-size="7.65" textLength="29.4" stroke-width="0.09">damage</text></g></g><g id="pd"><g fill="none" stroke-opacity="0.45"><path d="M1346 669Q1287 796 1357 918M1483 744Q1322 910 1417 1120M1274 794Q1323 804 1368 783M1314 806Q1334 779 1368 783M1513 828Q1426 934 1292 967M1285 827Q1281 963 1405 1018M1367 838Q1350 819 1350 793M1504 846Q1514 903 1474 944M1247 848Q1224 891 1238 938M1247 848Q1296 921 1383 930M1386 865Q1365 966 1273 1014M1386 865Q1287 923 1258 1035M1440 869Q1605 792 1757 892M1505 868Q1483 836 1445 826M1610 821Q1721 877 1745 999M1322 895Q1319 961 1359 1014M1428 907Q1379 955 1405 1018M1342 915Q1345 894 1364 884M1265 922Q1203 829 1228 720M1346 928Q1389 861 1368 783M1365 939Q1273 889 1242 789M1474 944Q1419 958 1386 913M1268 945Q1274 994 1245 1034M1452 955Q1407 928 1410 875M1303 959Q1260 963 1246 1004M1496 979Q1421 971 1394 901M1496 979Q1386 946 1315 856M1305 980Q1305 1024 1341 1047M1393 989Q1352 1014 1308 993M1452 998Q1379 1031 1308 993M1402 1000Q1341 997 1310 1049M1402 1000Q1389 1001 1384 1012M1384 1012Q1404 1000 1427 1003M1326 1026Q1470 1044 1546 921M1245 1034Q1218 1017 1210 987M1360 1037Q1337 960 1364 884M1326 1051Q1293 946 1378 875M1327 1066Q1314 1020 1348 985M1259 1070Q1355 1067 1427 1003M1335 1077Q1395 1061 1402 1000M1412 1095Q1472 958 1621 967M1598 879Q1572 785 1483 744M1546 921Q1416 940 1315 856M1804 1003Q1812 978 1838 973M1390 1142Q1384 1063 1312 1030" stroke="#66c6b6" stroke-width="0.8"/><path d="M1209 745Q1178 899 1258 1035M1288 760Q1391 883 1546 921M1350 793Q1348 833 1315 856M1404 812Q1360 792 1314 806M1404 812Q1287 881 1255 1013M1409 847Q1361 838 1315 856M1207 859Q1254 915 1327 915M1669 857Q1549 1044 1326 1051M1364 884Q1363 936 1409 960M1342 915Q1267 951 1258 1035M1357 918Q1343 911 1327 915M1413 919Q1379 899 1342 915M1365 939Q1349 1034 1259 1070M1365 939Q1337 966 1346 1004M1365 939Q1285 969 1213 924M1458 935Q1397 899 1327 915M1474 944Q1519 983 1577 967M1496 979Q1423 1046 1326 1026M1496 979Q1598 992 1676 924M1496 979Q1355 1042 1210 987M1496 979Q1558 1058 1658 1047M1496 979Q1306 1031 1157 903M1318 983Q1299 1000 1273 998M1359 1014Q1433 1006 1474 944M1267 1022Q1264 1014 1255 1013M1385 1030Q1357 989 1365 939M1326 1051Q1323 1103 1369 1127M1326 1051Q1484 1036 1601 930M1327 1066Q1482 1062 1546 921M1745 913Q1691 916 1664 963M1546 921Q1571 939 1601 930M1601 930Q1610 904 1598 879M1601 930Q1654 923 1691 960M1601 930Q1521 886 1502 797M1552 963Q1472 977 1413 919" stroke="#66c6b6" stroke-width="1.1"/><path d="M1434 724Q1556 796 1601 930M1222 740Q1219 914 1326 1051M1316 752Q1259 854 1292 967M1315 856Q1304 889 1327 915M1386 865Q1296 939 1326 1051M1610 821Q1585 874 1601 930M1327 915Q1396 937 1427 1003M1365 939Q1332 808 1228 720M1365 939Q1325 996 1327 1066M1452 955Q1506 958 1546 921M1420 967Q1461 949 1496 979M1496 979Q1439 1014 1384 975M1496 979Q1527 969 1544 940M1402 1000Q1357 969 1342 915M1326 1051Q1283 983 1327 915M1327 1066Q1331 1033 1359 1014M1546 921Q1472 1066 1310 1049M1633 947Q1634 896 1669 857M1664 963Q1584 1013 1496 979" stroke="#66c6b6" stroke-width="1.4"/><path d="M1378 738Q1337 825 1241 818M1483 744Q1396 756 1367 838M1483 744Q1395 778 1395 872M1241 818Q1263 800 1290 807M1351 875Q1310 853 1314 806M1656 860Q1729 893 1785 837M1597 875Q1588 895 1566 899M1365 939Q1355 1005 1401 1052M1474 944Q1659 980 1758 819M1409 960Q1410 931 1428 907M1419 990Q1468 985 1504 950M1465 998Q1501 907 1598 895M1384 1012Q1319 980 1255 1013M1235 1017Q1297 943 1265 852M1258 1035Q1248 968 1281 910M1718 885Q1686 830 1621 834M1601 930Q1512 986 1409 960M1665 948Q1724 864 1672 775M1744 973Q1649 888 1521 879M1744 973Q1678 967 1641 1023M1813 980Q1832 980 1840 998M1642 1011Q1686 984 1692 933" stroke="#74b2cf" stroke-width="0.8"/><path d="M1451 792Q1343 900 1326 1051M1610 821Q1622 903 1560 958M1646 842Q1561 1060 1327 1066M1669 857Q1665 900 1692 933M1713 859Q1680 931 1601 930M1259 897Q1266 890 1275 892M1292 967Q1333 908 1323 837M1177 1000Q1212 854 1350 793M1598 895Q1625 926 1621 967M1676 908Q1643 933 1601 930M1694 914Q1630 887 1610 821M1546 921Q1561 914 1566 899M1546 921Q1671 910 1758 819M1676 924Q1613 851 1521 879M1676 924Q1650 879 1597 875M1601 930Q1518 888 1428 907M1601 930Q1708 915 1758 819M1692 933Q1587 919 1516 841M1633 947Q1572 995 1496 979M1665 948Q1649 957 1633 947M1791 949Q1750 891 1758 819M1552 963Q1435 904 1305 920M1531 968Q1579 941 1633 947M1744 973Q1756 943 1745 913M1557 1031Q1573 973 1546 921" stroke="#74b2cf" stroke-width="1.1"/><path d="M1483 744Q1443 842 1474 944M1516 841Q1549 874 1546 921M1365 939Q1576 1040 1791 949M1474 944Q1477 955 1469 962M1496 979Q1561 1006 1621 967M1496 979Q1496 873 1414 805M1496 979Q1521 960 1552 963M1307 1077Q1492 1080 1601 930M1546 921Q1541 943 1552 963M1546 921Q1453 901 1365 939M1601 930Q1517 842 1404 889M1560 958Q1505 989 1452 955M1621 967Q1670 959 1694 914" stroke="#74b2cf" stroke-width="1.4"/><path d="M1346 746Q1378 877 1308 993M1218 853Q1255 786 1332 778M1748 806Q1811 842 1840 908M1612 867Q1638 918 1692 933M1318 983Q1398 872 1346 746M1312 1030Q1289 949 1315 869M1616 884Q1524 892 1496 979M1745 913Q1785 947 1774 998M1852 922Q1689 1048 1496 979M1676 924Q1692 919 1707 927M1791 949Q1652 930 1586 805M1649 979Q1589 947 1598 879M1863 1019Q1838 1086 1766 1086M1754 1037Q1813 1053 1863 1019" stroke="#9397da" stroke-width="0.8"/><path d="M1835 885Q1701 986 1546 921M1546 921Q1713 859 1854 967M1791 949Q1812 993 1789 1037M1804 1003Q1629 1028 1474 944" stroke="#9397da" stroke-width="1.1"/><path d="M1767 921Q1769 970 1804 1003" stroke="#9397da" stroke-width="1.4"/><path d="M1307 682Q1638 715 1804 1003M1452 684Q1640 720 1676 908M1222 740Q1316 908 1504 950M1209 745Q1168 814 1187 892M1209 745Q1215 880 1305 980M1314 806Q1347 812 1367 838M1314 806Q1364 723 1452 684M1177 825Q1222 921 1327 915M1328 824Q1318 818 1314 806M1409 847Q1316 928 1326 1051M1247 848Q1257 846 1265 852M1459 855Q1415 854 1387 822M1290 863Q1295 914 1331 949M1247 872Q1227 847 1241 818M1714 802Q1830 909 1799 1064M1690 827Q1622 781 1546 814M1187 892Q1264 964 1365 939M1275 892Q1318 993 1427 1003M1348 902Q1453 885 1544 940M1450 898Q1499 1004 1425 1095M1493 886Q1431 901 1409 960M1327 915Q1336 1048 1461 1092M1357 918Q1317 932 1292 967M1413 919Q1448 1005 1388 1074M1163 934Q1185 944 1186 969M1239 927Q1258 870 1315 856M1238 938Q1251 873 1315 856M1348 942Q1300 876 1306 793M1283 948Q1406 909 1424 782M1330 966Q1350 893 1409 847M1496 979Q1470 975 1452 955M1210 987Q1237 872 1330 799M1313 1010Q1316 1047 1347 1066M1421 1018Q1430 1063 1392 1089M1267 1022Q1303 993 1313 948M1294 1031Q1262 1060 1222 1042M1371 1048Q1376 1018 1402 1000M1297 1048Q1277 1042 1267 1022M1310 1049Q1324 1091 1362 1114M1326 1051Q1345 1056 1357 1070M1341 1047Q1375 1019 1384 975M1180 1057Q1251 1031 1292 967M1425 1058Q1393 971 1450 898M1327 1066Q1299 1112 1248 1129M1347 1066Q1339 993 1289 938M1347 1066Q1364 1043 1359 1014M1508 1075Q1684 987 1692 790M1362 1087Q1302 1077 1258 1035M1392 1089Q1409 1058 1385 1030M1759 907Q1674 955 1598 895M1840 908Q1759 828 1646 842M1544 940Q1420 810 1241 818M1544 940Q1528 913 1533 882M1676 924Q1640 939 1601 930M1692 933Q1700 907 1726 900M1820 943Q1758 988 1682 976M1633 947Q1596 951 1582 986M1744 973Q1812 919 1785 837M1813 980Q1827 982 1838 973M1634 982Q1605 1021 1557 1031M1549 990Q1471 937 1384 975M1528 1092Q1685 1075 1797 965M1347 1107Q1344 1025 1419 990" stroke="#66c6b6" stroke-width="0.8"/><path d="M1316 752Q1230 870 1255 1013M1316 752Q1309 797 1341 829M1445 826Q1512 889 1496 979M1504 846Q1465 938 1365 939M1459 855Q1403 798 1434 724M1744 836Q1726 886 1676 908M1669 857Q1662 843 1646 842M1428 907Q1417 940 1431 972M1327 915Q1340 959 1308 993M1327 915Q1485 810 1669 857M1342 915Q1373 847 1445 826M1365 939Q1342 935 1327 915M1474 944Q1541 974 1601 930M1474 944Q1443 943 1431 972M1474 944Q1641 935 1748 806M1292 967Q1295 1015 1338 1038M1496 979Q1431 1046 1338 1038M1496 979Q1498 1023 1461 1047M1308 993Q1301 1034 1327 1066M1427 1003Q1455 988 1452 955M1359 1014Q1509 1016 1570 880M1405 1018Q1366 989 1365 939M1421 1018Q1419 1009 1427 1003M1326 1051Q1318 1056 1310 1049M1326 1051Q1312 1015 1273 1014M1544 940Q1512 992 1452 998M1546 921Q1430 1032 1273 998M1546 921Q1694 969 1800 854M1601 930Q1681 818 1816 849M1601 930Q1669 937 1726 900M1601 930Q1575 947 1544 940M1638 938Q1618 941 1601 930M1577 967Q1627 983 1665 948M1664 963Q1503 937 1359 1014M1744 973Q1764 1008 1804 1003" stroke="#66c6b6" stroke-width="1.1"/><path d="M1274 794Q1265 870 1327 915M1686 866Q1623 870 1601 930M1474 944Q1517 955 1546 921M1474 944Q1443 935 1428 907M1474 944Q1492 957 1496 979M1474 944Q1509 914 1505 868M1452 955Q1377 973 1327 915M1292 967Q1386 983 1474 944M1496 979Q1525 970 1549 990M1308 993Q1324 953 1365 939M1544 940Q1591 914 1633 947M1546 921Q1448 913 1402 1000M1546 921Q1433 1055 1258 1035M1546 921Q1615 915 1664 963M1791 949Q1775 975 1744 973M1621 967Q1637 957 1638 938M1549 990Q1589 990 1621 967M1804 1003Q1641 797 1386 865M1544 1007Q1563 964 1546 921" stroke="#66c6b6" stroke-width="1.4"/><path d="M1443 662Q1394 718 1390 792M1251 713Q1242 724 1228 720M1228 720Q1136 848 1210 987M1378 738Q1468 761 1516 841M1398 773Q1328 832 1357 918M1424 782Q1310 802 1228 720M1330 799Q1401 724 1500 753M1381 805Q1368 793 1350 793M1285 827Q1342 894 1428 907M1367 838Q1413 805 1418 748M1337 842Q1368 824 1403 830M1395 872Q1362 948 1405 1018M1378 875Q1325 930 1346 1004M1589 819Q1622 853 1669 857M1758 819Q1701 809 1669 857M1404 889Q1326 804 1215 835M1275 892Q1221 863 1219 802M1238 938Q1228 854 1302 813M1365 939Q1405 940 1428 907M1474 944Q1388 880 1398 773M1419 990Q1372 983 1348 942M1223 1000Q1407 1052 1546 921M1384 1012Q1345 901 1414 805M1245 1090Q1318 1053 1392 1089M1521 879Q1656 778 1814 838M1566 899Q1494 860 1428 907M1546 921Q1420 820 1275 892M1791 949Q1665 777 1451 772M1704 950Q1684 944 1676 924M1764 987Q1674 955 1656 860M1804 1003Q1800 905 1713 859M1683 1022Q1634 1001 1633 947M1557 1031Q1575 995 1560 958M1235 1102Q1261 1111 1287 1102M1861 869Q1839 899 1803 909" stroke="#74b2cf" stroke-width="0.8"/><path d="M1483 744Q1476 774 1451 792M1404 812Q1578 797 1665 948M1387 822Q1338 858 1285 827M1265 852Q1256 785 1316 752M1404 889Q1338 894 1304 836M1340 895Q1459 997 1601 930M1428 907Q1474 964 1544 940M1469 962Q1390 981 1342 915M1521 879Q1553 918 1601 930M1676 908Q1581 962 1474 944M1676 908Q1693 915 1692 933M1546 921Q1629 926 1686 866M1601 930Q1613 948 1633 947M1601 930Q1594 872 1646 842M1601 930Q1724 921 1780 1030M1791 949Q1693 974 1601 930M1791 949Q1678 1005 1560 958M1560 958Q1558 944 1544 940M1552 963Q1586 976 1621 967M1621 967Q1517 1066 1384 1012M1804 1003Q1777 924 1694 914M1766 1086Q1696 961 1552 963" stroke="#74b2cf" stroke-width="1.1"/><path d="M1350 793Q1329 869 1365 939M1350 793Q1534 817 1665 948M1474 944Q1487 954 1504 950M1496 979Q1532 914 1516 841M1421 1018Q1500 992 1546 921M1327 1066Q1359 941 1265 852M1546 921Q1498 925 1469 962M1546 921Q1454 1006 1329 991M1601 930Q1639 918 1665 948M1633 947Q1529 803 1350 793M1665 948Q1718 919 1713 859M1791 949Q1675 1000 1552 963M1621 967Q1543 980 1474 944M1621 967Q1594 824 1451 792M1804 1003Q1730 941 1633 947" stroke="#74b2cf" stroke-width="1.4"/><path d="M1455 703Q1351 798 1365 939M1287 746Q1323 741 1349 765M1316 752Q1249 735 1191 775M1574 774Q1529 785 1513 828M1643 823Q1651 832 1646 842M1404 889Q1257 903 1208 1042M1480 899Q1408 907 1384 975M1369 1007Q1470 1023 1562 979M1255 1013Q1581 1019 1836 817M1208 1042Q1292 1048 1348 985M1566 899Q1596 906 1616 884M1601 930Q1576 1009 1496 1033M1843 959Q1819 868 1748 806M1789 1037Q1805 1024 1804 1003M1878 1045Q1813 1017 1791 949M1861 869Q1858 893 1840 908M1861 869Q1868 938 1813 980" stroke="#9397da" stroke-width="0.8"/><path d="M1440 869Q1385 861 1340 895M1440 869Q1418 872 1404 889M1327 915Q1322 960 1282 982M1327 915Q1367 999 1451 1039M1422 1031Q1414 1000 1431 972M1804 1003Q1848 974 1852 922M1804 1003Q1770 934 1692 933M1578 1014Q1561 964 1601 930" stroke="#9397da" stroke-width="1.1"/><path d="M1365 939Q1392 892 1440 869" stroke="#9397da" stroke-width="1.4"/><path d="M1268 692Q1368 743 1409 847M1319 729Q1310 739 1316 752M1316 752Q1314 778 1330 799M1451 772Q1431 784 1431 807M1290 807Q1354 781 1403 830M1516 841Q1434 895 1350 844M1315 856Q1347 969 1293 1072M1315 856Q1318 803 1368 783M1559 768Q1460 747 1403 830M1789 823Q1807 842 1803 868M1646 842Q1682 916 1634 982M1275 892Q1278 948 1330 966M1241 898Q1263 840 1314 806M1295 897Q1305 974 1258 1035M1327 915Q1302 864 1247 848M1327 915Q1344 924 1348 942M1279 924Q1255 971 1267 1022M1365 939Q1287 886 1306 793M1261 961Q1256 1014 1297 1048M1409 960Q1405 894 1459 855M1420 967Q1478 932 1505 868M1363 986Q1340 999 1318 983M1273 998Q1267 1009 1255 1013M1402 1000Q1346 1108 1227 1132M1313 1010Q1304 1056 1332 1093M1255 1013Q1286 990 1323 1004M1267 1022Q1300 1028 1323 1004M1371 1048Q1396 1042 1405 1018M1310 1049Q1273 1063 1245 1034M1310 1049Q1242 1014 1238 938M1436 1050Q1446 1034 1464 1029M1726 900Q1746 966 1804 1003M1665 948Q1685 910 1657 878M1791 949Q1612 833 1423 932M1691 960Q1626 979 1560 958M1621 967Q1663 998 1713 985M1621 967Q1757 972 1816 849M1838 973Q1797 914 1726 900M1559 1045Q1410 991 1367 838M1287 1102Q1326 1036 1292 967M1332 1159Q1323 1017 1452 955M1444 1161Q1396 1167 1369 1127M1861 869Q1873 875 1875 889" stroke="#66c6b6" stroke-width="0.8"/><path d="M1228 720Q1285 759 1285 827M1316 752Q1380 751 1414 805M1451 792Q1513 861 1474 944M1285 827Q1251 899 1292 967M1478 850Q1453 896 1474 944M1795 811Q1755 942 1621 967M1669 857Q1625 927 1544 940M1364 884Q1380 915 1413 919M1404 889Q1379 909 1348 902M1327 915Q1361 951 1409 960M1327 915Q1299 847 1350 793M1305 920Q1335 876 1386 865M1365 939Q1298 996 1210 987M1365 939Q1469 1039 1613 1034M1474 944Q1382 1035 1255 1013M1313 948Q1462 1032 1621 967M1431 972Q1508 916 1601 930M1496 979Q1382 1044 1255 1013M1496 979Q1557 883 1669 857M1496 979Q1464 1038 1508 1089M1496 979Q1511 1006 1496 1033M1308 993Q1353 1021 1405 1018M1258 1035Q1378 1051 1452 955M1326 1051Q1257 1014 1238 938M1326 1051Q1311 938 1367 838M1341 1047Q1344 1027 1359 1014M1327 1066Q1204 999 1207 859M1570 880Q1610 915 1621 967M1767 921Q1767 952 1744 973M1546 921Q1602 830 1709 823M1546 921Q1445 979 1330 966M1546 921Q1455 926 1409 847M1676 924Q1767 920 1804 1003M1676 924Q1613 954 1544 940M1601 930Q1615 941 1630 931M1601 930Q1693 923 1726 838M1601 930Q1682 903 1709 823M1601 930Q1519 833 1393 857M1638 938Q1718 891 1791 949M1560 958Q1418 1043 1255 1013M1691 960Q1674 963 1665 948M1682 976Q1692 931 1726 900M1813 980Q1831 902 1785 837M1745 999Q1776 986 1804 1003" stroke="#66c6b6" stroke-width="1.1"/><path d="M1314 806Q1249 932 1326 1051M1403 830Q1537 811 1601 930M1281 840Q1280 833 1285 827M1247 848Q1283 837 1315 856M1785 837Q1684 931 1546 921M1669 857Q1653 910 1601 930M1364 884Q1382 911 1365 939M1439 913Q1523 894 1601 930M1365 939Q1406 961 1452 955M1365 939Q1606 829 1804 1003M1268 945Q1318 958 1365 939M1318 983Q1335 913 1404 889M1210 987Q1206 844 1316 752M1273 1014Q1458 1055 1601 930M1359 1014Q1531 1079 1682 976M1326 1051Q1337 1028 1359 1014M1341 1047Q1437 1054 1496 979M1544 940Q1562 881 1516 841M1546 921Q1463 871 1371 899M1601 930Q1456 1025 1292 967M1744 973Q1579 1053 1402 1000" stroke="#66c6b6" stroke-width="1.4"/><path d="M1390 704Q1350 841 1458 935M1434 724Q1497 767 1516 841M1517 794Q1535 817 1528 845M1304 836Q1266 849 1241 818M1304 836Q1273 829 1247 848M1265 852Q1301 828 1336 852M1336 852Q1368 847 1387 822M1505 868Q1439 913 1419 990M1621 834Q1560 832 1521 879M1646 842Q1566 918 1458 935M1656 860Q1773 871 1813 980M1413 919Q1408 936 1421 948M1346 928Q1351 887 1386 865M1496 1082Q1409 1107 1327 1066M1521 879Q1628 933 1745 913M1657 878Q1735 854 1786 917M1684 880Q1703 904 1692 933M1676 924Q1732 936 1780 905M1633 947Q1709 980 1767 921M1665 948Q1693 919 1684 880M1665 948Q1636 911 1591 923M1552 963Q1694 947 1758 819M1621 967Q1606 985 1608 1007M1804 1003Q1775 958 1780 905M1641 1023Q1642 991 1621 967M1749 1081Q1719 951 1598 895" stroke="#74b2cf" stroke-width="0.8"/><path d="M1350 793Q1372 848 1348 902M1285 827Q1292 838 1304 836M1546 814Q1629 868 1621 967M1713 859Q1754 909 1744 973M1404 889Q1361 900 1348 942M1447 930Q1455 946 1474 944M1474 944Q1463 880 1516 841M1504 950Q1436 1037 1326 1051M1469 962Q1628 901 1791 949M1273 1014Q1261 1021 1258 1035M1326 1051Q1231 926 1277 776M1307 1077Q1312 1061 1326 1051M1598 895Q1502 1025 1341 1047M1598 895Q1675 881 1745 913M1546 921Q1612 885 1676 924M1546 921Q1564 891 1598 895M1546 921Q1596 912 1633 947M1601 930Q1586 952 1560 958M1601 930Q1613 902 1597 875M1601 930Q1608 912 1598 895M1692 933Q1527 826 1365 939M1633 947Q1706 943 1764 987M1665 948Q1683 947 1692 933M1791 949Q1712 1015 1621 967M1552 963Q1530 948 1504 950M1804 1003Q1780 980 1791 949" stroke="#74b2cf" stroke-width="1.1"/><path d="M1350 793Q1349 823 1323 837M1451 792Q1493 805 1516 841M1414 805Q1502 838 1546 921M1516 841Q1449 762 1350 793M1365 939Q1481 820 1646 842M1474 944Q1463 944 1458 935M1474 944Q1568 1006 1665 948M1676 908Q1669 956 1621 967M1546 921Q1598 921 1621 967M1546 921Q1546 893 1521 879M1546 921Q1426 1015 1273 1014M1621 967Q1719 940 1813 980" stroke="#74b2cf" stroke-width="1.4"/><path d="M1357 746Q1339 823 1265 852M1387 767Q1394 828 1440 869M1814 838Q1866 878 1850 941M1787 858Q1811 903 1791 949M1359 1014Q1469 1078 1578 1014M1157 1032Q1222 1155 1361 1145M1496 1033Q1524 1055 1559 1045M1676 908Q1754 954 1789 1037M1890 915Q1822 950 1759 907M1546 921Q1573 851 1643 823M1806 925Q1794 944 1797 965M1601 930Q1714 932 1754 1037M1850 941Q1804 901 1745 913M1745 999Q1744 954 1707 927M1804 1003Q1786 957 1816 916M1839 1117Q1857 1050 1804 1003" stroke="#9397da" stroke-width="0.8"/><path d="M1197 871Q1292 890 1318 983M1327 915Q1279 964 1294 1031M1633 947Q1695 1084 1843 1101" stroke="#9397da" stroke-width="1.1"/><path d="M1756 955Q1645 976 1546 921" stroke="#9397da" stroke-width="1.4"/><path d="M1258 732Q1351 903 1546 921M1483 744Q1466 731 1447 738M1350 793Q1275 856 1254 952M1427 827Q1429 784 1466 762M1281 840Q1372 820 1459 855M1393 857Q1411 822 1446 804M1505 868Q1568 914 1549 990M1663 821Q1658 835 1646 842M1785 837Q1842 842 1875 889M1207 885Q1254 844 1315 856M1275 892Q1303 920 1342 915M1371 899Q1379 921 1365 939M1348 902Q1337 922 1348 942M1316 927Q1351 886 1404 889M1383 930Q1380 868 1427 827M1395 948Q1427 877 1505 868M1201 960Q1205 1028 1269 1050M1431 972Q1394 1066 1293 1072M1496 979Q1597 1007 1691 960M1348 985Q1361 942 1405 932M1255 1013Q1274 975 1316 971M1421 1018Q1399 927 1459 855M1199 1026Q1332 1051 1421 948M1360 1037Q1476 1037 1560 958M1338 1038Q1450 982 1559 1045M1338 1038Q1359 1127 1444 1161M1338 1038Q1338 1088 1369 1127M1310 1049Q1465 965 1624 1039M1327 1066Q1288 1090 1274 1134M1533 882Q1476 851 1451 792M1726 900Q1564 948 1410 875M1676 908Q1570 1027 1411 1009M1601 930Q1577 892 1533 882M1601 930Q1482 986 1430 1107M1665 948Q1659 973 1634 982M1865 957Q1810 1005 1744 973M1577 967Q1524 896 1440 869M1621 967Q1523 1021 1411 1009M1791 986Q1812 897 1744 836M1624 1039Q1677 956 1669 857M1658 1047Q1656 999 1621 967M1257 1110Q1281 1097 1293 1072M1313 1118Q1275 1022 1316 927M1369 1127Q1347 1073 1385 1030" stroke="#66c6b6" stroke-width="0.8"/><path d="M1285 827Q1291 851 1315 856M1403 830Q1365 915 1402 1000M1459 855Q1542 871 1601 930M1386 865Q1406 931 1474 944M1410 875Q1433 943 1504 950M1669 857Q1628 928 1546 921M1327 915Q1375 929 1404 889M1327 915Q1461 985 1601 930M1327 915Q1371 991 1327 1066M1342 915Q1364 825 1451 792M1365 939Q1485 987 1601 930M1365 939Q1309 929 1261 961M1431 972Q1371 959 1348 902M1431 972Q1489 930 1552 963M1496 979Q1616 1042 1745 999M1496 979Q1448 1122 1300 1150M1496 979Q1373 957 1290 863M1318 983Q1327 945 1365 939M1308 993Q1270 998 1258 1035M1255 1013Q1261 1023 1258 1035M1359 1014Q1407 1013 1431 972M1421 1018Q1342 1056 1258 1035M1326 1051Q1326 1015 1348 985M1326 1051Q1324 1059 1327 1066M1326 1051Q1307 1026 1308 993M1327 1066Q1309 1061 1293 1072M1570 880Q1551 896 1546 921M1665 892Q1592 769 1451 792M1546 921Q1596 979 1559 1045M1546 921Q1600 885 1610 821M1546 921Q1563 867 1546 814M1601 930Q1479 901 1402 1000M1791 949Q1806 876 1744 836M1797 965Q1743 1008 1682 976M1621 967Q1685 914 1767 921M1621 967Q1676 1010 1745 999M1621 967Q1654 1013 1709 1006M1745 999Q1661 920 1546 921" stroke="#66c6b6" stroke-width="1.1"/><path d="M1314 806Q1455 814 1546 921M1744 836Q1646 953 1496 979M1413 919Q1438 946 1474 944M1305 920Q1329 950 1365 939M1365 939Q1339 975 1359 1014M1474 944Q1436 992 1461 1047M1474 944Q1425 1034 1327 1066M1496 979Q1563 985 1601 930M1308 993Q1465 1007 1601 930M1258 1035Q1329 996 1327 915M1326 1051Q1545 1109 1676 924M1546 921Q1435 976 1327 915M1546 921Q1456 1020 1326 1051M1546 921Q1457 801 1316 752M1546 921Q1411 906 1308 993M1601 930Q1689 1004 1804 1003M1601 930Q1632 945 1664 934M1665 948Q1696 987 1744 973M1621 967Q1486 1015 1365 939M1621 967Q1650 986 1682 976M1682 976Q1628 915 1546 921" stroke="#66c6b6" stroke-width="1.4"/><path d="M1462 734Q1403 812 1428 907M1209 745Q1302 715 1393 749M1483 744Q1485 719 1505 702M1500 753Q1436 773 1378 738M1466 762Q1411 825 1428 907M1277 776Q1263 809 1281 840M1350 793Q1309 786 1300 745M1485 788Q1467 809 1479 833M1451 792Q1428 828 1440 869M1274 794Q1282 821 1304 836M1290 807Q1342 796 1387 822M1304 836Q1299 825 1302 813M1315 856Q1345 924 1409 960M1505 868Q1502 921 1469 962M1571 789Q1688 769 1785 837M1740 851Q1718 873 1686 866M1713 859Q1675 868 1646 842M1743 865Q1744 858 1740 851M1428 907Q1434 945 1469 962M1342 915Q1319 880 1337 842M1210 941Q1307 921 1341 829M1458 935Q1504 929 1531 968M1421 948Q1322 911 1314 806M1421 948Q1465 839 1571 789M1504 950Q1478 950 1458 935M1344 954Q1332 979 1346 1004M1452 955Q1367 935 1336 852M1292 967Q1268 985 1273 1014M1566 899Q1604 816 1692 790M1786 917Q1773 965 1804 1003M1676 924Q1770 943 1829 1019M1664 934Q1619 974 1560 958M1633 947Q1505 972 1404 889M1819 967Q1771 925 1707 927M1840 998Q1807 939 1745 913M1641 1023Q1653 948 1598 895M1725 1096Q1663 1050 1682 976" stroke="#74b2cf" stroke-width="0.8"/><path d="M1451 792Q1427 824 1387 822M1479 833Q1497 890 1474 944M1323 837Q1300 796 1316 752M1549 774Q1468 840 1474 944M1646 842Q1655 897 1633 947M1404 889Q1329 888 1285 827M1394 901Q1308 930 1273 1014M1342 915Q1429 906 1504 950M1346 1004Q1356 1005 1359 1014M1384 1012Q1359 982 1318 983M1461 1047Q1462 956 1546 921M1310 1049Q1522 1052 1676 908M1326 1051Q1418 996 1404 889M1598 895Q1569 921 1560 958M1694 914Q1537 1025 1365 939M1546 921Q1559 1031 1490 1119M1546 921Q1559 937 1560 958M1546 921Q1674 889 1791 949M1601 930Q1489 721 1251 713M1633 947Q1690 854 1800 854M1560 958Q1693 924 1804 1003M1621 967Q1668 987 1704 950M1621 967Q1672 925 1656 860" stroke="#74b2cf" stroke-width="1.1"/><path d="M1350 793Q1361 910 1474 944M1350 793Q1305 729 1228 720M1451 792Q1524 927 1676 908M1365 939Q1354 981 1384 1012M1504 950Q1544 842 1483 744M1469 962Q1646 906 1804 1003M1409 960Q1472 919 1546 921M1676 908Q1607 875 1546 921M1546 921Q1611 909 1656 860M1546 921Q1479 935 1452 998M1601 930Q1623 943 1621 967M1601 930Q1518 829 1387 822M1601 930Q1507 870 1395 872M1791 949Q1729 922 1665 948M1621 967Q1684 928 1713 859M1621 967Q1650 973 1665 948M1621 967Q1516 922 1409 960M1744 973Q1669 904 1566 899" stroke="#74b2cf" stroke-width="1.4"/><path d="M1332 778Q1273 766 1241 818M1341 829Q1297 833 1274 794M1304 836Q1280 845 1275 869M1275 869Q1266 834 1229 830M1795 811Q1789 866 1736 881M1816 849Q1851 888 1850 941M1474 944Q1382 1007 1280 961M1292 967Q1285 966 1280 961M1318 983Q1371 1045 1450 1064M1411 1009Q1355 959 1280 961M1451 1039Q1392 1026 1347 1066M1341 1047Q1296 1029 1282 982M1327 1066Q1272 1034 1208 1042M1452 1079Q1441 1008 1474 944M1816 916Q1803 977 1745 999M1707 927Q1581 1026 1421 1018M1227 1132Q1257 1090 1307 1077M1861 869Q1829 922 1767 921M1861 869Q1847 927 1791 949" stroke="#9397da" stroke-width="0.8"/><path d="M1820 943Q1759 895 1692 933M1804 1003Q1764 905 1669 857M1870 1011Q1841 968 1791 949" stroke="#9397da" stroke-width="1.1"/><path d="M1785 837Q1837 915 1804 1003" stroke="#9397da" stroke-width="1.4"/><path d="M1434 724Q1541 768 1570 880M1316 752Q1267 765 1222 740M1316 752Q1602 724 1744 973M1368 783Q1276 815 1209 745M1414 805Q1365 787 1328 824M1404 812Q1485 901 1601 930M1323 837Q1263 770 1287 683M1516 841Q1469 956 1348 985M1315 856Q1396 911 1427 1003M1207 859Q1236 945 1318 983M1378 875Q1334 952 1360 1037M1692 790Q1645 844 1676 908M1726 838Q1761 858 1800 854M1835 836Q1779 971 1634 982M1669 857Q1657 841 1663 821M1686 866Q1740 874 1767 921M1364 884Q1363 979 1297 1048M1404 889Q1320 960 1347 1066M1428 907Q1405 921 1408 946M1423 932Q1470 868 1451 792M1226 929Q1201 1035 1287 1102M1313 948Q1358 878 1440 869M1504 950Q1530 977 1526 1014M1452 955Q1369 933 1308 993M1157 964Q1175 892 1247 872M1261 961Q1259 990 1273 1014M1292 967Q1296 983 1308 993M1329 991Q1277 971 1255 919M1273 1014Q1329 938 1423 932M1405 1018Q1504 966 1516 855M1240 1045Q1394 988 1427 827M1310 1049Q1272 1101 1208 1093M1327 1066Q1278 1050 1273 998M1293 1072Q1310 1046 1341 1047M1546 921Q1477 948 1405 932M1676 924Q1685 879 1660 841M1692 933Q1636 922 1598 879M1560 958Q1439 1044 1305 980M1744 973Q1498 1103 1229 1029M1508 1089Q1413 1098 1338 1038M1223 1105Q1218 1051 1246 1004M1455 1110Q1400 1137 1347 1107" stroke="#66c6b6" stroke-width="0.8"/><path d="M1350 793Q1309 794 1285 827M1451 792Q1420 764 1434 724M1274 794Q1288 766 1316 752M1274 794Q1342 782 1404 812M1281 840Q1415 861 1483 744M1265 852Q1365 921 1338 1038M1315 856Q1218 886 1210 987M1386 865Q1332 858 1314 806M1327 915Q1343 847 1404 812M1386 913Q1385 933 1365 939M1474 944Q1580 986 1691 960M1421 948Q1374 967 1359 1014M1409 960Q1448 989 1496 979M1292 967Q1295 977 1305 980M1496 979Q1535 962 1546 921M1308 993Q1405 1031 1496 979M1323 1004Q1495 1067 1633 947M1427 1003Q1467 1007 1496 979M1255 1013Q1272 1047 1310 1049M1449 1030Q1468 949 1546 921M1326 1051Q1422 1028 1474 944M1327 1066Q1322 1031 1346 1004M1598 879Q1597 927 1560 958M1546 921Q1475 870 1394 901M1546 921Q1498 837 1404 812M1676 924Q1689 862 1656 807M1601 930Q1599 897 1570 880M1560 958Q1530 886 1459 855M1621 967Q1599 980 1577 967M1621 967Q1655 937 1665 892" stroke="#66c6b6" stroke-width="1.1"/><path d="M1515 740Q1613 810 1601 930M1350 793Q1337 812 1314 806M1285 827Q1261 828 1247 848M1285 827Q1383 965 1546 921M1285 827Q1304 822 1314 806M1315 856Q1368 881 1365 939M1342 915Q1403 953 1474 944M1238 938Q1355 985 1474 944M1365 939Q1294 906 1285 827M1496 979Q1621 1032 1744 973M1496 979Q1495 963 1504 950M1496 979Q1462 990 1431 972M1496 979Q1454 1011 1402 1000M1210 987Q1244 910 1327 915M1255 1013Q1415 917 1601 930M1310 1049Q1309 980 1365 939M1546 921Q1650 877 1759 907M1546 921Q1580 910 1598 879M1546 921Q1532 866 1478 850M1601 930Q1536 841 1427 827M1601 930Q1548 912 1546 855M1601 930Q1649 940 1682 976M1633 947Q1424 932 1316 752M1664 963Q1482 954 1326 1051" stroke="#66c6b6" stroke-width="1.4"/><path d="M1228 720Q1211 817 1275 892M1414 805Q1366 812 1355 859M1524 807Q1410 884 1285 827M1516 841Q1523 839 1528 845M1516 841Q1511 822 1524 807M1516 841Q1435 849 1386 913M1516 841Q1496 844 1479 833M1395 872Q1382 840 1404 812M1668 796Q1483 791 1409 960M1785 837Q1789 831 1789 823M1327 915Q1311 822 1387 767M1458 935Q1422 992 1359 1014M1458 935Q1453 864 1404 812M1384 1012Q1393 1021 1405 1018M1273 1014Q1327 1046 1326 1108M1359 1014Q1323 1007 1316 971M1477 1014Q1494 979 1474 944M1204 1064Q1198 1095 1213 1123M1616 884Q1655 875 1676 908M1566 899Q1640 906 1691 960M1633 947Q1610 909 1566 899M1791 949Q1713 829 1571 835M1826 990Q1677 1011 1544 940M1829 1019Q1821 1004 1804 1003M1374 1148Q1312 1046 1365 939M1804 1103Q1693 1054 1633 947" stroke="#74b2cf" stroke-width="0.8"/><path d="M1209 745Q1376 899 1601 930M1316 752Q1301 754 1287 746M1418 748Q1451 921 1621 967M1387 822Q1339 857 1327 915M1323 837Q1346 913 1409 960M1259 897Q1259 834 1314 806M1348 942Q1489 1038 1633 947M1474 944Q1385 864 1265 852M1474 944Q1530 943 1566 899M1504 950Q1431 988 1365 939M1452 955Q1432 935 1428 907M1409 960Q1411 985 1427 1003M1496 979Q1652 1049 1791 949M1427 1003Q1460 925 1546 921M1745 913Q1712 890 1676 908M1745 913Q1734 965 1682 976M1546 921Q1510 998 1540 1077M1546 921Q1436 1078 1245 1090M1546 921Q1618 910 1646 842M1601 930Q1536 927 1505 868M1601 930Q1553 969 1557 1031M1560 958Q1503 971 1458 935M1621 967Q1597 1029 1532 1043" stroke="#74b2cf" stroke-width="1.1"/><path d="M1350 793Q1320 807 1304 836M1451 792Q1537 828 1546 921M1265 852Q1420 828 1546 921M1327 915Q1348 872 1395 872M1327 915Q1327 938 1344 954M1544 940Q1666 989 1791 949M1546 921Q1600 959 1665 948M1601 930Q1647 913 1692 933M1601 930Q1531 972 1458 935M1560 958Q1620 911 1692 933M1560 958Q1515 966 1474 944M1552 963Q1506 981 1474 944" stroke="#74b2cf" stroke-width="1.4"/><path d="M1244 747Q1236 814 1275 869M1387 822Q1388 772 1346 746M1285 827Q1354 879 1440 869M1341 829Q1300 835 1275 869M1656 807Q1563 854 1560 958M1358 895Q1370 948 1420 967M1326 1051Q1309 1104 1347 1145M1756 955Q1792 969 1820 943M1804 1003Q1788 1011 1774 998M1861 869Q1869 952 1804 1003" stroke="#9397da" stroke-width="0.8"/><path d="M1295 793Q1345 914 1474 944M1197 871Q1317 898 1404 812M1365 939Q1348 919 1358 895M1546 921Q1589 918 1616 884" stroke="#9397da" stroke-width="1.1"/></g><g fill-opacity="0.78"><circle cx="1440.5" cy="647.6" r="1.6" fill="#359c9c"/><circle cx="1244.3" cy="671.8" r="1.6" fill="#b8da36"/><circle cx="1830.5" cy="783.8" r="1.6" fill="#547eb5"/><circle cx="1839.4" cy="1117.2" r="2" fill="#645db2"/><circle cx="1717" cy="750.7" r="2" fill="#36aa8e"/><circle cx="1672.4" cy="774.7" r="2" fill="#4093a9"/><circle cx="1725" cy="773.3" r="2" fill="#606ab6"/><circle cx="1683" cy="808" r="2" fill="#5f6eb8"/><circle cx="1727.4" cy="821.8" r="2" fill="#6265b4"/><circle cx="1875.6" cy="1003.4" r="2" fill="#606ab6"/><circle cx="1388.3" cy="1113.6" r="2.4" fill="#478cae"/><circle cx="1389.7" cy="1141.6" r="2.4" fill="#41b581"/><circle cx="1361.3" cy="1144.8" r="2.4" fill="#5d71b8"/><circle cx="1386.7" cy="1165.3" r="2.4" fill="#4093a9"/><circle cx="1369.7" cy="1178.3" r="2.4" fill="#9cd743"/><circle cx="1791.7" cy="1102.8" r="2.4" fill="#458ead"/><circle cx="1528.8" cy="1162.7" r="2.4" fill="#468dad"/><circle cx="1345.8" cy="668.6" r="2.4" fill="#379b9e"/><circle cx="1454.9" cy="702.9" r="2.4" fill="#606cb7"/><circle cx="1319" cy="728.7" r="2.4" fill="#3a98a2"/><circle cx="1528.8" cy="777.9" r="2.4" fill="#606bb7"/><circle cx="1624.3" cy="776.7" r="2.4" fill="#6558b0"/><circle cx="1457.5" cy="886.6" r="2.4" fill="#468dae"/><circle cx="1228.9" cy="909.3" r="2.4" fill="#488baf"/><circle cx="1253.9" cy="952.3" r="2.4" fill="#8fd44b"/><circle cx="1286" cy="998.3" r="2.4" fill="#35a593"/><circle cx="1803.1" cy="908.7" r="2.4" fill="#4d86b3"/><circle cx="1753.8" cy="1037.4" r="2.4" fill="#5976b7"/><circle cx="1878.2" cy="1045.4" r="2.4" fill="#5d72b7"/><circle cx="1715.4" cy="1056.8" r="2.4" fill="#38b088"/><circle cx="1571.9" cy="1072.4" r="2.4" fill="#577ab6"/><circle cx="1569.9" cy="1093.4" r="2.4" fill="#389aa0"/><circle cx="1259.3" cy="1097.8" r="2.8" fill="#86d150"/><circle cx="1299.3" cy="1097.8" r="2.8" fill="#3999a1"/><circle cx="1181.8" cy="1107.2" r="2.8" fill="#369c9d"/><circle cx="1430" cy="1106.8" r="2.8" fill="#34a395"/><circle cx="1283.9" cy="1115.2" r="2.8" fill="#5f6eb8"/><circle cx="1490" cy="1119.2" r="2.8" fill="#547db5"/><circle cx="1297.9" cy="1121.6" r="2.8" fill="#43b67f"/><circle cx="1213.2" cy="1123.2" r="2.8" fill="#488baf"/><circle cx="1434.4" cy="1123.6" r="2.8" fill="#3ab187"/><circle cx="1335.3" cy="1124.2" r="2.8" fill="#389aa0"/><circle cx="1248.3" cy="1129.2" r="2.8" fill="#349d9b"/><circle cx="1226.9" cy="1131.8" r="2.8" fill="#5977b7"/><circle cx="1274.3" cy="1133.6" r="2.8" fill="#4f84b4"/><circle cx="1471.8" cy="1142.8" r="2.8" fill="#35a692"/><circle cx="1347.3" cy="1144.6" r="2.8" fill="#557cb6"/><circle cx="1423.3" cy="1159.3" r="2.8" fill="#4bbb79"/><circle cx="1331.9" cy="1159.3" r="2.8" fill="#36aa8e"/><circle cx="1444.4" cy="1160.9" r="2.8" fill="#34a197"/><circle cx="1312.9" cy="1162.7" r="2.8" fill="#389aa0"/><circle cx="1537.2" cy="1112.8" r="2.8" fill="#5878b6"/><circle cx="1460.5" cy="671.8" r="2.8" fill="#547eb5"/><circle cx="1286.8" cy="682.9" r="2.8" fill="#389aa0"/><circle cx="1439.1" cy="689.9" r="2.8" fill="#64c865"/><circle cx="1504.6" cy="702.5" r="2.8" fill="#5fc768"/><circle cx="1414.1" cy="738.9" r="2.8" fill="#5c73b7"/><circle cx="1300" cy="744.9" r="2.8" fill="#4390ab"/><circle cx="1500.2" cy="752.9" r="2.8" fill="#4d86b2"/><circle cx="1348.8" cy="764.5" r="2.8" fill="#606bb7"/><circle cx="1223.3" cy="765.3" r="2.8" fill="#5779b6"/><circle cx="1252.3" cy="770.9" r="2.8" fill="#99d644"/><circle cx="1191.5" cy="774.7" r="2.8" fill="#606ab6"/><circle cx="1502.2" cy="797" r="2.8" fill="#3e95a7"/><circle cx="1446.1" cy="804.4" r="2.8" fill="#359d9c"/><circle cx="1482.2" cy="807" r="2.8" fill="#35a494"/><circle cx="1523.6" cy="807.4" r="2.8" fill="#498aaf"/><circle cx="1338.8" cy="810" r="2.8" fill="#3a98a2"/><circle cx="1358.4" cy="827.8" r="2.8" fill="#498aaf"/><circle cx="1479.2" cy="832.8" r="2.8" fill="#498ab0"/><circle cx="1433.5" cy="840.4" r="2.8" fill="#488baf"/><circle cx="1349.8" cy="844.4" r="2.8" fill="#3b97a4"/><circle cx="1299" cy="852.4" r="2.8" fill="#6263b4"/><circle cx="1279" cy="852" r="2.8" fill="#90d44a"/><circle cx="1140.2" cy="853.8" r="2.8" fill="#5ec669"/><circle cx="1142.2" cy="868.8" r="2.8" fill="#606ab6"/><circle cx="1665" cy="784.8" r="2.8" fill="#3c96a5"/><circle cx="1771.5" cy="795" r="2.8" fill="#5f6eb8"/><circle cx="1558.7" cy="800.8" r="2.8" fill="#37ae8a"/><circle cx="1585.7" cy="805" r="2.8" fill="#6265b4"/><circle cx="1629.7" cy="806.8" r="2.8" fill="#37ac8c"/><circle cx="1681" cy="833.8" r="2.8" fill="#5ec669"/><circle cx="1770.1" cy="870" r="2.8" fill="#4291aa"/><circle cx="1528.2" cy="845.4" r="2.8" fill="#488baf"/><circle cx="1207.3" cy="885.2" r="2.8" fill="#359d9c"/><circle cx="1156.6" cy="903.3" r="2.8" fill="#3e94a7"/><circle cx="1322.4" cy="894.8" r="2.8" fill="#8fd44b"/><circle cx="1492.6" cy="886.2" r="2.8" fill="#46b87d"/><circle cx="1246.7" cy="908.9" r="2.8" fill="#4093a9"/><circle cx="1281.4" cy="910.3" r="2.8" fill="#4291ab"/><circle cx="1480.2" cy="912.3" r="2.8" fill="#606ab6"/><circle cx="1508.6" cy="912.9" r="2.8" fill="#80d053"/><circle cx="1184.9" cy="919.7" r="2.8" fill="#3d96a5"/><circle cx="1212.9" cy="923.7" r="2.8" fill="#54c071"/><circle cx="1254.9" cy="919.3" r="2.8" fill="#37ad8b"/><circle cx="1493" cy="928.7" r="2.8" fill="#39b187"/><circle cx="1162.6" cy="933.7" r="2.8" fill="#4093a9"/><circle cx="1189.3" cy="932.9" r="2.8" fill="#6263b4"/><circle cx="1209.9" cy="941.3" r="2.8" fill="#4b88b1"/><circle cx="1157.8" cy="946.7" r="2.8" fill="#458eac"/><circle cx="1177.3" cy="948.3" r="2.8" fill="#33a098"/><circle cx="1156.8" cy="964.3" r="2.8" fill="#34a197"/><circle cx="1200.9" cy="960.3" r="2.8" fill="#45b77d"/><circle cx="1219.3" cy="965.3" r="2.8" fill="#9dd742"/><circle cx="1316.4" cy="971.3" r="2.8" fill="#4291aa"/><circle cx="1352" cy="969.9" r="2.8" fill="#35a593"/><circle cx="1236.9" cy="983.9" r="2.8" fill="#369b9e"/><circle cx="1221.9" cy="985.3" r="2.8" fill="#4f84b4"/><circle cx="1265.9" cy="987.3" r="2.8" fill="#3a98a2"/><circle cx="1464.5" cy="997.9" r="2.8" fill="#3999a1"/><circle cx="1476.6" cy="1014.4" r="2.8" fill="#448fac"/><circle cx="1199.3" cy="1026" r="2.8" fill="#3b98a3"/><circle cx="1156.8" cy="1032" r="2.8" fill="#5182b4"/><circle cx="1312.4" cy="1030.4" r="2.8" fill="#5977b6"/><circle cx="1222.3" cy="1042.4" r="2.8" fill="#369c9d"/><circle cx="1413.1" cy="1060.8" r="2.8" fill="#37ad8b"/><circle cx="1481.2" cy="1056.8" r="2.8" fill="#40b581"/><circle cx="1499.6" cy="1053.4" r="2.8" fill="#468dad"/><circle cx="1357.4" cy="1070.4" r="2.8" fill="#36a791"/><circle cx="1388.1" cy="1074.4" r="2.8" fill="#56c170"/><circle cx="1226.9" cy="1077.4" r="2.8" fill="#36aa8e"/><circle cx="1451.5" cy="1079.4" r="2.8" fill="#6166b5"/><circle cx="1507.6" cy="1074.8" r="2.8" fill="#4f84b4"/><circle cx="1439.5" cy="1085.4" r="2.8" fill="#4390ab"/><circle cx="1271" cy="1085.4" r="2.8" fill="#37ad8b"/><circle cx="1461.1" cy="1092.4" r="2.8" fill="#3a98a3"/><circle cx="1332.4" cy="1092.8" r="2.8" fill="#3e95a7"/><circle cx="1424.5" cy="1095.4" r="2.8" fill="#35a494"/><circle cx="1532.8" cy="881.6" r="2.8" fill="#42b680"/><circle cx="1787.5" cy="881.6" r="2.8" fill="#5d72b7"/><circle cx="1835.1" cy="884.8" r="2.8" fill="#6558b0"/><circle cx="1851.5" cy="886.8" r="2.8" fill="#5280b5"/><circle cx="1780.5" cy="904.7" r="2.8" fill="#4291aa"/><circle cx="1776.5" cy="958.3" r="2.8" fill="#4e85b3"/><circle cx="1713" cy="984.7" r="2.8" fill="#389aa0"/><circle cx="1859.6" cy="988.7" r="2.8" fill="#557cb6"/><circle cx="1567.7" cy="1003" r="2.8" fill="#339e9a"/><circle cx="1709.4" cy="1006" r="2.8" fill="#8cd34c"/><circle cx="1863.2" cy="1018.8" r="2.8" fill="#557cb5"/><circle cx="1828.9" cy="1019.4" r="2.8" fill="#4b88b1"/><circle cx="1846.5" cy="1023" r="2.8" fill="#557bb6"/><circle cx="1549.2" cy="1026.4" r="2.8" fill="#488baf"/><circle cx="1657.8" cy="1047" r="2.8" fill="#3c97a4"/><circle cx="1539.8" cy="1077.4" r="2.8" fill="#4390ab"/><circle cx="1550.8" cy="1085" r="2.8" fill="#38b088"/><circle cx="1700.4" cy="1086" r="2.8" fill="#4291aa"/><circle cx="1724.8" cy="1095.8" r="2.8" fill="#448fab"/><circle cx="1455" cy="1109.8" r="3.2" fill="#3e95a7"/><circle cx="1245.9" cy="1117.2" r="3.2" fill="#afd93a"/><circle cx="1313.3" cy="1117.8" r="3.2" fill="#4390ab"/><circle cx="1466.4" cy="1118.6" r="3.2" fill="#537eb5"/><circle cx="1417.3" cy="1119.8" r="3.2" fill="#35a692"/><circle cx="1520.8" cy="1124.6" r="3.2" fill="#6264b4"/><circle cx="1322.7" cy="1128.8" r="3.2" fill="#76cd5a"/><circle cx="1414.3" cy="1134.6" r="3.2" fill="#34a197"/><circle cx="1373.9" cy="1147.6" r="3.2" fill="#4192a9"/><circle cx="1300.3" cy="1149.6" r="3.2" fill="#8bd34d"/><circle cx="1736.3" cy="1101.6" r="3.2" fill="#635eb2"/><circle cx="1754.3" cy="1102.8" r="3.2" fill="#6558b0"/><circle cx="1473.2" cy="672.8" r="3.2" fill="#448fab"/><circle cx="1306.8" cy="682.5" r="3.2" fill="#34a395"/><circle cx="1472.2" cy="685.9" r="3.2" fill="#339e9a"/><circle cx="1295.4" cy="697.3" r="3.2" fill="#35a692"/><circle cx="1369.5" cy="707.9" r="3.2" fill="#5f6eb8"/><circle cx="1371.5" cy="726.9" r="3.2" fill="#34a197"/><circle cx="1257.5" cy="731.7" r="3.2" fill="#63c865"/><circle cx="1446.5" cy="738.3" r="3.2" fill="#36a890"/><circle cx="1154.2" cy="748.5" r="3.2" fill="#537fb5"/><circle cx="1356.8" cy="745.9" r="3.2" fill="#606db7"/><circle cx="1393.5" cy="748.9" r="3.2" fill="#3c97a4"/><circle cx="1230.9" cy="753.3" r="3.2" fill="#3999a1"/><circle cx="1358.8" cy="760.3" r="3.2" fill="#5181b5"/><circle cx="1197.5" cy="762.5" r="3.2" fill="#3f94a8"/><circle cx="1332.4" cy="778.3" r="3.2" fill="#606bb7"/><circle cx="1484.6" cy="788.4" r="3.2" fill="#6168b6"/><circle cx="1306" cy="793.4" r="3.2" fill="#3c96a5"/><circle cx="1181.1" cy="800.4" r="3.2" fill="#4c87b2"/><circle cx="1219.3" cy="801.8" r="3.2" fill="#4f84b4"/><circle cx="1357.4" cy="803.4" r="3.2" fill="#349d9b"/><circle cx="1430.5" cy="807.4" r="3.2" fill="#69ca61"/><circle cx="1302" cy="813.4" r="3.2" fill="#4192a9"/><circle cx="1327.8" cy="824.4" r="3.2" fill="#5cc56b"/><circle cx="1196.9" cy="830" r="3.2" fill="#3999a2"/><circle cx="1229.3" cy="830" r="3.2" fill="#6167b5"/><circle cx="1214.7" cy="835.4" r="3.2" fill="#537eb5"/><circle cx="1391.3" cy="837.4" r="3.2" fill="#4192aa"/><circle cx="1456.5" cy="843" r="3.2" fill="#369b9e"/><circle cx="1194.7" cy="845.8" r="3.2" fill="#6558b0"/><circle cx="1374.1" cy="854" r="3.2" fill="#6169b6"/><circle cx="1393.5" cy="857" r="3.2" fill="#36aa8e"/><circle cx="1334.4" cy="871.4" r="3.2" fill="#46b87c"/><circle cx="1527.8" cy="748.7" r="3.2" fill="#3e95a7"/><circle cx="1568.5" cy="751.7" r="3.2" fill="#6165b5"/><circle cx="1559.3" cy="767.9" r="3.2" fill="#557cb6"/><circle cx="1546.8" cy="788.8" r="3.2" fill="#5e71b8"/><circle cx="1643.7" cy="795.2" r="3.2" fill="#557cb6"/><circle cx="1836.1" cy="816.8" r="3.2" fill="#606ab6"/><circle cx="1708.8" cy="822.8" r="3.2" fill="#359c9d"/><circle cx="1807.9" cy="822.4" r="3.2" fill="#635eb2"/><circle cx="1550.6" cy="824" r="3.2" fill="#3b97a4"/><circle cx="1621.3" cy="834" r="3.2" fill="#4a89b0"/><circle cx="1660.4" cy="840.8" r="3.2" fill="#5976b7"/><circle cx="1599.7" cy="852.4" r="3.2" fill="#4f84b4"/><circle cx="1575.3" cy="864.4" r="3.2" fill="#3b97a4"/><circle cx="1701.8" cy="868" r="3.2" fill="#61c867"/><circle cx="1803.1" cy="868" r="3.2" fill="#37ab8d"/><circle cx="1187.3" cy="892.2" r="3.2" fill="#379a9f"/><circle cx="1479.6" cy="899.3" r="3.2" fill="#5879b6"/><circle cx="1265.3" cy="921.9" r="3.2" fill="#4ebd76"/><circle cx="1279.4" cy="923.9" r="3.2" fill="#5fc668"/><circle cx="1405.5" cy="931.9" r="3.2" fill="#35a494"/><circle cx="1422.9" cy="931.7" r="3.2" fill="#36a791"/><circle cx="1225.7" cy="929.3" r="3.2" fill="#35a791"/><circle cx="1238.9" cy="926.9" r="3.2" fill="#3e95a6"/><circle cx="1289.4" cy="937.9" r="3.2" fill="#369c9d"/><circle cx="1395.5" cy="948.3" r="3.2" fill="#3b97a4"/><circle cx="1171.3" cy="978.3" r="3.2" fill="#5281b5"/><circle cx="1393.1" cy="989.3" r="3.2" fill="#3a98a3"/><circle cx="1444.5" cy="989.9" r="3.2" fill="#4a89b0"/><circle cx="1245.7" cy="1004" r="3.2" fill="#3cb285"/><circle cx="1411.5" cy="1009.4" r="3.2" fill="#369c9d"/><circle cx="1325.8" cy="1026" r="3.2" fill="#359c9d"/><circle cx="1448.5" cy="1030.4" r="3.2" fill="#35a494"/><circle cx="1496" cy="1032.8" r="3.2" fill="#557db5"/><circle cx="1239.7" cy="1045.4" r="3.2" fill="#34a395"/><circle cx="1413.9" cy="1044.8" r="3.2" fill="#44b77e"/><circle cx="1424.5" cy="1058" r="3.2" fill="#3a98a2"/><circle cx="1203.9" cy="1064.4" r="3.2" fill="#3f94a7"/><circle cx="1231.3" cy="1062.8" r="3.2" fill="#35a692"/><circle cx="1450.1" cy="1064" r="3.2" fill="#5878b6"/><circle cx="1512.2" cy="1064" r="3.2" fill="#6360b3"/><circle cx="1362" cy="1087.4" r="3.2" fill="#6069b6"/><circle cx="1208.3" cy="1093.4" r="3.2" fill="#468dad"/><circle cx="1412.5" cy="1095" r="3.2" fill="#36a98f"/><circle cx="1736" cy="880.8" r="3.2" fill="#5976b7"/><circle cx="1875.2" cy="888.6" r="3.2" fill="#34a296"/><circle cx="1792.5" cy="900.9" r="3.2" fill="#3b97a3"/><circle cx="1654.3" cy="905.3" r="3.2" fill="#606cb7"/><circle cx="1786.5" cy="917.3" r="3.2" fill="#4a89b0"/><circle cx="1590.7" cy="922.7" r="3.2" fill="#3f94a8"/><circle cx="1630.3" cy="931.3" r="3.2" fill="#3a98a2"/><circle cx="1854.1" cy="966.7" r="3.2" fill="#6265b4"/><circle cx="1649.3" cy="979.3" r="3.2" fill="#5d72b7"/><circle cx="1562.3" cy="979.3" r="3.2" fill="#359c9d"/><circle cx="1581.9" cy="985.9" r="3.2" fill="#349d9b"/><circle cx="1825.5" cy="989.9" r="3.2" fill="#4390ab"/><circle cx="1803.1" cy="989.9" r="3.2" fill="#4d86b3"/><circle cx="1726.8" cy="1008.8" r="3.2" fill="#547eb5"/><circle cx="1783.5" cy="1007.4" r="3.2" fill="#5977b6"/><circle cx="1641.7" cy="1011.4" r="3.2" fill="#5083b4"/><circle cx="1526.2" cy="1013.8" r="3.2" fill="#77cd59"/><circle cx="1683" cy="1022.4" r="3.2" fill="#468dad"/><circle cx="1816.5" cy="1024" r="3.2" fill="#5b75b7"/><circle cx="1613.3" cy="1034" r="3.2" fill="#34a197"/><circle cx="1531.8" cy="1043.4" r="3.2" fill="#4390ab"/><circle cx="1683.4" cy="1076.8" r="3.2" fill="#3b97a3"/><circle cx="1528.2" cy="1092" r="3.2" fill="#61c867"/><circle cx="1286.9" cy="1102.2" r="3.6" fill="#7ccf56"/><circle cx="1223.3" cy="1104.6" r="3.6" fill="#3b97a4"/><circle cx="1804.3" cy="1102.8" r="3.6" fill="#458eac"/><circle cx="1843.4" cy="1101.2" r="3.6" fill="#635fb3"/><circle cx="1267.8" cy="691.9" r="3.6" fill="#35a593"/><circle cx="1217.5" cy="728.9" r="3.6" fill="#5e71b8"/><circle cx="1243.5" cy="746.9" r="3.6" fill="#5d71b8"/><circle cx="1307.4" cy="776.3" r="3.6" fill="#606bb7"/><circle cx="1516.6" cy="793.8" r="3.6" fill="#557cb6"/><circle cx="1168.3" cy="815.4" r="3.6" fill="#4390ab"/><circle cx="1218.3" cy="853.4" r="3.6" fill="#3e95a6"/><circle cx="1516" cy="855.4" r="3.6" fill="#53c072"/><circle cx="1315.4" cy="869.4" r="3.6" fill="#6360b3"/><circle cx="1465.5" cy="871.4" r="3.6" fill="#51be74"/><circle cx="1714.4" cy="802" r="3.6" fill="#5cc46b"/><circle cx="1589.3" cy="819.4" r="3.6" fill="#4a89b0"/><circle cx="1643.3" cy="822.6" r="3.6" fill="#577ab6"/><circle cx="1662.6" cy="821.4" r="3.6" fill="#3a98a2"/><circle cx="1570.9" cy="835.4" r="3.6" fill="#35a494"/><circle cx="1545.6" cy="855" r="3.6" fill="#42b680"/><circle cx="1787.5" cy="858.4" r="3.6" fill="#577ab6"/><circle cx="1611.7" cy="867.4" r="3.6" fill="#606bb7"/><circle cx="1860.6" cy="869.4" r="3.6" fill="#6264b4"/><circle cx="1438.9" cy="913.3" r="3.6" fill="#46b87d"/><circle cx="1331.4" cy="949.3" r="3.6" fill="#34a197"/><circle cx="1408.5" cy="946.3" r="3.6" fill="#7ace57"/><circle cx="1186.3" cy="968.7" r="3.6" fill="#3a98a2"/><circle cx="1410.5" cy="978.9" r="3.6" fill="#4291aa"/><circle cx="1282.4" cy="982.3" r="3.6" fill="#6167b5"/><circle cx="1202.9" cy="1001.8" r="3.6" fill="#369b9e"/><circle cx="1492.6" cy="1009.4" r="3.6" fill="#448fac"/><circle cx="1235.3" cy="1017" r="3.6" fill="#5f6db7"/><circle cx="1208.3" cy="1041.8" r="3.6" fill="#5878b6"/><circle cx="1297.4" cy="1048" r="3.6" fill="#3a98a2"/><circle cx="1281.4" cy="1053.4" r="3.6" fill="#5f6eb8"/><circle cx="1190.9" cy="1062.4" r="3.6" fill="#4c87b2"/><circle cx="1757.5" cy="892.2" r="3.6" fill="#3999a1"/><circle cx="1816.1" cy="916.3" r="3.6" fill="#5f6eb8"/><circle cx="1730.8" cy="924.9" r="3.6" fill="#5181b5"/><circle cx="1837.5" cy="973.3" r="3.6" fill="#3e95a7"/><circle cx="1608.3" cy="1007" r="3.6" fill="#40b482"/><circle cx="1235.3" cy="1101.8" r="4" fill="#4b88b1"/><circle cx="1326.3" cy="1107.8" r="4" fill="#4192a9"/><circle cx="1505" cy="1103.2" r="4" fill="#369b9e"/><circle cx="1361.9" cy="1113.8" r="4" fill="#38b088"/><circle cx="1389.9" cy="704.3" r="4" fill="#35a593"/><circle cx="1498.2" cy="719.9" r="4" fill="#6264b4"/><circle cx="1423.5" cy="781.8" r="4" fill="#8dd34c"/><circle cx="1212.7" cy="783" r="4" fill="#5a76b7"/><circle cx="1241.5" cy="788.8" r="4" fill="#8fd44a"/><circle cx="1458.1" cy="828.8" r="4" fill="#3b97a4"/><circle cx="1176.7" cy="824.8" r="4" fill="#3a98a2"/><circle cx="1355" cy="858.8" r="4" fill="#89d24e"/><circle cx="1418.1" cy="861.8" r="4" fill="#5976b7"/><circle cx="1351.4" cy="875.4" r="4" fill="#537eb5"/><circle cx="1667.6" cy="796" r="4" fill="#5083b4"/><circle cx="1766.5" cy="832" r="4" fill="#5878b6"/><circle cx="1834.7" cy="835.8" r="4" fill="#3eb483"/><circle cx="1800.1" cy="853.8" r="4" fill="#7dcf56"/><circle cx="1742.8" cy="865.4" r="4" fill="#4f84b4"/><circle cx="1570.3" cy="875.4" r="4" fill="#606cb7"/><circle cx="1240.7" cy="897.8" r="4" fill="#42b680"/><circle cx="1386.5" cy="913.3" r="4" fill="#55c170"/><circle cx="1383.5" cy="929.7" r="4" fill="#3999a1"/><circle cx="1280.4" cy="961.3" r="4" fill="#5f6eb8"/><circle cx="1375.5" cy="1020.4" r="4" fill="#3e95a7"/><circle cx="1229.3" cy="1029" r="4" fill="#34a296"/><circle cx="1463.5" cy="1029.4" r="4" fill="#3e95a7"/><circle cx="1244.9" cy="1034" r="4" fill="#359d9c"/><circle cx="1496.2" cy="1082.4" r="4" fill="#488bae"/><circle cx="1864.6" cy="956.9" r="4" fill="#4e85b4"/><circle cx="1591.3" cy="968.7" r="4" fill="#498ab0"/><circle cx="1531.2" cy="967.7" r="4" fill="#5281b5"/><circle cx="1818.5" cy="967.3" r="4" fill="#498aaf"/><circle cx="1791.5" cy="985.9" r="4" fill="#547db5"/><circle cx="1774.5" cy="998.3" r="4" fill="#6263b4"/><circle cx="1870.2" cy="1011.4" r="4" fill="#635eb2"/><circle cx="1577.9" cy="1014.4" r="4" fill="#5878b6"/><circle cx="1779.9" cy="1030.4" r="4" fill="#448fac"/><circle cx="1623.9" cy="1039.4" r="4" fill="#369b9e"/><circle cx="1787.5" cy="1054.8" r="4" fill="#6069b6"/><circle cx="1799.1" cy="1063.8" r="4" fill="#4093a9"/><circle cx="1827.1" cy="1066" r="4" fill="#488baf"/><circle cx="1749.4" cy="1080.8" r="4" fill="#3c96a5"/><circle cx="1295.7" cy="1130.8" r="4.4" fill="#4192aa"/><circle cx="1442.9" cy="661.8" r="4.4" fill="#4b88b1"/><circle cx="1515" cy="739.9" r="4.4" fill="#35a593"/><circle cx="1386.9" cy="766.7" r="4.4" fill="#448fac"/><circle cx="1398.5" cy="773.3" r="4.4" fill="#4a89b1"/><circle cx="1450.9" cy="771.7" r="4.4" fill="#339e9a"/><circle cx="1367.7" cy="783.4" r="4.4" fill="#5cc56b"/><circle cx="1295.4" cy="792.8" r="4.4" fill="#5878b6"/><circle cx="1390.5" cy="792" r="4.4" fill="#6069b6"/><circle cx="1381.1" cy="805" r="4.4" fill="#488baf"/><circle cx="1262.9" cy="805" r="4.4" fill="#6168b6"/><circle cx="1490.6" cy="827.8" r="4.4" fill="#80d054"/><circle cx="1290" cy="863.4" r="4.4" fill="#47b97c"/><circle cx="1246.7" cy="872.4" r="4.4" fill="#3b97a4"/><circle cx="1602.3" cy="728.7" r="4.4" fill="#635eb2"/><circle cx="1549.2" cy="773.7" r="4.4" fill="#4291ab"/><circle cx="1571.3" cy="788.8" r="4.4" fill="#4093a8"/><circle cx="1748" cy="806.4" r="4.4" fill="#606db7"/><circle cx="1690.4" cy="827" r="4.4" fill="#36a98f"/><circle cx="1815.5" cy="849.4" r="4.4" fill="#3b98a3"/><circle cx="1295.4" cy="897.2" r="4.4" fill="#36a890"/><circle cx="1358.4" cy="895.2" r="4.4" fill="#6361b3"/><circle cx="1371.1" cy="899.3" r="4.4" fill="#91d449"/><circle cx="1384.5" cy="974.9" r="4.4" fill="#3c96a5"/><circle cx="1329" cy="991.3" r="4.4" fill="#5181b5"/><circle cx="1369.5" cy="1007.4" r="4.4" fill="#6262b3"/><circle cx="1435.5" cy="1020" r="4.4" fill="#4291aa"/><circle cx="1450.5" cy="1039.4" r="4.4" fill="#606db7"/><circle cx="1269.4" cy="1050" r="4.4" fill="#359d9c"/><circle cx="1335.4" cy="1077.4" r="4.4" fill="#3f94a8"/><circle cx="1684.4" cy="879.8" r="4.4" fill="#3f94a8"/><circle cx="1665" cy="892.2" r="4.4" fill="#3999a1"/><circle cx="1758.9" cy="907.3" r="4.4" fill="#3999a1"/><circle cx="1890.2" cy="914.9" r="4.4" fill="#5f6fb8"/><circle cx="1707" cy="927.3" r="4.4" fill="#6263b4"/><circle cx="1735" cy="1027.4" r="4.4" fill="#38af89"/><circle cx="1573.7" cy="1030.4" r="4.4" fill="#34a395"/><circle cx="1508.2" cy="1089.4" r="4.4" fill="#3eb383"/><circle cx="1257.3" cy="1109.8" r="4.8" fill="#3999a1"/><circle cx="1451.5" cy="683.9" r="4.8" fill="#379a9f"/><circle cx="1287.4" cy="745.7" r="4.8" fill="#3f94a8"/><circle cx="1345.8" cy="745.7" r="4.8" fill="#635eb2"/><circle cx="1418.1" cy="747.9" r="4.8" fill="#5082b4"/><circle cx="1444.9" cy="826.4" r="4.8" fill="#38af89"/><circle cx="1336.4" cy="852" r="4.8" fill="#4e85b3"/><circle cx="1275.4" cy="869.4" r="4.8" fill="#5779b6"/><circle cx="1573.9" cy="773.9" r="4.8" fill="#577ab6"/><circle cx="1691.8" cy="790" r="4.8" fill="#33a098"/><circle cx="1656.1" cy="807.4" r="4.8" fill="#6558b0"/><circle cx="1726" cy="838" r="4.8" fill="#35a692"/><circle cx="1283.4" cy="947.9" r="4.8" fill="#488baf"/><circle cx="1363.4" cy="985.9" r="4.8" fill="#36a890"/><circle cx="1176.9" cy="1000.4" r="4.8" fill="#71cc5d"/><circle cx="1294.4" cy="1031" r="4.8" fill="#5f6db7"/><circle cx="1435.5" cy="1050" r="4.8" fill="#37ad8b"/><circle cx="1401.5" cy="1052.4" r="4.8" fill="#5082b4"/><circle cx="1179.7" cy="1056.8" r="4.8" fill="#35a494"/><circle cx="1368.5" cy="1058.4" r="4.8" fill="#4c87b2"/><circle cx="1657.4" cy="877.8" r="4.8" fill="#349d9c"/><circle cx="1851.9" cy="921.7" r="4.8" fill="#6168b6"/><circle cx="1664" cy="934.3" r="4.8" fill="#7fd054"/><circle cx="1849.5" cy="941.3" r="4.8" fill="#5977b6"/><circle cx="1704.4" cy="949.9" r="4.8" fill="#4390ab"/><circle cx="1842.9" cy="958.7" r="4.8" fill="#3999a1"/><circle cx="1797.5" cy="965.3" r="4.8" fill="#606bb6"/><circle cx="1633.9" cy="981.9" r="4.8" fill="#3e95a7"/><circle cx="1764.1" cy="986.7" r="4.8" fill="#4d86b3"/><circle cx="1544.2" cy="1006.8" r="4.8" fill="#5cc56b"/><circle cx="1250.7" cy="712.9" r="5" fill="#4192aa"/><circle cx="1462.1" cy="733.9" r="5" fill="#4390ab"/><circle cx="1288.4" cy="760.3" r="5" fill="#339e9a"/><circle cx="1597.3" cy="875.4" r="5" fill="#4d86b3"/><circle cx="1394.5" cy="901.3" r="5" fill="#37ac8c"/><circle cx="1316.4" cy="927.3" r="5" fill="#3c96a5"/><circle cx="1446.5" cy="930.3" r="5" fill="#448fac"/><circle cx="1347.3" cy="1107.2" r="5.2" fill="#379b9f"/><circle cx="1368.7" cy="1126.8" r="5.2" fill="#3999a1"/><circle cx="1466.1" cy="761.9" r="5.2" fill="#34a197"/><circle cx="1329.8" cy="799.4" r="5.2" fill="#359c9d"/><circle cx="1513" cy="828" r="5.2" fill="#3f94a8"/><circle cx="1367.1" cy="838.4" r="5.2" fill="#359d9c"/><circle cx="1337.2" cy="842" r="5.2" fill="#3f94a8"/><circle cx="1478.2" cy="849.8" r="5.2" fill="#3d96a6"/><circle cx="1757.7" cy="819.4" r="5.2" fill="#498aaf"/><circle cx="1814.1" cy="838.4" r="5.2" fill="#5182b4"/><circle cx="1740" cy="850.8" r="5.2" fill="#488baf"/><circle cx="1357.4" cy="918.3" r="5.2" fill="#3d96a5"/><circle cx="1303" cy="959.3" r="5.2" fill="#379b9f"/><circle cx="1304.8" cy="980.3" r="5.2" fill="#4ebd76"/><circle cx="1452.1" cy="998.3" r="5.2" fill="#3e95a7"/><circle cx="1273.4" cy="998.3" r="5.2" fill="#339f99"/><circle cx="1385.5" cy="1030.4" r="5.2" fill="#35a593"/><circle cx="1615.9" cy="883.6" r="5.2" fill="#557cb5"/><circle cx="1718.4" cy="885.2" r="5.2" fill="#3f94a8"/><circle cx="1805.9" cy="924.9" r="5.2" fill="#567ab6"/><circle cx="1839.9" cy="998.3" r="5.2" fill="#478cae"/><circle cx="1640.7" cy="1023" r="5.2" fill="#4e85b3"/><circle cx="1766.5" cy="1086.4" r="5.2" fill="#488bae"/><circle cx="1277.4" cy="776.3" r="5.6" fill="#458ead"/><circle cx="1240.7" cy="818" r="5.6" fill="#4d86b2"/><circle cx="1402.9" cy="830" r="5.6" fill="#3a98a2"/><circle cx="1207.3" cy="858.8" r="5.6" fill="#3f94a7"/><circle cx="1410.5" cy="875.4" r="5.6" fill="#34a098"/><circle cx="1546.2" cy="813.8" r="5.6" fill="#3999a1"/><circle cx="1789.1" cy="823.4" r="5.6" fill="#448fab"/><circle cx="1656.4" cy="860.4" r="5.6" fill="#4093a9"/><circle cx="1259.3" cy="896.6" r="5.6" fill="#448fab"/><circle cx="1449.5" cy="897.8" r="5.6" fill="#3e95a7"/><circle cx="1313.4" cy="947.9" r="5.6" fill="#36aa8e"/><circle cx="1330" cy="965.7" r="5.6" fill="#3b97a4"/><circle cx="1419.5" cy="967.3" r="5.6" fill="#3e95a7"/><circle cx="1348.4" cy="985.3" r="5.6" fill="#3d95a6"/><circle cx="1418.5" cy="990.3" r="5.6" fill="#448fac"/><circle cx="1322.8" cy="1004" r="5.6" fill="#3899a0"/><circle cx="1346" cy="1004" r="5.6" fill="#4291aa"/><circle cx="1312.8" cy="1010.4" r="5.6" fill="#3c96a5"/><circle cx="1421.5" cy="1031.4" r="5.6" fill="#5a76b7"/><circle cx="1360.4" cy="1037.4" r="5.6" fill="#339f99"/><circle cx="1460.5" cy="1047.4" r="5.6" fill="#349d9b"/><circle cx="1258.9" cy="1070.4" r="5.6" fill="#339e9a"/><circle cx="1293.4" cy="1072.4" r="5.6" fill="#369c9d"/><circle cx="1307.4" cy="1077.4" r="5.6" fill="#4192aa"/><circle cx="1392.1" cy="1089.4" r="5.6" fill="#3f94a8"/><circle cx="1244.9" cy="1090.4" r="5.6" fill="#4192aa"/><circle cx="1598.3" cy="879.2" r="5.6" fill="#3f94a8"/><circle cx="1840.1" cy="908.5" r="5.6" fill="#3f94a8"/><circle cx="1819.9" cy="942.7" r="5.6" fill="#5f6eb8"/><circle cx="1558.7" cy="1045.4" r="5.6" fill="#35a692"/><circle cx="1377.7" cy="738.3" r="6" fill="#36a98f"/><circle cx="1221.5" cy="740.3" r="6" fill="#3f94a7"/><circle cx="1290.4" cy="807" r="6" fill="#5280b5"/><circle cx="1426.9" cy="827" r="6" fill="#359c9d"/><circle cx="1504" cy="845.8" r="6" fill="#36a791"/><circle cx="1197.3" cy="871.4" r="6" fill="#6069b6"/><circle cx="1395.5" cy="872.4" r="6" fill="#4291aa"/><circle cx="1378.5" cy="875.4" r="6" fill="#3d96a6"/><circle cx="1795.1" cy="811.4" r="6" fill="#3f94a8"/><circle cx="1743.8" cy="835.8" r="6" fill="#389aa0"/><circle cx="1686.4" cy="866.4" r="6" fill="#448fac"/><circle cx="1340.4" cy="894.8" r="6" fill="#547db5"/><circle cx="1348" cy="902.3" r="6" fill="#339e9a"/><circle cx="1305.4" cy="920.3" r="6" fill="#35a593"/><circle cx="1344" cy="953.9" r="6" fill="#4291ab"/><circle cx="1261.3" cy="961.3" r="6" fill="#34a098"/><circle cx="1347" cy="1066.4" r="6" fill="#359c9c"/><circle cx="1638.3" cy="938.3" r="6" fill="#3d96a5"/><circle cx="1577.3" cy="966.9" r="6" fill="#379b9e"/><circle cx="1691.4" cy="959.9" r="6" fill="#359c9c"/><circle cx="1549.2" cy="989.9" r="6" fill="#33a098"/><circle cx="1341" cy="828.8" r="6.4" fill="#5f6fb8"/><circle cx="1409.1" cy="847" r="6.4" fill="#3e95a7"/><circle cx="1458.5" cy="855.4" r="6.4" fill="#3999a1"/><circle cx="1346" cy="928.3" r="6.4" fill="#4291aa"/><circle cx="1223.3" cy="1000.4" r="6.4" fill="#458eac"/><circle cx="1371.1" cy="1048.4" r="6.4" fill="#359c9c"/><circle cx="1569.7" cy="880.2" r="6.4" fill="#3a98a2"/><circle cx="1726" cy="899.7" r="6.4" fill="#359c9c"/><circle cx="1694" cy="914.3" r="6.4" fill="#4291aa"/><circle cx="1767.5" cy="920.9" r="6.4" fill="#3f94a8"/><circle cx="1557.3" cy="1030.8" r="6.4" fill="#547db5"/><circle cx="1789.5" cy="1037" r="6.4" fill="#6069b6"/><circle cx="1433.9" cy="724.3" r="6.8" fill="#37ac8c"/><circle cx="1237.9" cy="937.7" r="6.8" fill="#379b9e"/><circle cx="1348.4" cy="942.3" r="6.8" fill="#458eac"/><circle cx="1268.4" cy="945.3" r="6.8" fill="#34a098"/><circle cx="1405.5" cy="1018.4" r="6.8" fill="#3d96a5"/><circle cx="1338" cy="1038.4" r="6.8" fill="#3999a1"/><circle cx="1756.5" cy="955.3" r="6.8" fill="#5977b6"/><circle cx="1664.4" cy="963.3" r="6.8" fill="#349d9b"/><circle cx="1420.5" cy="948.3" r="7" fill="#4a89b1"/><circle cx="1468.6" cy="962.3" r="7" fill="#4192aa"/><circle cx="1521.2" cy="879.2" r="7" fill="#4192aa"/><circle cx="1745" cy="999.4" r="7" fill="#3a98a2"/><circle cx="1609.7" cy="820.8" r="7.2" fill="#359c9c"/><circle cx="1228.3" cy="720.3" r="7.6" fill="#4f84b4"/><circle cx="1413.9" cy="805" r="7.6" fill="#4192a9"/><circle cx="1387.1" cy="822" r="7.6" fill="#498aaf"/><circle cx="1304.4" cy="836.4" r="7.6" fill="#498ab0"/><circle cx="1323.2" cy="837.4" r="7.6" fill="#468dad"/><circle cx="1363.8" cy="884.2" r="7.6" fill="#34a098"/><circle cx="1457.5" cy="935.3" r="7.6" fill="#4b88b1"/><circle cx="1426.5" cy="1003.4" r="7.6" fill="#3999a1"/><circle cx="1280.8" cy="840.4" r="8" fill="#34a197"/><circle cx="1504.6" cy="868.4" r="8" fill="#4f84b4"/><circle cx="1275.4" cy="892.2" r="8" fill="#35a692"/><circle cx="1430.9" cy="971.9" r="8" fill="#34a098"/><circle cx="1267.4" cy="1022.4" r="8" fill="#3b98a3"/><circle cx="1341.4" cy="1047.4" r="8" fill="#359c9c"/><circle cx="1598.3" cy="894.8" r="8" fill="#547db5"/><circle cx="1745" cy="913.3" r="8" fill="#547eb5"/><circle cx="1812.5" cy="980.3" r="8" fill="#359c9c"/><circle cx="1274.4" cy="794.4" r="8.4" fill="#3b98a3"/><circle cx="1404.1" cy="812" r="8.4" fill="#3a98a2"/><circle cx="1247.3" cy="848.4" r="8.4" fill="#369b9e"/><circle cx="1386.5" cy="864.8" r="8.4" fill="#35a692"/><circle cx="1440.1" cy="869.4" r="8.4" fill="#6264b4"/><circle cx="1785.1" cy="836.8" r="8.4" fill="#3f94a8"/><circle cx="1645.7" cy="842.4" r="8.4" fill="#4291aa"/><circle cx="1713.2" cy="859" r="8.4" fill="#4a89b0"/><circle cx="1427.5" cy="907.3" r="8.4" fill="#448fac"/><circle cx="1413.5" cy="919.3" r="8.4" fill="#3999a1"/><circle cx="1318.4" cy="983.3" r="8.4" fill="#3e95a7"/><circle cx="1210.3" cy="987.3" r="8.4" fill="#3f94a8"/><circle cx="1273" cy="1014.4" r="8.4" fill="#4192aa"/><circle cx="1420.5" cy="1018.4" r="8.4" fill="#349d9b"/><circle cx="1257.9" cy="1034.8" r="8.4" fill="#36a98f"/><circle cx="1566.3" cy="899.3" r="8.4" fill="#4b88b1"/><circle cx="1209.3" cy="744.7" r="9" fill="#448fac"/><circle cx="1265.3" cy="852.4" r="9" fill="#488bae"/><circle cx="1503.6" cy="950.3" r="9" fill="#4192aa"/><circle cx="1308.4" cy="993.3" r="9" fill="#3f94a8"/><circle cx="1402.1" cy="1000.4" r="9" fill="#369b9e"/><circle cx="1384.5" cy="1012.4" r="9" fill="#4390ab"/><circle cx="1254.7" cy="1013.4" r="9" fill="#35a692"/><circle cx="1682.4" cy="976.3" r="9" fill="#3a98a2"/><circle cx="1314.4" cy="806" r="9.6" fill="#34a296"/><circle cx="1452.1" cy="955.3" r="9.6" fill="#359c9c"/><circle cx="1409.5" cy="960.3" r="9.6" fill="#4093a9"/><circle cx="1292" cy="966.9" r="9.6" fill="#3a98a2"/><circle cx="1676.4" cy="907.9" r="9.6" fill="#4b88b1"/><circle cx="1544.2" cy="940.3" r="9.6" fill="#339e9a"/><circle cx="1669" cy="857.4" r="10" fill="#3a98a2"/><circle cx="1342.4" cy="915.3" r="10" fill="#379b9e"/><circle cx="1310.4" cy="1049.4" r="10" fill="#3a98a2"/><circle cx="1483" cy="743.9" r="10.4" fill="#4192aa"/><circle cx="1515.6" cy="841.4" r="10.4" fill="#448fac"/><circle cx="1316.4" cy="751.9" r="11" fill="#3d96a6"/><circle cx="1451.3" cy="791.8" r="11" fill="#448fac"/><circle cx="1285.4" cy="827.4" r="11" fill="#379b9f"/><circle cx="1315.4" cy="856.4" r="11" fill="#3a98a2"/><circle cx="1404.5" cy="889.2" r="11" fill="#5181b5"/><circle cx="1359.4" cy="1014.4" r="11" fill="#3f94a8"/><circle cx="1692.4" cy="933.3" r="11" fill="#458ead"/><circle cx="1744.4" cy="972.9" r="11" fill="#379b9f"/><circle cx="1665.4" cy="947.9" r="11.6" fill="#5181b5"/><circle cx="1560.3" cy="958.3" r="11.6" fill="#4f84b4"/><circle cx="1552.2" cy="963.3" r="11.6" fill="#4093a9"/><circle cx="1350" cy="793" r="12.4" fill="#488bae"/><circle cx="1327.4" cy="1066.4" r="12.4" fill="#36a98f"/><circle cx="1676.4" cy="924.3" r="13" fill="#359c9c"/><circle cx="1791.5" cy="948.7" r="13.6" fill="#4e85b3"/><circle cx="1326.4" cy="1051.4" r="14" fill="#3999a1"/><circle cx="1633.3" cy="947.3" r="14" fill="#468dad"/><circle cx="1804.5" cy="1003.4" r="14.4" fill="#6069b6"/><circle cx="1327.4" cy="914.9" r="15" fill="#3f94a8"/><circle cx="1365.4" cy="938.9" r="16" fill="#339e9a"/><circle cx="1620.7" cy="967.3" r="17.6" fill="#488bae"/><circle cx="1473.6" cy="944.3" r="18" fill="#359c9c"/><circle cx="1495.6" cy="978.9" r="20" fill="#359c9c"/><circle cx="1601.3" cy="930.3" r="25" fill="#3f94a8"/><circle cx="1545.8" cy="920.7" r="26" fill="#4192aa"/></g><g font-family="'Liberation Sans',sans-serif" text-anchor="middle" fill="#000" fill-opacity="0.93" stroke="#000" stroke-opacity="0.6" lengthAdjust="spacing"><text x="1440.1" y="650" font-size="8.08" textLength="106.1" stroke-width="0.10">directional distance function</text><text x="1443.5" y="664.5" font-size="8.73" textLength="81.1" stroke-width="0.10">undesirable outputs</text><text x="1244.3" y="674" font-size="8.01" textLength="33.6" stroke-width="0.10">producer</text><text x="1346" y="671" font-size="7.74" textLength="22.4" stroke-width="0.09">sector</text><text x="1451.5" y="686.3" font-size="8.78" textLength="113.7" stroke-width="0.11">environmental performance</text><text x="1267.6" y="694.3" font-size="8.05" textLength="85.7" stroke-width="0.10">environmental impacts</text><text x="1389.1" y="706.4" font-size="8.4" textLength="54.5" stroke-width="0.10">eco-efficiency</text><text x="1454.5" y="705" font-size="7.84" textLength="69.1" stroke-width="0.09">empirical evidence</text><text x="1225.9" y="722.9" font-size="10.2" textLength="99.5" stroke-width="0.12">input-output analysis</text><text x="1318.8" y="731" font-size="7.66" textLength="46.6" stroke-width="0.09">convergence</text><text x="1433.9" y="727.6" font-size="9.75" textLength="52.5" stroke-width="0.12">productivity</text><text x="1378.1" y="741.2" font-size="9.6" textLength="24.4" stroke-width="0.12">index</text><text x="1210.9" y="747.9" font-size="11.21" textLength="95.5" stroke-width="0.13">international trade</text><text x="1317.8" y="756.1" font-size="12.61" textLength="76.1" stroke-width="0.15">consumption</text><text x="1277.8" y="778.1" font-size="9.18" textLength="116.7" stroke-width="0.11">greenhouse-gas emissions</text><text x="1399.1" y="775.8" font-size="8.81" textLength="53.7" stroke-width="0.11">methodology</text><text x="1450.9" y="773.1" font-size="8.44" textLength="47.4" stroke-width="0.10">aggregation</text><text x="1241.5" y="790.5" font-size="8.58" textLength="43.6" stroke-width="0.10">hypothesis</text><text x="1350" y="797" font-size="12.12" textLength="39.4" stroke-width="0.15">energy</text><text x="1451.7" y="795.4" font-size="11.43" textLength="50.5" stroke-width="0.14">efficiency</text><text x="1263.9" y="806.5" font-size="9.61" textLength="71.1" stroke-width="0.12">european union</text><text x="1314" y="809.2" font-size="10.63" textLength="27" stroke-width="0.13">china</text><text x="1404.5" y="815.1" font-size="11.06" textLength="53.7" stroke-width="0.13">innovation</text><text x="1167.9" y="817.8" font-size="8.08" textLength="29.6" stroke-width="0.10">biofuels</text><text x="1285.4" y="831" font-size="11.22" textLength="53.1" stroke-width="0.13">emissions</text><text x="1341.2" y="831.6" font-size="9.31" textLength="50.7" stroke-width="0.11">perspective</text><text x="1403.1" y="832.4" font-size="8.67" textLength="37.4" stroke-width="0.10">economy</text><text x="1214.7" y="837.2" font-size="8.01" textLength="35" stroke-width="0.10">degrowth</text><text x="1265.9" y="855.4" font-size="11.37" textLength="45" stroke-width="0.14">pollution</text><text x="1315.8" y="860.4" font-size="12.73" textLength="40.6" stroke-width="0.15">growth</text><text x="1437.9" y="857.9" font-size="9.48" textLength="42" stroke-width="0.11">electricity</text><text x="1140.2" y="856.2" font-size="8.08" textLength="33.4" stroke-width="0.10">transfers</text><text x="1207.5" y="862.1" font-size="9.46" textLength="32.4" stroke-width="0.11">income</text><text x="1440.1" y="872.3" font-size="11.01" textLength="64.5" stroke-width="0.13">environment</text><text x="1503.6" y="871.9" font-size="10.06" textLength="41" stroke-width="0.12">behavior</text><text x="1334.8" y="873.7" font-size="8.32" textLength="57.1" stroke-width="0.10">water pollution</text><text x="1198.9" y="875.7" font-size="9.46" textLength="128.1" stroke-width="0.11">environmental kuznets curve</text><text x="1482.8" y="747.9" font-size="11.41" textLength="143.7" stroke-width="0.14">data envelopment analysis</text><text x="1515.4" y="763.1" font-size="7.82" textLength="32.8" stroke-width="0.09">business</text><text x="1528.8" y="780.4" font-size="8.14" textLength="35.6" stroke-width="0.10">reduction</text><text x="1574.3" y="776.6" font-size="8.87" textLength="33" stroke-width="0.11">industry</text><text x="1571.3" y="791.4" font-size="8.68" textLength="43.6" stroke-width="0.10">generation</text><text x="1516.2" y="796.4" font-size="8.03" textLength="37" stroke-width="0.10">prediction</text><text x="1602.5" y="730.9" font-size="8.78" textLength="70.1" stroke-width="0.11">or in government</text><text x="1716.8" y="752.7" font-size="7.98" textLength="41" stroke-width="0.10">advertising</text><text x="1624.1" y="778.9" font-size="7.74" textLength="32" stroke-width="0.09">analytics</text><text x="1672" y="776.6" font-size="8.11" textLength="48.4" stroke-width="0.10">procurement</text><text x="1724.8" y="775.4" font-size="8.19" textLength="47.4" stroke-width="0.10">commitment</text><text x="1830.5" y="785.6" font-size="8.14" textLength="64.5" stroke-width="0.10">product warranty</text><text x="1692" y="791.8" font-size="8.74" textLength="48" stroke-width="0.10">real options</text><text x="1629.3" y="809.1" font-size="7.89" textLength="41" stroke-width="0.09">forecasting</text><text x="1682.4" y="809.9" font-size="8.31" textLength="31.4" stroke-width="0.10">volatility</text><text x="1546.2" y="816.3" font-size="9.13" textLength="74.5" stroke-width="0.11">system dynamics</text><text x="1796.1" y="814.4" font-size="9.34" textLength="96.7" stroke-width="0.11">revenue management</text><text x="1609.9" y="823.9" font-size="9.53" textLength="49" stroke-width="0.11">investment</text><text x="1727.4" y="823.8" font-size="7.95" textLength="21.6" stroke-width="0.10">repair</text><text x="1690.4" y="829.6" font-size="8.77" textLength="25.4" stroke-width="0.11">failure</text><text x="1571.3" y="837.5" font-size="8.87" textLength="30.4" stroke-width="0.11">options</text><text x="1784.5" y="839.8" font-size="10.09" textLength="61.5" stroke-width="0.12">maintenance</text><text x="1660.6" y="842.6" font-size="7.98" textLength="113.7" stroke-width="0.10">robustness and sensitivity ana</text><text x="1514.4" y="844.9" font-size="11.67" textLength="69.7" stroke-width="0.14">performance</text><text x="1800.5" y="856.4" font-size="8.61" textLength="63.7" stroke-width="0.10">dynamic pricing</text><text x="1668.6" y="861.4" font-size="11.78" textLength="64.1" stroke-width="0.14">competition</text><text x="1575.3" y="866.2" font-size="7.87" textLength="34.4" stroke-width="0.09">inference</text><text x="1860.2" y="871.9" font-size="8.1" textLength="54.5" stroke-width="0.10">bullwhip effect</text><text x="1187.7" y="894.3" font-size="7.62" textLength="39.6" stroke-width="0.09">democracy</text><text x="1275.4" y="895.3" font-size="10.15" textLength="33" stroke-width="0.12">carbon</text><text x="1340" y="897.3" font-size="9.48" textLength="28" stroke-width="0.11">trends</text><text x="1406.9" y="895.2" font-size="12.6" textLength="64.1" stroke-width="0.15">economics</text><text x="1457.5" y="888.8" font-size="8.52" textLength="17.6" stroke-width="0.10">trust</text><text x="1493" y="888" font-size="7.86" textLength="39" stroke-width="0.09">carbon tax</text><text x="1245.9" y="911" font-size="7.92" textLength="52.5" stroke-width="0.10">compensation</text><text x="1465.5" y="907.6" font-size="7.87" textLength="46" stroke-width="0.09">acceptability</text><text x="1327.8" y="919" font-size="14.46" textLength="88.1" stroke-width="0.17">sustainability</text><text x="1399.5" y="915" font-size="8.3" textLength="50.1" stroke-width="0.10">classification</text><text x="1508.6" y="915" font-size="7.69" textLength="15" stroke-width="0.09">bias</text><text x="1184.7" y="921.7" font-size="7.52" textLength="28" stroke-width="0.09">leakage</text><text x="1265.3" y="923.9" font-size="8.25" textLength="19" stroke-width="0.10">state</text><text x="1466.6" y="922.1" font-size="8.02" textLength="63.1" stroke-width="0.10">conjoint-analysis</text><text x="1161.8" y="935.7" font-size="8.13" textLength="47.4" stroke-width="0.10">afforestation</text><text x="1239.3" y="940.6" font-size="9.15" textLength="92.5" stroke-width="0.11">ecological economics</text><text x="1365.4" y="942.7" font-size="13.99" textLength="100.1" stroke-width="0.17">climate change</text><text x="1474.2" y="948.7" font-size="15.97" textLength="50.1" stroke-width="0.19">impact</text><text x="1156.6" y="948.3" font-size="7.91" textLength="44.4" stroke-width="0.09">water policy</text><text x="1253.3" y="954.1" font-size="7.89" textLength="55.1" stroke-width="0.09">q methodology</text><text x="1185.7" y="969.8" font-size="8.36" textLength="31.6" stroke-width="0.10">amazon</text><text x="1219.3" y="967.4" font-size="7.68" textLength="30.4" stroke-width="0.09">biomass</text><text x="1292" y="970.1" font-size="11.35" textLength="45.6" stroke-width="0.14">land use</text><text x="1385.5" y="977" font-size="9.06" textLength="59.5" stroke-width="0.11">meta-analysis</text><text x="1211.1" y="990.1" font-size="11.07" textLength="68.1" stroke-width="0.13">deforestation</text><text x="1418.1" y="993" font-size="9.66" textLength="39.4" stroke-width="0.12">adoption</text><text x="1309" y="996.5" font-size="11.69" textLength="58.1" stroke-width="0.14">agriculture</text><text x="1372.5" y="997.3" font-size="7.9" textLength="47.6" stroke-width="0.09">stakeholders</text><text x="1203.3" y="1003.9" font-size="7.97" textLength="24" stroke-width="0.10">justice</text><text x="1255.3" y="1016.1" font-size="10.51" textLength="58.5" stroke-width="0.13">governance</text><text x="1446.9" y="1013.8" font-size="8.26" textLength="56.7" stroke-width="0.10">consequences</text><text x="1360" y="1018.9" font-size="12.6" textLength="53.7" stroke-width="0.15">valuation</text><text x="1312" y="1033.6" font-size="8.85" textLength="23" stroke-width="0.11">rights</text><text x="1419.5" y="1032.9" font-size="10.48" textLength="51.5" stroke-width="0.13">population</text><text x="1496.2" y="1034.7" font-size="7.77" textLength="29.4" stroke-width="0.09">big data</text><text x="1257.7" y="1037.4" font-size="10.16" textLength="27" stroke-width="0.12">forest</text><text x="1208.3" y="1043.7" font-size="7.72" textLength="26" stroke-width="0.09">mexico</text><text x="1390.5" y="1046.3" font-size="7.76" textLength="22" stroke-width="0.09">safety</text><text x="1340.4" y="1050" font-size="10.54" textLength="43.6" stroke-width="0.13">resource</text><text x="1461.5" y="1050.9" font-size="9.6" textLength="38" stroke-width="0.12">program</text><text x="1269.4" y="1051.8" font-size="8.16" textLength="29.4" stroke-width="0.10">lessons</text><text x="1179.7" y="1058.7" font-size="8.89" textLength="60.5" stroke-width="0.11">property rights</text><text x="1326.4" y="1070.1" font-size="12.4" textLength="115.1" stroke-width="0.15">ecosystem services</text><text x="1451.5" y="1080.9" font-size="8.33" textLength="31" stroke-width="0.10">altruism</text><text x="1501" y="1076.7" font-size="7.69" textLength="25" stroke-width="0.09">spread</text><text x="1246.3" y="1092.5" font-size="9.38" textLength="102.1" stroke-width="0.11">environmental services</text><text x="1332" y="1094.6" font-size="7.81" textLength="46.6" stroke-width="0.09">mechanisms</text><text x="1391.5" y="1094.2" font-size="9.25" textLength="42.6" stroke-width="0.11">payments</text><text x="1496" y="983.9" font-size="16.54" textLength="102.7" stroke-width="0.20">management</text><text x="1598.3" y="881.8" font-size="9.75" textLength="38.4" stroke-width="0.12">diffusion</text><text x="1719" y="887.5" font-size="9.7" textLength="42.4" stroke-width="0.12">algorithm</text><text x="1787.5" y="883.7" font-size="8.35" textLength="29.6" stroke-width="0.10">internet</text><text x="1875" y="891" font-size="7.75" textLength="44.4" stroke-width="0.09">newsvendor</text><text x="1598.9" y="897.2" font-size="10.51" textLength="84.5" stroke-width="0.13">decision analysis</text><text x="1727.4" y="903.4" font-size="9.23" textLength="108.1" stroke-width="0.11">markov decision process</text><text x="1803.5" y="910.7" font-size="8.24" textLength="37" stroke-width="0.10">optimality</text><text x="1840.5" y="911.3" font-size="9.55" textLength="22" stroke-width="0.11">retail</text><text x="1890" y="916.7" font-size="8.13" textLength="36" stroke-width="0.10">lost sales</text><text x="1611.1" y="915.7" font-size="10.24" textLength="49" stroke-width="0.12">simulation</text><text x="1545.8" y="926.6" font-size="19.87" textLength="54.1" stroke-width="0.24">policy</text><text x="1768.9" y="924.2" font-size="9.7" textLength="75.7" stroke-width="0.12">inventory control</text><text x="1678.6" y="928.7" font-size="13.33" textLength="75.7" stroke-width="0.16">optimization</text><text x="1790.1" y="953.1" font-size="12.82" textLength="159.2" stroke-width="0.15">supply chain management</text><text x="1560.7" y="958.1" font-size="12.52" textLength="24.4" stroke-width="0.15">cost</text><text x="1681.8" y="962.7" font-size="10.12" textLength="55.7" stroke-width="0.12">timequeues</text><text x="1619.9" y="970.3" font-size="14.74" textLength="49.6" stroke-width="0.18">system</text><text x="1683" y="978.8" font-size="10.35" textLength="32.4" stroke-width="0.12">design</text><text x="1743.8" y="977.2" font-size="11.44" textLength="67.7" stroke-width="0.14">supply chain</text><text x="1812.1" y="983.8" font-size="10.29" textLength="59.7" stroke-width="0.12">coordination</text><text x="1581.7" y="987.4" font-size="8.05" textLength="17.6" stroke-width="0.10">yield</text><text x="1745.4" y="1002.1" font-size="9.1" textLength="34.4" stroke-width="0.11">logistics</text><text x="1803.9" y="1006.5" font-size="13.91" textLength="60.1" stroke-width="0.17">inventory</text><text x="1876" y="1005.3" font-size="7.95" textLength="46" stroke-width="0.10">value-at-risk</text><text x="1543.8" y="1008.6" font-size="8.87" textLength="44" stroke-width="0.11">integration</text><text x="1608.7" y="1008.7" font-size="7.73" textLength="27.4" stroke-width="0.09">storage</text><text x="1639.9" y="1025.5" font-size="8.28" textLength="72.5" stroke-width="0.10">sensitivity analysis</text><text x="1817.1" y="1025.4" font-size="8.15" textLength="54.5" stroke-width="0.10">replenishment</text><text x="1718.8" y="1030.3" font-size="7.89" textLength="41" stroke-width="0.09">warehouse</text><text x="1557.7" y="1033.4" font-size="9.41" textLength="40" stroke-width="0.11">networks</text><text x="1790.5" y="1039.9" font-size="9.65" textLength="72.5" stroke-width="0.12">inventory model</text><text x="1623.9" y="1041.2" font-size="8.12" textLength="21.6" stroke-width="0.10">game</text><text x="1558.5" y="1047.8" font-size="8.51" textLength="69.5" stroke-width="0.10">risk management</text><text x="1657.8" y="1048.7" font-size="7.78" textLength="17" stroke-width="0.09">level</text><text x="1878" y="1047.1" font-size="7.78" textLength="21.6" stroke-width="0.09">single</text><text x="1715.4" y="1058.9" font-size="8.33" textLength="31" stroke-width="0.10">quantity</text><text x="1826.7" y="1067.9" font-size="8.32" textLength="28" stroke-width="0.10">lot-size</text><text x="1571.7" y="1074.2" font-size="7.2" textLength="13.6" stroke-width="0.09">size</text><text x="1539.8" y="1079.6" font-size="7.9" textLength="42" stroke-width="0.09">vaccination</text><text x="1683.4" y="1079" font-size="8.46" textLength="31" stroke-width="0.10">inflation</text><text x="1767.9" y="1088.5" font-size="8.79" textLength="123.1" stroke-width="0.11">economic order quantit model</text><text x="1507.4" y="1092.6" font-size="8.66" textLength="49.6" stroke-width="0.10">temperature</text><text x="1569.9" y="1095.5" font-size="8.25" textLength="38" stroke-width="0.10">sensitivity</text><text x="1181.2" y="1109.7" font-size="8.1" textLength="67" stroke-width="0.10">common property</text><text x="1257.7" y="1112.4" font-size="9.07" textLength="37" stroke-width="0.11">irrigation</text><text x="1346.9" y="1109.4" font-size="8.46" textLength="18" stroke-width="0.10">area</text><text x="1429.8" y="1109.5" font-size="8.32" textLength="30" stroke-width="0.10">drought</text><text x="1388.3" y="1116.1" font-size="8.17" textLength="28" stroke-width="0.10">context</text><text x="1212.8" y="1125.5" font-size="8.17" textLength="74.4" stroke-width="0.10">institutional change</text><text x="1489.8" y="1121.1" font-size="7.65" textLength="38" stroke-width="0.09">social cost</text><text x="1296.3" y="1133.2" font-size="8.68" textLength="40" stroke-width="0.10">commons</text><text x="1369.3" y="1128.8" font-size="8.61" textLength="78.4" stroke-width="0.10">economic valuation</text><text x="1347.7" y="1147" font-size="7.95" textLength="37.6" stroke-width="0.10">recreation</text><text x="1389.3" y="1144.1" font-size="8.07" textLength="39.6" stroke-width="0.10">river basin</text><text x="1471.8" y="1145.3" font-size="7.59" textLength="22" stroke-width="0.09">ocean</text><text x="1331.9" y="1162.3" font-size="8.1" textLength="45" stroke-width="0.10">phosphorus</text><text x="1444" y="1162.7" font-size="8.08" textLength="34.4" stroke-width="0.10">flood risk</text><text x="1386.3" y="1168" font-size="8.46" textLength="14" stroke-width="0.10">fish</text><text x="1369.7" y="1181.1" font-size="8.03" textLength="47" stroke-width="0.10">preservation</text><text x="1754.9" y="1105.2" font-size="7.91" textLength="65" stroke-width="0.09">permissible delay</text><text x="1842.8" y="1103.8" font-size="7.87" textLength="51.6" stroke-width="0.09">lot-size model</text><text x="1839.4" y="1119" font-size="7.82" textLength="37" stroke-width="0.09">purchaser</text><text x="1537.2" y="1115.3" font-size="8.28" textLength="50.4" stroke-width="0.10">opportunities</text><text x="1528.6" y="1164.3" font-size="7.65" textLength="29.4" stroke-width="0.09">damage</text></g></g><g id="legend"><rect x="1832.2" y="1188.9" width="215.8" height="33" rx="6.5" fill="#fff" stroke="#cfcfcf" stroke-width="1"/><defs><linearGradient id="vg" x1="0" x2="1" y1="0" y2="0"><stop offset="0" stop-color="#443a83"/><stop offset="0.2" stop-color="#31688e"/><stop offset="0.4" stop-color="#21908c"/><stop offset="0.55" stop-color="#20a486"/><stop offset="0.7" stop-color="#5ec962"/><stop offset="0.85" stop-color="#a5db36"/><stop offset="1" stop-color="#fde725"/></linearGradient></defs><rect x="1839.3" y="1195.2" width="201.7" height="10.4" fill="url(#vg)" stroke="#8a8a8a" stroke-width="0.6"/><path d="M1867.4 1202.2V1209.8" stroke="#6e6e6e" stroke-width="0.7"/><text x="1867.4" y="1217.8" font-size="8.3" text-anchor="middle" font-family="'Liberation Sans',sans-serif" fill="#333">2012</text><path d="M1903.4 1202.2V1209.8" stroke="#6e6e6e" stroke-width="0.7"/><text x="1903.4" y="1217.8" font-size="8.3" text-anchor="middle" font-family="'Liberation Sans',sans-serif" fill="#333">2014</text><path d="M1940.5 1202.2V1209.8" stroke="#6e6e6e" stroke-width="0.7"/><text x="1940.5" y="1217.8" font-size="8.3" text-anchor="middle" font-family="'Liberation Sans',sans-serif" fill="#333">2016</text><path d="M1976.5 1202.2V1209.8" stroke="#6e6e6e" stroke-width="0.7"/><text x="1976.5" y="1217.8" font-size="8.3" text-anchor="middle" font-family="'Liberation Sans',sans-serif" fill="#333">2018</text><path d="M2012.6 1202.2V1209.8" stroke="#6e6e6e" stroke-width="0.7"/><text x="2012.6" y="1217.8" font-size="8.3" text-anchor="middle" font-family="'Liberation Sans',sans-serif" fill="#333">2020</text></g><g font-family="'Liberation Serif',serif" font-weight="bold" font-size="35.3" fill="#000"><text x="56.6" y="40.8">A</text><text x="1125.6" y="35.2">B</text><text x="-1.2" y="736.7">C</text><text x="1101.6" y="697.8">D</text></g></svg></body></html>
